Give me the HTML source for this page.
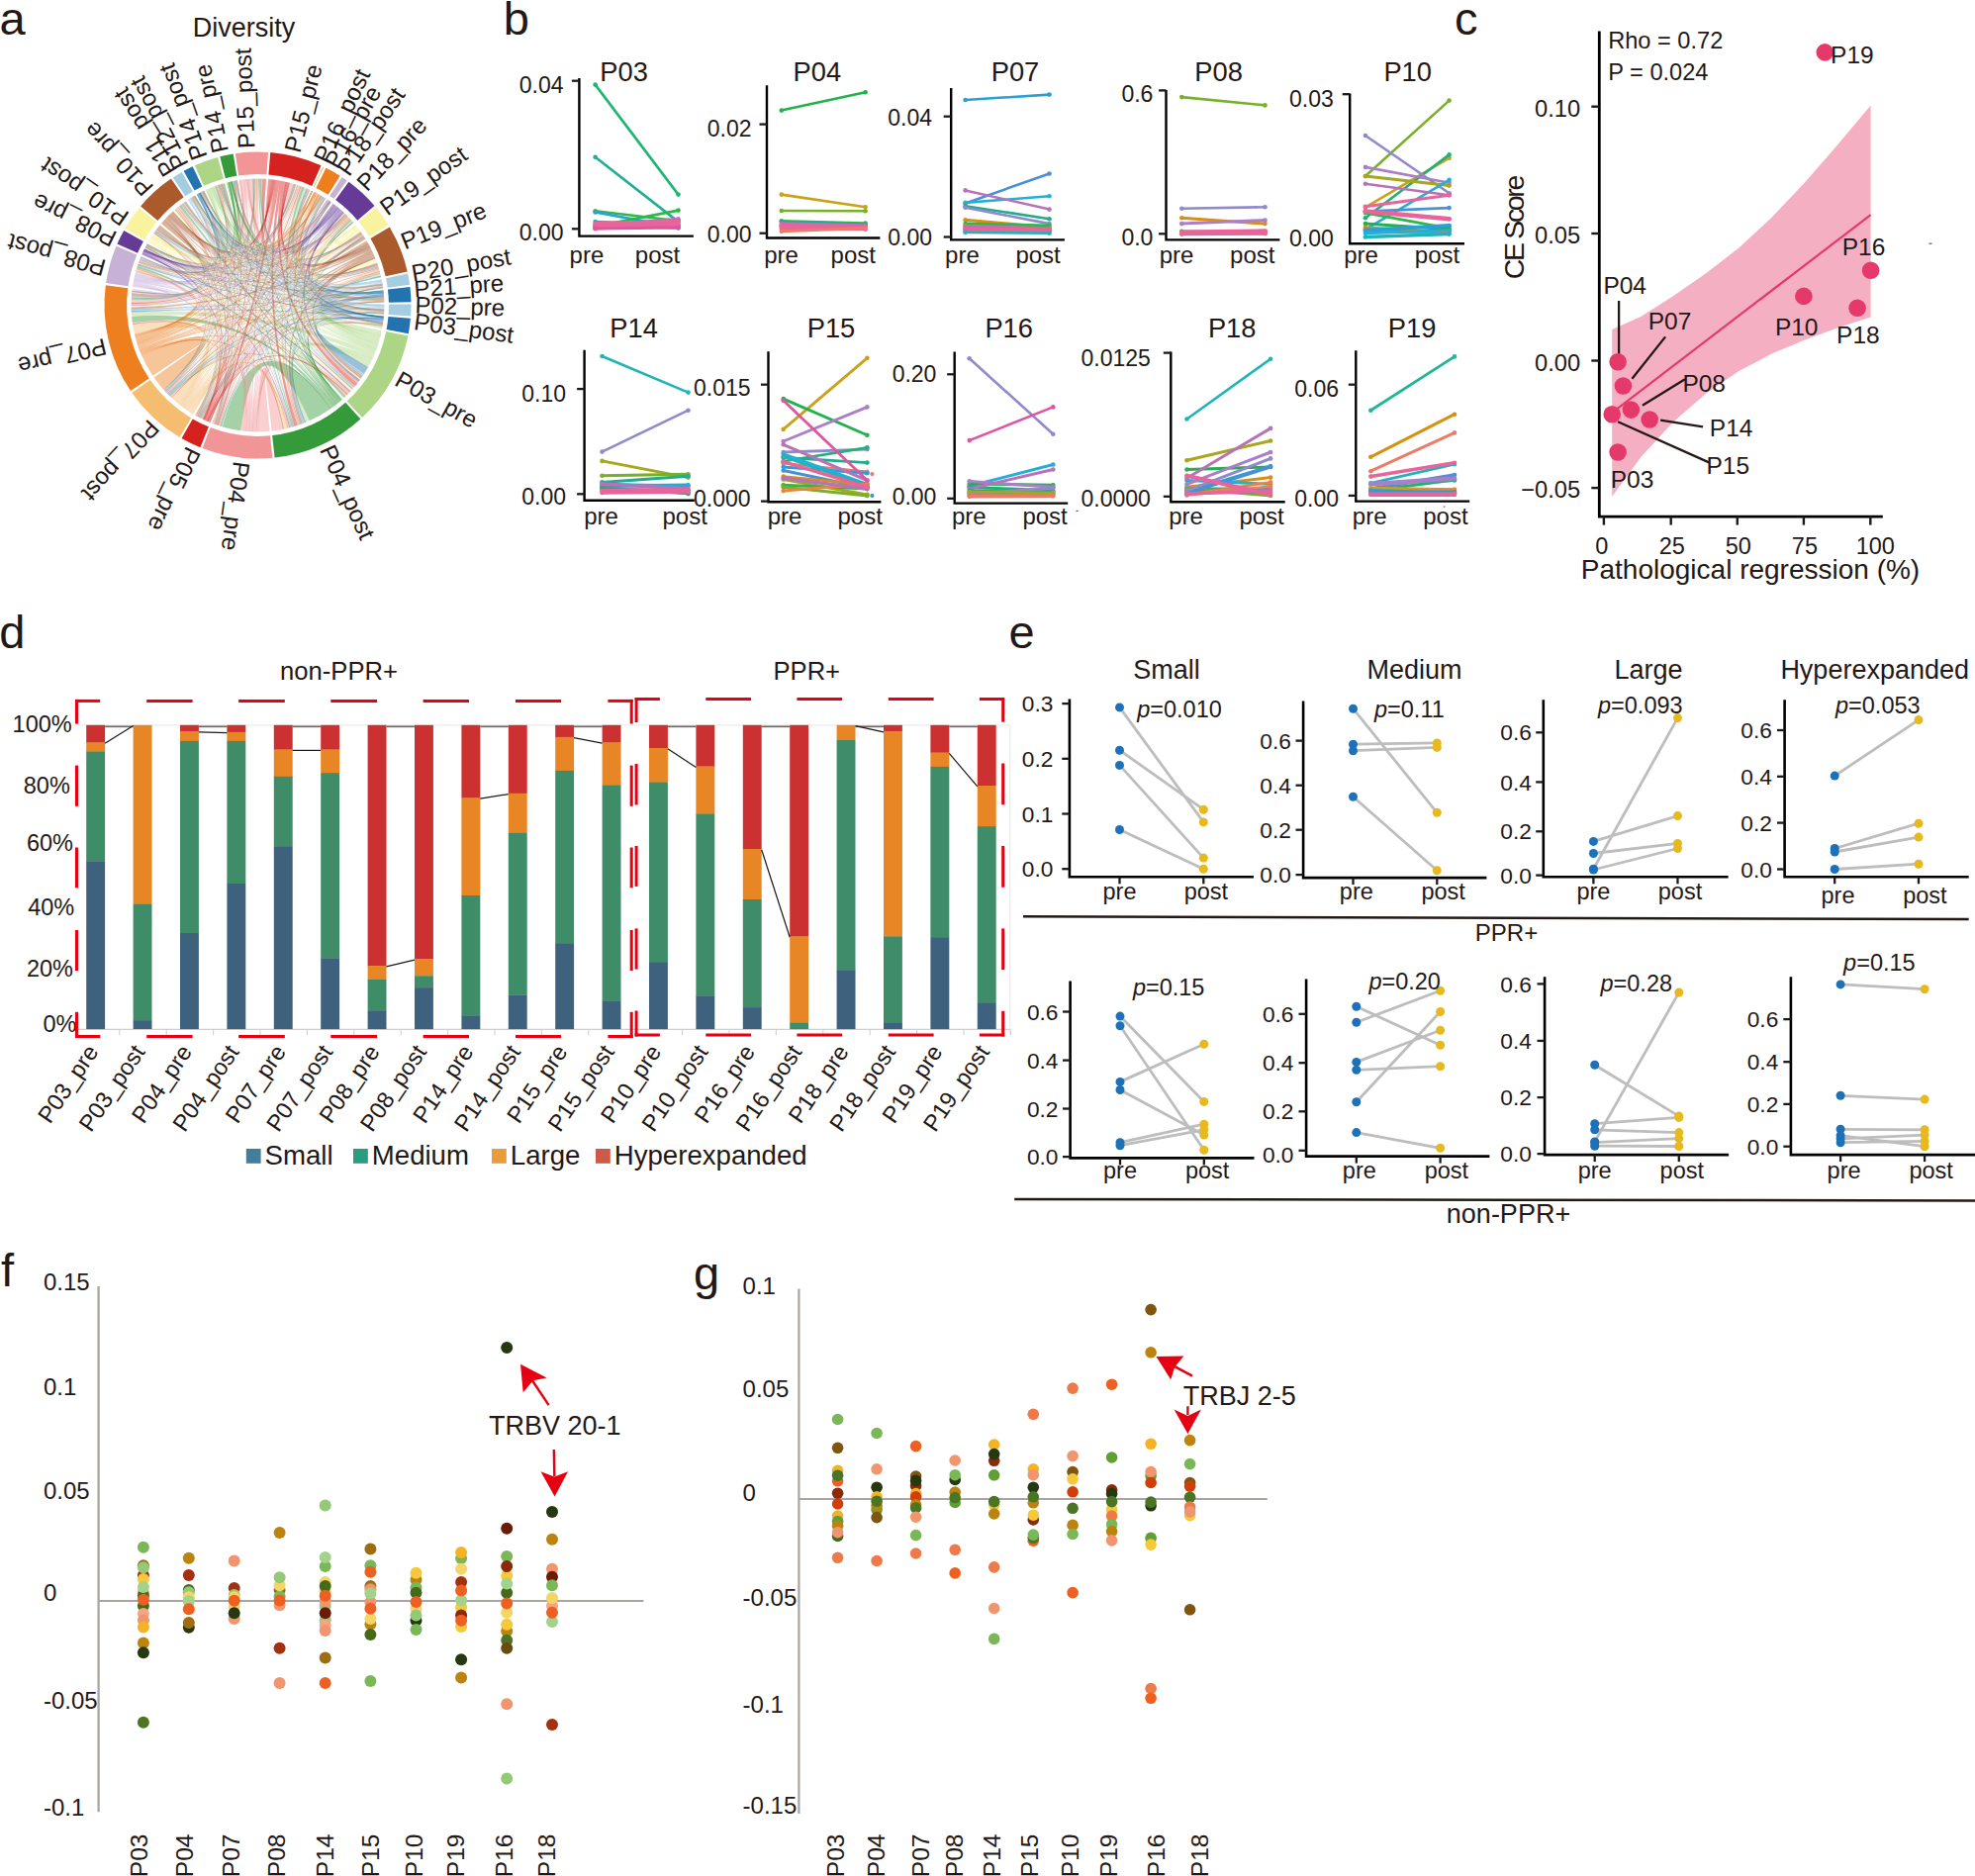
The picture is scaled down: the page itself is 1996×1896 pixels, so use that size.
<!DOCTYPE html>
<html><head><meta charset="utf-8"><title>Figure</title>
<style>
html,body{margin:0;padding:0;background:#fff;}
body{width:1996px;height:1896px;overflow:hidden;}
svg{display:block;font-family:"Liberation Sans",Arial,Helvetica,sans-serif;}
</style></head><body>
<svg width="1996" height="1896" viewBox="0 0 1996 1896">
<rect width="1996" height="1896" fill="#fff"/>
<g id="panel-a">
<text x="-0.4" y="34.5" font-size="47" text-anchor="start" fill="#231815" >a</text>
<text x="246.5" y="37.2" font-size="27" text-anchor="middle" fill="#231815" >Diversity</text>
<g fill-opacity="0.45" stroke-opacity="0.2" stroke-width="0.3">
<path d="M333.8 413.2A127.8 127.8 0 0 1 312.9 425.1Q260.5 308.5 243.0 435.1A127.8 127.8 0 0 1 224.7 431.2Q260.5 308.5 333.8 413.2Z" fill="#359a3a" stroke="#359a3a"/>
<path d="M154.4 379.8A127.8 127.8 0 0 1 143.2 359.1Q260.5 308.5 165.2 393.7A127.8 127.8 0 0 1 155.7 381.6Q260.5 308.5 154.4 379.8Z" fill="#ee7f1e" stroke="#ee7f1e"/>
<path d="M272.5 435.7A127.8 127.8 0 0 1 261.3 436.3Q260.5 308.5 286.3 433.7A127.8 127.8 0 0 1 274.7 435.5Q260.5 308.5 272.5 435.7Z" fill="#f19596" stroke="#f19596"/>
<path d="M179.7 407.5A127.8 127.8 0 0 1 173.5 402.1Q260.5 308.5 136.1 337.8A127.8 127.8 0 0 1 134.2 327.9Q260.5 308.5 179.7 407.5Z" fill="#f5bd6f" stroke="#f5bd6f"/>
<path d="M374.5 366.3A127.8 127.8 0 0 1 372.0 371.0Q260.5 308.5 312.9 425.1A127.8 127.8 0 0 1 308.9 426.8Q260.5 308.5 374.5 366.3Z" fill="#acd686" stroke="#acd686"/>
<path d="M378.7 357.1A127.8 127.8 0 0 1 376.7 361.8Q260.5 308.5 133.2 320.3A127.8 127.8 0 0 1 132.9 315.5Q260.5 308.5 378.7 357.1Z" fill="#acd686" stroke="#acd686"/>
<path d="M385.7 334.2A127.8 127.8 0 0 1 384.6 338.9Q260.5 308.5 386.5 329.6A127.8 127.8 0 0 1 386.1 332.0Q260.5 308.5 385.7 334.2Z" fill="#acd686" stroke="#acd686"/>
<path d="M251.5 181.0A127.8 127.8 0 0 1 255.5 180.8Q260.5 308.5 292.6 184.8A127.8 127.8 0 0 1 296.8 186.0Q260.5 308.5 251.5 181.0Z" fill="#f19596" stroke="#f19596"/>
<path d="M163.0 225.8A127.8 127.8 0 0 1 165.6 222.9Q260.5 308.5 159.2 230.6A127.8 127.8 0 0 1 161.6 227.6Q260.5 308.5 163.0 225.8Z" fill="#ab5b2b" stroke="#ab5b2b"/>
<path d="M193.0 417.0A127.8 127.8 0 0 1 189.8 415.0Q260.5 308.5 290.6 432.7A127.8 127.8 0 0 1 286.7 433.6Q260.5 308.5 193.0 417.0Z" fill="#f5bd6f" stroke="#f5bd6f"/>
<path d="M279.4 182.1A127.8 127.8 0 0 1 283.0 182.7Q260.5 308.5 220.6 429.9A127.8 127.8 0 0 1 218.8 429.3Q260.5 308.5 279.4 182.1Z" fill="#d6221f" stroke="#d6221f"/>
<path d="M381.9 348.5A127.8 127.8 0 0 1 380.8 351.8Q260.5 308.5 307.4 189.6A127.8 127.8 0 0 1 309.7 190.6Q260.5 308.5 381.9 348.5Z" fill="#acd686" stroke="#acd686"/>
<path d="M376.0 363.2A127.8 127.8 0 0 1 374.5 366.3Q260.5 308.5 224.7 431.2A127.8 127.8 0 0 1 223.6 430.9Q260.5 308.5 376.0 363.2Z" fill="#acd686" stroke="#acd686"/>
<path d="M384.2 340.6A127.8 127.8 0 0 1 383.3 343.7Q260.5 308.5 384.2 276.5A127.8 127.8 0 0 1 384.8 278.7Q260.5 308.5 384.2 340.6Z" fill="#acd686" stroke="#acd686"/>
<path d="M283.0 182.7A127.8 127.8 0 0 1 285.9 183.3Q260.5 308.5 300.7 429.8A127.8 127.8 0 0 1 297.5 430.8Q260.5 308.5 283.0 182.7Z" fill="#d6221f" stroke="#d6221f"/>
<path d="M285.9 183.3A127.8 127.8 0 0 1 288.9 183.9Q260.5 308.5 361.2 387.2A127.8 127.8 0 0 1 358.8 390.2Q260.5 308.5 285.9 183.3Z" fill="#d6221f" stroke="#d6221f"/>
<path d="M362.7 231.8A127.8 127.8 0 0 1 364.5 234.2Q260.5 308.5 379.2 261.2A127.8 127.8 0 0 1 381.1 266.1Q260.5 308.5 362.7 231.8Z" fill="#f8f39c" stroke="#f8f39c"/>
<path d="M377.7 257.5A127.8 127.8 0 0 1 378.8 260.2Q260.5 308.5 366.6 379.7A127.8 127.8 0 0 1 364.6 382.7Q260.5 308.5 377.7 257.5Z" fill="#ab5b2b" stroke="#ab5b2b"/>
<path d="M336.9 410.9A127.8 127.8 0 0 1 334.6 412.6Q260.5 308.5 133.9 326.1A127.8 127.8 0 0 1 133.2 320.3Q260.5 308.5 336.9 410.9Z" fill="#359a3a" stroke="#359a3a"/>
<path d="M140.1 351.4A127.8 127.8 0 0 1 139.2 348.7Q260.5 308.5 351.7 219.0A127.8 127.8 0 0 1 353.2 220.6Q260.5 308.5 140.1 351.4Z" fill="#ee7f1e" stroke="#ee7f1e"/>
<path d="M166.1 222.4A127.8 127.8 0 0 1 167.9 220.4Q260.5 308.5 133.0 299.6A127.8 127.8 0 0 1 133.3 296.1Q260.5 308.5 166.1 222.4Z" fill="#ab5b2b" stroke="#ab5b2b"/>
<path d="M387.5 323.2A127.8 127.8 0 0 1 387.1 325.8Q260.5 308.5 372.0 371.0A127.8 127.8 0 0 1 367.9 377.7Q260.5 308.5 387.5 323.2Z" fill="#2273af" stroke="#2273af"/>
<path d="M246.8 435.6A127.8 127.8 0 0 1 244.2 435.3Q260.5 308.5 173.3 402.0A127.8 127.8 0 0 1 171.9 400.6Q260.5 308.5 246.8 435.6Z" fill="#f19596" stroke="#f19596"/>
<path d="M271.2 181.1A127.8 127.8 0 0 1 273.8 181.4Q260.5 308.5 266.3 180.8A127.8 127.8 0 0 1 269.0 181.0Q260.5 308.5 271.2 181.1Z" fill="#d6221f" stroke="#d6221f"/>
<path d="M344.4 212.1A127.8 127.8 0 0 1 346.3 213.8Q260.5 308.5 363.8 383.8A127.8 127.8 0 0 1 362.2 385.8Q260.5 308.5 344.4 212.1Z" fill="#653b97" stroke="#653b97"/>
<path d="M370.5 243.4A127.8 127.8 0 0 1 371.7 245.6Q260.5 308.5 367.9 239.3A127.8 127.8 0 0 1 369.4 241.5Q260.5 308.5 370.5 243.4Z" fill="#ab5b2b" stroke="#ab5b2b"/>
<path d="M195.1 418.3A127.8 127.8 0 0 1 193.0 417.0Q260.5 308.5 215.8 428.2A127.8 127.8 0 0 1 214.7 427.8Q260.5 308.5 195.1 418.3Z" fill="#f5bd6f" stroke="#f5bd6f"/>
<path d="M376.7 255.3A127.8 127.8 0 0 1 377.7 257.5Q260.5 308.5 305.9 428.0A127.8 127.8 0 0 1 303.4 428.9Q260.5 308.5 376.7 255.3Z" fill="#ab5b2b" stroke="#ab5b2b"/>
<path d="M136.7 276.7A127.8 127.8 0 0 1 137.3 274.3Q260.5 308.5 146.0 251.8A127.8 127.8 0 0 1 146.8 250.2Q260.5 308.5 136.7 276.7Z" fill="#c7b1d6" stroke="#c7b1d6"/>
<path d="M244.3 181.7A127.8 127.8 0 0 1 246.5 181.5Q260.5 308.5 132.7 305.9A127.8 127.8 0 0 1 132.8 302.7Q260.5 308.5 244.3 181.7Z" fill="#f19596" stroke="#f19596"/>
<path d="M336.5 205.8A127.8 127.8 0 0 1 338.3 207.1Q260.5 308.5 334.1 204.0A127.8 127.8 0 0 1 334.7 204.5Q260.5 308.5 336.5 205.8Z" fill="#653b97" stroke="#653b97"/>
<path d="M154.2 237.6A127.8 127.8 0 0 1 155.4 235.7Q260.5 308.5 174.8 213.7A127.8 127.8 0 0 1 176.9 211.8Q260.5 308.5 154.2 237.6Z" fill="#f8f39c" stroke="#f8f39c"/>
<path d="M383.2 344.2A127.8 127.8 0 0 1 382.6 346.2Q260.5 308.5 355.3 222.8A127.8 127.8 0 0 1 356.3 223.9Q260.5 308.5 383.2 344.2Z" fill="#acd686" stroke="#acd686"/>
<path d="M137.9 344.6A127.8 127.8 0 0 1 137.3 342.6Q260.5 308.5 219.2 187.6A127.8 127.8 0 0 1 220.4 187.1Q260.5 308.5 137.9 344.6Z" fill="#ee7f1e" stroke="#ee7f1e"/>
<path d="M229.1 184.6A127.8 127.8 0 0 1 231.0 184.2Q260.5 308.5 224.5 185.9A127.8 127.8 0 0 1 227.0 185.2Q260.5 308.5 229.1 184.6Z" fill="#359a3a" stroke="#359a3a"/>
<path d="M134.1 289.8A127.8 127.8 0 0 1 134.3 288.1Q260.5 308.5 133.5 294.1A127.8 127.8 0 0 1 133.8 292.0Q260.5 308.5 134.1 289.8Z" fill="#c7b1d6" stroke="#c7b1d6"/>
<path d="M258.2 436.3A127.8 127.8 0 0 1 256.6 436.2Q260.5 308.5 383.7 274.5A127.8 127.8 0 0 1 384.1 276.0Q260.5 308.5 258.2 436.3Z" fill="#f19596" stroke="#f19596"/>
<path d="M261.3 436.3A127.8 127.8 0 0 1 259.6 436.3Q260.5 308.5 350.7 399.0A127.8 127.8 0 0 1 349.3 400.4Q260.5 308.5 261.3 436.3Z" fill="#f19596" stroke="#f19596"/>
<path d="M382.5 346.6A127.8 127.8 0 0 1 382.0 348.1Q260.5 308.5 327.4 199.6A127.8 127.8 0 0 1 328.1 200.0Q260.5 308.5 382.5 346.6Z" fill="#acd686" stroke="#acd686"/>
<path d="M151.1 242.4A127.8 127.8 0 0 1 152.0 241.0Q260.5 308.5 356.0 393.5A127.8 127.8 0 0 1 354.4 395.2Q260.5 308.5 151.1 242.4Z" fill="#f8f39c" stroke="#f8f39c"/>
<path d="M135.6 281.5A127.8 127.8 0 0 1 135.9 279.9Q260.5 308.5 300.9 187.2A127.8 127.8 0 0 1 302.3 187.7Q260.5 308.5 135.6 281.5Z" fill="#c7b1d6" stroke="#c7b1d6"/>
<path d="M138.4 346.3A127.8 127.8 0 0 1 138.0 344.8Q260.5 308.5 257.4 180.7A127.8 127.8 0 0 1 258.6 180.7Q260.5 308.5 138.4 346.3Z" fill="#ee7f1e" stroke="#ee7f1e"/>
<path d="M187.5 413.4A127.8 127.8 0 0 1 186.3 412.5Q260.5 308.5 383.1 272.5A127.8 127.8 0 0 1 383.5 273.9Q260.5 308.5 187.5 413.4Z" fill="#f5bd6f" stroke="#f5bd6f"/>
<path d="M172.6 215.7A127.8 127.8 0 0 1 173.8 214.7Q260.5 308.5 297.9 186.3A127.8 127.8 0 0 1 299.4 186.8Q260.5 308.5 172.6 215.7Z" fill="#ab5b2b" stroke="#ab5b2b"/>
<path d="M250.7 435.9A127.8 127.8 0 0 1 249.2 435.8Q260.5 308.5 179.9 209.3A127.8 127.8 0 0 1 181.2 208.3Q260.5 308.5 250.7 435.9Z" fill="#f19596" stroke="#f19596"/>
<path d="M374.7 251.2A127.8 127.8 0 0 1 375.4 252.5Q260.5 308.5 132.8 312.5A127.8 127.8 0 0 1 132.7 310.6Q260.5 308.5 374.7 251.2Z" fill="#ab5b2b" stroke="#ab5b2b"/>
<path d="M182.1 409.4A127.8 127.8 0 0 1 180.9 408.5Q260.5 308.5 178.5 210.5A127.8 127.8 0 0 1 179.7 209.5Q260.5 308.5 182.1 409.4Z" fill="#f5bd6f" stroke="#f5bd6f"/>
<path d="M253.7 436.1A127.8 127.8 0 0 1 252.2 436.0Q260.5 308.5 259.8 180.7A127.8 127.8 0 0 1 261.2 180.7Q260.5 308.5 253.7 436.1Z" fill="#f19596" stroke="#f19596"/>
<path d="M140.7 353.1A127.8 127.8 0 0 1 140.2 351.7Q260.5 308.5 382.8 271.4A127.8 127.8 0 0 1 383.1 272.5Q260.5 308.5 140.7 353.1Z" fill="#ee7f1e" stroke="#ee7f1e"/>
<path d="M376.1 254.0A127.8 127.8 0 0 1 376.7 255.3Q260.5 308.5 222.5 430.5A127.8 127.8 0 0 1 221.9 430.3Q260.5 308.5 376.1 254.0Z" fill="#ab5b2b" stroke="#ab5b2b"/>
<path d="M342.2 406.8A127.8 127.8 0 0 1 341.1 407.7Q260.5 308.5 305.4 188.8A127.8 127.8 0 0 1 307.4 189.6Q260.5 308.5 342.2 406.8Z" fill="#359a3a" stroke="#359a3a"/>
<path d="M136.4 339.1A127.8 127.8 0 0 1 136.1 337.8Q260.5 308.5 137.3 274.3A127.8 127.8 0 0 1 137.7 273.1Q260.5 308.5 136.4 339.1Z" fill="#ee7f1e" stroke="#ee7f1e"/>
<path d="M216.1 188.7A127.8 127.8 0 0 1 217.4 188.2Q260.5 308.5 234.5 183.4A127.8 127.8 0 0 1 235.4 183.2Q260.5 308.5 216.1 188.7Z" fill="#acd686" stroke="#acd686"/>
<path d="M134.5 287.4A127.8 127.8 0 0 1 134.7 286.1Q260.5 308.5 216.7 428.6A127.8 127.8 0 0 1 216.1 428.4Q260.5 308.5 134.5 287.4Z" fill="#c7b1d6" stroke="#c7b1d6"/>
<path d="M375.4 252.5A127.8 127.8 0 0 1 376.0 253.8Q260.5 308.5 169.6 398.3A127.8 127.8 0 0 1 168.8 397.5Q260.5 308.5 375.4 252.5Z" fill="#ab5b2b" stroke="#ab5b2b"/>
<path d="M211.5 426.5A127.8 127.8 0 0 1 210.3 426.0Q260.5 308.5 351.6 398.1A127.8 127.8 0 0 1 350.7 399.0Q260.5 308.5 211.5 426.5Z" fill="#d6221f" stroke="#d6221f"/>
<path d="M343.9 405.4A127.8 127.8 0 0 1 342.9 406.2Q260.5 308.5 354.0 221.4A127.8 127.8 0 0 1 355.3 222.8Q260.5 308.5 343.9 405.4Z" fill="#359a3a" stroke="#359a3a"/>
<path d="M137.3 342.6A127.8 127.8 0 0 1 137.0 341.5Q260.5 308.5 203.0 194.4A127.8 127.8 0 0 1 203.7 194.0Q260.5 308.5 137.3 342.6Z" fill="#ee7f1e" stroke="#ee7f1e"/>
<path d="M136.4 278.0A127.8 127.8 0 0 1 136.7 276.8Q260.5 308.5 177.1 211.6A127.8 127.8 0 0 1 178.1 210.9Q260.5 308.5 136.4 278.0Z" fill="#c7b1d6" stroke="#c7b1d6"/>
<path d="M339.4 409.0A127.8 127.8 0 0 1 338.5 409.8Q260.5 308.5 181.2 208.3A127.8 127.8 0 0 1 182.8 207.0Q260.5 308.5 339.4 409.0Z" fill="#359a3a" stroke="#359a3a"/>
<path d="M244.2 435.3A127.8 127.8 0 0 1 243.0 435.1Q260.5 308.5 204.7 423.5A127.8 127.8 0 0 1 203.6 423.0Q260.5 308.5 244.2 435.3Z" fill="#f19596" stroke="#f19596"/>
<path d="M247.1 181.4A127.8 127.8 0 0 1 248.3 181.3Q260.5 308.5 218.8 429.3A127.8 127.8 0 0 1 218.2 429.1Q260.5 308.5 247.1 181.4Z" fill="#f19596" stroke="#f19596"/>
<path d="M346.0 403.5A127.8 127.8 0 0 1 345.1 404.2Q260.5 308.5 349.3 400.4A127.8 127.8 0 0 1 347.7 402.0Q260.5 308.5 346.0 403.5Z" fill="#359a3a" stroke="#359a3a"/>
<path d="M208.5 425.2A127.8 127.8 0 0 1 207.4 424.7Q260.5 308.5 303.6 188.2A127.8 127.8 0 0 1 304.5 188.5Q260.5 308.5 208.5 425.2Z" fill="#d6221f" stroke="#d6221f"/>
<path d="M142.5 357.5A127.8 127.8 0 0 1 142.1 356.5Q260.5 308.5 291.5 432.5A127.8 127.8 0 0 1 290.6 432.7Q260.5 308.5 142.5 357.5Z" fill="#ee7f1e" stroke="#ee7f1e"/>
<path d="M379.3 355.5A127.8 127.8 0 0 1 378.9 356.6Q260.5 308.5 147.4 249.0A127.8 127.8 0 0 1 147.7 248.4Q260.5 308.5 379.3 355.5Z" fill="#acd686" stroke="#acd686"/>
<path d="M180.6 408.2A127.8 127.8 0 0 1 179.7 407.5Q260.5 308.5 137.7 273.1A127.8 127.8 0 0 1 138.1 271.8Q260.5 308.5 180.6 408.2Z" fill="#f5bd6f" stroke="#f5bd6f"/>
<path d="M337.8 410.3A127.8 127.8 0 0 1 336.9 410.9Q260.5 308.5 138.4 270.7A127.8 127.8 0 0 1 139.1 268.7Q260.5 308.5 337.8 410.3Z" fill="#359a3a" stroke="#359a3a"/>
<path d="M142.1 356.5A127.8 127.8 0 0 1 141.6 355.5Q260.5 308.5 353.0 396.6A127.8 127.8 0 0 1 352.3 397.4Q260.5 308.5 142.1 356.5Z" fill="#ee7f1e" stroke="#ee7f1e"/>
<path d="M320.9 195.9A127.8 127.8 0 0 1 321.8 196.4Q260.5 308.5 362.1 386.0A127.8 127.8 0 0 1 361.3 387.1Q260.5 308.5 320.9 195.9Z" fill="#ee7f1e" stroke="#ee7f1e"/>
<path d="M291.1 184.4A127.8 127.8 0 0 1 292.2 184.7Q260.5 308.5 349.0 216.3A127.8 127.8 0 0 1 349.7 217.0Q260.5 308.5 291.1 184.4Z" fill="#d6221f" stroke="#d6221f"/>
<path d="M372.8 247.5A127.8 127.8 0 0 1 373.3 248.4Q260.5 308.5 263.7 180.7A127.8 127.8 0 0 1 264.7 180.8Q260.5 308.5 372.8 247.5Z" fill="#ab5b2b" stroke="#ab5b2b"/>
<path d="M247.9 435.7A127.8 127.8 0 0 1 246.8 435.6Q260.5 308.5 134.1 327.4A127.8 127.8 0 0 1 133.9 326.1Q260.5 308.5 247.9 435.7Z" fill="#f19596" stroke="#f19596"/>
<path d="M340.2 208.6A127.8 127.8 0 0 1 341.0 209.2Q260.5 308.5 222.7 186.4A127.8 127.8 0 0 1 223.3 186.2Q260.5 308.5 340.2 208.6Z" fill="#653b97" stroke="#653b97"/>
<path d="M384.5 339.6A127.8 127.8 0 0 1 384.2 340.6Q260.5 308.5 387.0 290.4A127.8 127.8 0 0 1 387.1 290.9Q260.5 308.5 384.5 339.6Z" fill="#acd686" stroke="#acd686"/>
<path d="M274.3 181.4A127.8 127.8 0 0 1 275.3 181.6Q260.5 308.5 223.6 186.1A127.8 127.8 0 0 1 224.4 185.9Q260.5 308.5 274.3 181.4Z" fill="#d6221f" stroke="#d6221f"/>
<path d="M373.7 249.2A127.8 127.8 0 0 1 374.2 250.1Q260.5 308.5 184.3 205.9A127.8 127.8 0 0 1 185.2 205.2Q260.5 308.5 373.7 249.2Z" fill="#ab5b2b" stroke="#ab5b2b"/>
<path d="M243.3 181.9A127.8 127.8 0 0 1 244.3 181.7Q260.5 308.5 140.6 264.2A127.8 127.8 0 0 1 141.1 263.1Q260.5 308.5 243.3 181.9Z" fill="#f19596" stroke="#f19596"/>
<path d="M339.1 207.8A127.8 127.8 0 0 1 339.9 208.4Q260.5 308.5 265.1 180.8A127.8 127.8 0 0 1 265.9 180.8Q260.5 308.5 339.1 207.8Z" fill="#653b97" stroke="#653b97"/>
<path d="M254.6 436.2A127.8 127.8 0 0 1 253.7 436.1Q260.5 308.5 304.5 188.5A127.8 127.8 0 0 1 305.4 188.8Q260.5 308.5 254.6 436.2Z" fill="#f19596" stroke="#f19596"/>
<path d="M153.1 239.2A127.8 127.8 0 0 1 153.6 238.4Q260.5 308.5 299.4 186.8A127.8 127.8 0 0 1 300.5 187.1Q260.5 308.5 153.1 239.2Z" fill="#f8f39c" stroke="#f8f39c"/>
<path d="M184.5 411.2A127.8 127.8 0 0 1 183.7 410.7Q260.5 308.5 302.8 187.9A127.8 127.8 0 0 1 303.6 188.2Q260.5 308.5 184.5 411.2Z" fill="#f5bd6f" stroke="#f5bd6f"/>
<path d="M137.0 341.5A127.8 127.8 0 0 1 136.8 340.5Q260.5 308.5 193.8 199.5A127.8 127.8 0 0 1 194.2 199.2Q260.5 308.5 137.0 341.5Z" fill="#ee7f1e" stroke="#ee7f1e"/>
<path d="M138.9 348.0A127.8 127.8 0 0 1 138.7 347.1Q260.5 308.5 325.7 198.6A127.8 127.8 0 0 1 326.2 198.9Q260.5 308.5 138.9 348.0Z" fill="#ee7f1e" stroke="#ee7f1e"/>
<path d="M134.7 286.1A127.8 127.8 0 0 1 134.9 285.2Q260.5 308.5 292.4 432.2A127.8 127.8 0 0 1 291.5 432.5Q260.5 308.5 134.7 286.1Z" fill="#c7b1d6" stroke="#c7b1d6"/>
<path d="M169.3 219.0A127.8 127.8 0 0 1 169.9 218.3Q260.5 308.5 356.7 392.6A127.8 127.8 0 0 1 356.0 393.5Q260.5 308.5 169.3 219.0Z" fill="#ab5b2b" stroke="#ab5b2b"/>
<path d="M387.8 296.8A127.8 127.8 0 0 1 387.8 297.7Q260.5 308.5 170.4 399.1A127.8 127.8 0 0 1 169.8 398.6Q260.5 308.5 387.8 296.8Z" fill="#2273af" stroke="#2273af"/>
<path d="M289.9 184.1A127.8 127.8 0 0 1 290.8 184.3Q260.5 308.5 381.4 267.1A127.8 127.8 0 0 1 381.7 267.9Q260.5 308.5 289.9 184.1Z" fill="#d6221f" stroke="#d6221f"/>
<path d="M379.8 354.3A127.8 127.8 0 0 1 379.5 355.1Q260.5 308.5 182.8 207.0A127.8 127.8 0 0 1 183.3 206.6Q260.5 308.5 379.8 354.3Z" fill="#acd686" stroke="#acd686"/>
<path d="M338.5 207.2A127.8 127.8 0 0 1 339.1 207.8Q260.5 308.5 312.1 191.6A127.8 127.8 0 0 1 312.7 191.9Q260.5 308.5 338.5 207.2Z" fill="#653b97" stroke="#653b97"/>
<path d="M171.3 217.0A127.8 127.8 0 0 1 171.9 216.4Q260.5 308.5 350.5 217.8A127.8 127.8 0 0 1 351.1 218.3Q260.5 308.5 171.3 217.0Z" fill="#ab5b2b" stroke="#ab5b2b"/>
<path d="M210.2 191.0A127.8 127.8 0 0 1 211.0 190.7Q260.5 308.5 166.7 395.3A127.8 127.8 0 0 1 166.3 394.8Q260.5 308.5 210.2 191.0Z" fill="#acd686" stroke="#acd686"/>
<path d="M142.8 358.3A127.8 127.8 0 0 1 142.5 357.5Q260.5 308.5 216.1 428.4A127.8 127.8 0 0 1 215.8 428.2Q260.5 308.5 142.8 358.3Z" fill="#ee7f1e" stroke="#ee7f1e"/>
<path d="M380.1 353.5A127.8 127.8 0 0 1 379.8 354.3Q260.5 308.5 195.3 198.6A127.8 127.8 0 0 1 195.7 198.3Q260.5 308.5 380.1 353.5Z" fill="#acd686" stroke="#acd686"/>
<path d="M143.2 359.1A127.8 127.8 0 0 1 142.8 358.3Q260.5 308.5 198.0 420.0A127.8 127.8 0 0 1 197.4 419.6Q260.5 308.5 143.2 359.1Z" fill="#ee7f1e" stroke="#ee7f1e"/>
<path d="M141.0 353.9A127.8 127.8 0 0 1 140.7 353.1Q260.5 308.5 386.8 288.8A127.8 127.8 0 0 1 386.9 289.3Q260.5 308.5 141.0 353.9Z" fill="#ee7f1e" stroke="#ee7f1e"/>
<path d="M183.7 410.7A127.8 127.8 0 0 1 183.0 410.1Q260.5 308.5 258.6 180.7A127.8 127.8 0 0 1 259.4 180.7Q260.5 308.5 183.7 410.7Z" fill="#f5bd6f" stroke="#f5bd6f"/>
<path d="M189.1 414.5A127.8 127.8 0 0 1 188.4 414.0Q260.5 308.5 386.7 328.5A127.8 127.8 0 0 1 386.6 329.0Q260.5 308.5 189.1 414.5Z" fill="#f5bd6f" stroke="#f5bd6f"/>
<path d="M199.6 196.2A127.8 127.8 0 0 1 200.3 195.8Q260.5 308.5 132.9 301.8A127.8 127.8 0 0 1 133.0 300.2Q260.5 308.5 199.6 196.2Z" fill="#2273af" stroke="#2273af"/>
<path d="M376.7 361.8A127.8 127.8 0 0 1 376.3 362.5Q260.5 308.5 171.3 400.1A127.8 127.8 0 0 1 171.0 399.7Q260.5 308.5 376.7 361.8Z" fill="#acd686" stroke="#acd686"/>
<path d="M388.3 310.4A127.8 127.8 0 0 1 388.3 311.2Q260.5 308.5 223.4 430.8A127.8 127.8 0 0 1 223.0 430.7Q260.5 308.5 388.3 310.4Z" fill="#a4cde2" stroke="#a4cde2"/>
<path d="M341.1 407.7A127.8 127.8 0 0 1 340.5 408.2Q260.5 308.5 261.2 180.7A127.8 127.8 0 0 1 262.4 180.7Q260.5 308.5 341.1 407.7Z" fill="#359a3a" stroke="#359a3a"/>
<path d="M361.5 230.1A127.8 127.8 0 0 1 361.9 230.8Q260.5 308.5 221.9 430.3A127.8 127.8 0 0 1 221.2 430.1Q260.5 308.5 361.5 230.1Z" fill="#f8f39c" stroke="#f8f39c"/>
<path d="M189.8 415.0A127.8 127.8 0 0 1 189.1 414.5Q260.5 308.5 352.3 397.4A127.8 127.8 0 0 1 351.6 398.1Q260.5 308.5 189.8 415.0Z" fill="#f5bd6f" stroke="#f5bd6f"/>
<path d="M168.4 219.9A127.8 127.8 0 0 1 168.9 219.3Q260.5 308.5 217.8 428.9A127.8 127.8 0 0 1 217.4 428.8Q260.5 308.5 168.4 219.9Z" fill="#ab5b2b" stroke="#ab5b2b"/>
<path d="M139.2 348.7A127.8 127.8 0 0 1 138.9 348.0Q260.5 308.5 333.2 203.4A127.8 127.8 0 0 1 333.4 203.5Q260.5 308.5 139.2 348.7Z" fill="#ee7f1e" stroke="#ee7f1e"/>
<path d="M141.5 355.2A127.8 127.8 0 0 1 141.2 354.4Q260.5 308.5 388.1 315.4A127.8 127.8 0 0 1 388.1 315.9Q260.5 308.5 141.5 355.2Z" fill="#ee7f1e" stroke="#ee7f1e"/>
<path d="M136.1 279.4A127.8 127.8 0 0 1 136.2 278.7Q260.5 308.5 218.7 187.7A127.8 127.8 0 0 1 219.2 187.6Q260.5 308.5 136.1 279.4Z" fill="#c7b1d6" stroke="#c7b1d6"/>
<path d="M186.3 412.5A127.8 127.8 0 0 1 185.6 412.1Q260.5 308.5 366.7 237.3A127.8 127.8 0 0 1 367.1 238.0Q260.5 308.5 186.3 412.5Z" fill="#f5bd6f" stroke="#f5bd6f"/>
<path d="M388.3 311.2A127.8 127.8 0 0 1 388.3 311.9Q260.5 308.5 307.7 427.3A127.8 127.8 0 0 1 306.8 427.6Q260.5 308.5 388.3 311.2Z" fill="#a4cde2" stroke="#a4cde2"/>
<path d="M144.5 254.8A127.8 127.8 0 0 1 144.8 254.1Q260.5 308.5 354.4 395.2A127.8 127.8 0 0 1 353.5 396.2Q260.5 308.5 144.5 254.8Z" fill="#653b97" stroke="#653b97"/>
<path d="M342.9 210.8A127.8 127.8 0 0 1 343.4 211.3Q260.5 308.5 168.5 397.2A127.8 127.8 0 0 1 168.2 396.8Q260.5 308.5 342.9 210.8Z" fill="#653b97" stroke="#653b97"/>
<path d="M376.3 362.5A127.8 127.8 0 0 1 376.0 363.2Q260.5 308.5 203.1 422.7A127.8 127.8 0 0 1 202.6 422.4Q260.5 308.5 376.3 362.5Z" fill="#acd686" stroke="#acd686"/>
<path d="M256.2 436.2A127.8 127.8 0 0 1 255.5 436.2Q260.5 308.5 353.6 220.9A127.8 127.8 0 0 1 354.0 221.4Q260.5 308.5 256.2 436.2Z" fill="#f19596" stroke="#f19596"/>
<path d="M277.6 181.8A127.8 127.8 0 0 1 278.3 181.9Q260.5 308.5 132.7 306.9A127.8 127.8 0 0 1 132.7 305.9Q260.5 308.5 277.6 181.8Z" fill="#d6221f" stroke="#d6221f"/>
<path d="M276.4 181.7A127.8 127.8 0 0 1 277.1 181.8Q260.5 308.5 158.0 232.1A127.8 127.8 0 0 1 158.5 231.6Q260.5 308.5 276.4 181.7Z" fill="#d6221f" stroke="#d6221f"/>
<path d="M170.7 217.6A127.8 127.8 0 0 1 171.2 217.1Q260.5 308.5 382.2 269.5A127.8 127.8 0 0 1 382.4 270.2Q260.5 308.5 170.7 217.6Z" fill="#ab5b2b" stroke="#ab5b2b"/>
<path d="M143.4 257.3A127.8 127.8 0 0 1 143.7 256.7Q260.5 308.5 142.0 260.6A127.8 127.8 0 0 1 142.5 259.4Q260.5 308.5 143.4 257.3Z" fill="#653b97" stroke="#653b97"/>
<path d="M342.8 406.3A127.8 127.8 0 0 1 342.2 406.7Q260.5 308.5 326.7 199.2A127.8 127.8 0 0 1 327.4 199.6Q260.5 308.5 342.8 406.3Z" fill="#359a3a" stroke="#359a3a"/>
<path d="M248.6 435.7A127.8 127.8 0 0 1 247.9 435.7Q260.5 308.5 138.2 271.4A127.8 127.8 0 0 1 138.4 270.7Q260.5 308.5 248.6 435.7Z" fill="#f19596" stroke="#f19596"/>
<path d="M320.3 195.5A127.8 127.8 0 0 1 320.9 195.9Q260.5 308.5 301.9 429.4A127.8 127.8 0 0 1 301.2 429.7Q260.5 308.5 320.3 195.5Z" fill="#ee7f1e" stroke="#ee7f1e"/>
<path d="M209.8 425.8A127.8 127.8 0 0 1 209.2 425.5Q260.5 308.5 383.5 273.9A127.8 127.8 0 0 1 383.7 274.5Q260.5 308.5 209.8 425.8Z" fill="#d6221f" stroke="#d6221f"/>
<path d="M360.8 229.3A127.8 127.8 0 0 1 361.2 229.9Q260.5 308.5 132.7 310.6A127.8 127.8 0 0 1 132.7 309.0Q260.5 308.5 360.8 229.3Z" fill="#f8f39c" stroke="#f8f39c"/>
<path d="M172.1 216.2A127.8 127.8 0 0 1 172.6 215.8Q260.5 308.5 324.7 198.0A127.8 127.8 0 0 1 325.1 198.3Q260.5 308.5 172.1 216.2Z" fill="#ab5b2b" stroke="#ab5b2b"/>
<path d="M138.6 347.0A127.8 127.8 0 0 1 138.4 346.3Q260.5 308.5 302.3 187.7A127.8 127.8 0 0 1 302.8 187.9Q260.5 308.5 138.6 347.0Z" fill="#ee7f1e" stroke="#ee7f1e"/>
<path d="M136.8 340.5A127.8 127.8 0 0 1 136.6 339.9Q260.5 308.5 178.1 210.9A127.8 127.8 0 0 1 178.5 210.5Q260.5 308.5 136.8 340.5Z" fill="#ee7f1e" stroke="#ee7f1e"/>
<path d="M371.7 245.6A127.8 127.8 0 0 1 372.1 246.2Q260.5 308.5 356.8 224.5A127.8 127.8 0 0 1 357.2 225.0Q260.5 308.5 371.7 245.6Z" fill="#ab5b2b" stroke="#ab5b2b"/>
<path d="M208.5 191.8A127.8 127.8 0 0 1 209.1 191.5Q260.5 308.5 187.1 203.9A127.8 127.8 0 0 1 187.6 203.6Q260.5 308.5 208.5 191.8Z" fill="#acd686" stroke="#acd686"/>
<path d="M191.7 200.8A127.8 127.8 0 0 1 192.3 200.4Q260.5 308.5 357.6 391.6A127.8 127.8 0 0 1 356.7 392.6Q260.5 308.5 191.7 200.8Z" fill="#a4cde2" stroke="#a4cde2"/>
<path d="M251.4 436.0A127.8 127.8 0 0 1 250.7 435.9Q260.5 308.5 194.5 199.1A127.8 127.8 0 0 1 194.8 198.9Q260.5 308.5 251.4 436.0Z" fill="#f19596" stroke="#f19596"/>
<path d="M188.1 413.8A127.8 127.8 0 0 1 187.5 413.4Q260.5 308.5 386.9 289.3A127.8 127.8 0 0 1 386.9 289.8Q260.5 308.5 188.1 413.8Z" fill="#f5bd6f" stroke="#f5bd6f"/>
<path d="M150.6 243.2A127.8 127.8 0 0 1 151.0 242.7Q260.5 308.5 217.4 428.8A127.8 127.8 0 0 1 217.1 428.7Q260.5 308.5 150.6 243.2Z" fill="#f8f39c" stroke="#f8f39c"/>
<path d="M212.4 426.9A127.8 127.8 0 0 1 211.8 426.7Q260.5 308.5 214.7 427.8A127.8 127.8 0 0 1 214.5 427.7Q260.5 308.5 212.4 426.9Z" fill="#d6221f" stroke="#d6221f"/>
<path d="M143.7 256.7A127.8 127.8 0 0 1 143.9 256.1Q260.5 308.5 133.4 295.3A127.8 127.8 0 0 1 133.5 294.1Q260.5 308.5 143.7 256.7Z" fill="#653b97" stroke="#653b97"/>
<path d="M338.3 409.9A127.8 127.8 0 0 1 337.8 410.3Q260.5 308.5 147.0 249.7A127.8 127.8 0 0 1 147.4 249.0Q260.5 308.5 338.3 409.9Z" fill="#359a3a" stroke="#359a3a"/>
<path d="M387.9 298.7A127.8 127.8 0 0 1 388.0 299.3Q260.5 308.5 367.5 378.4A127.8 127.8 0 0 1 367.0 379.1Q260.5 308.5 387.9 298.7Z" fill="#2273af" stroke="#2273af"/>
<path d="M191.2 201.1A127.8 127.8 0 0 1 191.7 200.8Q260.5 308.5 295.2 431.5A127.8 127.8 0 0 1 294.2 431.8Q260.5 308.5 191.2 201.1Z" fill="#a4cde2" stroke="#a4cde2"/>
<path d="M372.2 246.3A127.8 127.8 0 0 1 372.5 246.9Q260.5 308.5 328.5 200.3A127.8 127.8 0 0 1 328.8 200.5Q260.5 308.5 372.2 246.3Z" fill="#ab5b2b" stroke="#ab5b2b"/>
<path d="M141.2 354.4A127.8 127.8 0 0 1 141.0 353.9Q260.5 308.5 388.2 303.6A127.8 127.8 0 0 1 388.2 304.1Q260.5 308.5 141.2 354.4Z" fill="#ee7f1e" stroke="#ee7f1e"/>
<path d="M343.9 211.7A127.8 127.8 0 0 1 344.4 212.1Q260.5 308.5 303.0 429.0A127.8 127.8 0 0 1 302.5 429.2Q260.5 308.5 343.9 211.7Z" fill="#653b97" stroke="#653b97"/>
<path d="M362.1 231.0A127.8 127.8 0 0 1 362.5 231.4Q260.5 308.5 364.6 382.7A127.8 127.8 0 0 1 363.8 383.8Q260.5 308.5 362.1 231.0Z" fill="#f8f39c" stroke="#f8f39c"/>
<path d="M387.5 294.3A127.8 127.8 0 0 1 387.6 294.9Q260.5 308.5 310.3 190.8A127.8 127.8 0 0 1 310.9 191.0Q260.5 308.5 387.5 294.3Z" fill="#2273af" stroke="#2273af"/>
<path d="M332.3 202.8A127.8 127.8 0 0 1 332.8 203.1Q260.5 308.5 347.7 215.0A127.8 127.8 0 0 1 348.7 216.0Q260.5 308.5 332.3 202.8Z" fill="#c7b1d6" stroke="#c7b1d6"/>
<path d="M380.6 352.3A127.8 127.8 0 0 1 380.4 352.9Q260.5 308.5 237.5 182.8A127.8 127.8 0 0 1 237.8 182.7Q260.5 308.5 380.6 352.3Z" fill="#acd686" stroke="#acd686"/>
<path d="M372.5 247.0A127.8 127.8 0 0 1 372.8 247.5Q260.5 308.5 311.1 191.1A127.8 127.8 0 0 1 311.6 191.4Q260.5 308.5 372.5 247.0Z" fill="#ab5b2b" stroke="#ab5b2b"/>
<path d="M380.8 351.8A127.8 127.8 0 0 1 380.6 352.3Q260.5 308.5 262.4 180.7A127.8 127.8 0 0 1 262.8 180.7Q260.5 308.5 380.8 351.8Z" fill="#acd686" stroke="#acd686"/>
<path d="M346.7 214.1A127.8 127.8 0 0 1 347.1 214.5Q260.5 308.5 388.0 300.0A127.8 127.8 0 0 1 388.0 300.5Q260.5 308.5 346.7 214.1Z" fill="#653b97" stroke="#653b97"/>
<path d="M386.2 285.2A127.8 127.8 0 0 1 386.3 285.8Q260.5 308.5 222.9 430.6A127.8 127.8 0 0 1 222.5 430.5Q260.5 308.5 386.2 285.2Z" fill="#a4cde2" stroke="#a4cde2"/>
<path d="M213.2 189.8A127.8 127.8 0 0 1 213.7 189.6Q260.5 308.5 388.1 302.0A127.8 127.8 0 0 1 388.2 302.5Q260.5 308.5 213.2 189.8Z" fill="#acd686" stroke="#acd686"/>
<path d="M322.3 196.6A127.8 127.8 0 0 1 322.8 196.9Q260.5 308.5 381.2 266.5A127.8 127.8 0 0 1 381.4 267.0Q260.5 308.5 322.3 196.6Z" fill="#ee7f1e" stroke="#ee7f1e"/>
<path d="M342.4 210.4A127.8 127.8 0 0 1 342.9 210.8Q260.5 308.5 132.7 309.0A127.8 127.8 0 0 1 132.7 308.4Q260.5 308.5 342.4 210.4Z" fill="#653b97" stroke="#653b97"/>
<path d="M150.0 244.2A127.8 127.8 0 0 1 150.3 243.7Q260.5 308.5 133.3 296.1A127.8 127.8 0 0 1 133.4 295.3Q260.5 308.5 150.0 244.2Z" fill="#f8f39c" stroke="#f8f39c"/>
<path d="M278.3 181.9A127.8 127.8 0 0 1 278.8 182.0Q260.5 308.5 167.7 396.3A127.8 127.8 0 0 1 167.3 396.0Q260.5 308.5 278.3 181.9Z" fill="#d6221f" stroke="#d6221f"/>
<path d="M374.3 250.3A127.8 127.8 0 0 1 374.5 250.8Q260.5 308.5 147.9 248.1A127.8 127.8 0 0 1 148.1 247.7Q260.5 308.5 374.3 250.3Z" fill="#ab5b2b" stroke="#ab5b2b"/>
<path d="M388.3 311.9A127.8 127.8 0 0 1 388.2 312.5Q260.5 308.5 367.9 377.7A127.8 127.8 0 0 1 367.5 378.4Q260.5 308.5 388.3 311.9Z" fill="#a4cde2" stroke="#a4cde2"/>
<path d="M278.8 182.0A127.8 127.8 0 0 1 279.4 182.1Q260.5 308.5 200.9 421.5A127.8 127.8 0 0 1 200.3 421.3Q260.5 308.5 278.8 182.0Z" fill="#d6221f" stroke="#d6221f"/>
<path d="M214.5 189.3A127.8 127.8 0 0 1 215.1 189.1Q260.5 308.5 350.1 217.3A127.8 127.8 0 0 1 350.4 217.6Q260.5 308.5 214.5 189.3Z" fill="#acd686" stroke="#acd686"/>
<path d="M334.6 412.6A127.8 127.8 0 0 1 334.1 412.9Q260.5 308.5 171.9 400.6A127.8 127.8 0 0 1 171.3 400.1Q260.5 308.5 334.6 412.6Z" fill="#359a3a" stroke="#359a3a"/>
<path d="M378.9 356.6A127.8 127.8 0 0 1 378.7 357.1Q260.5 308.5 139.1 268.7A127.8 127.8 0 0 1 139.2 268.2Q260.5 308.5 378.9 356.6Z" fill="#acd686" stroke="#acd686"/>
<path d="M231.9 183.9A127.8 127.8 0 0 1 232.4 183.8Q260.5 308.5 167.2 395.8A127.8 127.8 0 0 1 166.7 395.3Q260.5 308.5 231.9 183.9Z" fill="#359a3a" stroke="#359a3a"/>
<path d="M339.8 408.7A127.8 127.8 0 0 1 339.4 409.0Q260.5 308.5 194.8 198.9A127.8 127.8 0 0 1 195.3 198.6Q260.5 308.5 339.8 408.7Z" fill="#359a3a" stroke="#359a3a"/>
<path d="M273.8 181.4A127.8 127.8 0 0 1 274.3 181.4Q260.5 308.5 239.3 182.5A127.8 127.8 0 0 1 239.8 182.4Q260.5 308.5 273.8 181.4Z" fill="#d6221f" stroke="#d6221f"/>
<path d="M134.9 284.6A127.8 127.8 0 0 1 135.1 284.1Q260.5 308.5 386.8 327.9A127.8 127.8 0 0 1 386.8 328.3Q260.5 308.5 134.9 284.6Z" fill="#c7b1d6" stroke="#c7b1d6"/>
<path d="M134.9 285.2A127.8 127.8 0 0 1 134.9 284.6Q260.5 308.5 353.5 396.2A127.8 127.8 0 0 1 353.0 396.6Q260.5 308.5 134.9 285.2Z" fill="#c7b1d6" stroke="#c7b1d6"/>
<path d="M255.5 436.2A127.8 127.8 0 0 1 254.9 436.2Q260.5 308.5 333.6 203.6A127.8 127.8 0 0 1 333.7 203.8Q260.5 308.5 255.5 436.2Z" fill="#f19596" stroke="#f19596"/>
<path d="M144.3 255.3A127.8 127.8 0 0 1 144.5 254.8Q260.5 308.5 293.3 432.0A127.8 127.8 0 0 1 292.4 432.2Q260.5 308.5 144.3 255.3Z" fill="#653b97" stroke="#653b97"/>
<path d="M232.7 183.8A127.8 127.8 0 0 1 233.2 183.6Q260.5 308.5 297.1 431.0A127.8 127.8 0 0 1 296.1 431.2Q260.5 308.5 232.7 183.8Z" fill="#359a3a" stroke="#359a3a"/>
<path d="M383.3 343.7A127.8 127.8 0 0 1 383.2 344.2Q260.5 308.5 367.5 238.7A127.8 127.8 0 0 1 367.8 239.0Q260.5 308.5 383.3 343.7Z" fill="#acd686" stroke="#acd686"/>
<path d="M135.2 283.4A127.8 127.8 0 0 1 135.3 282.9Q260.5 308.5 382.7 271.0A127.8 127.8 0 0 1 382.8 271.4Q260.5 308.5 135.2 283.4Z" fill="#c7b1d6" stroke="#c7b1d6"/>
<path d="M387.5 322.7A127.8 127.8 0 0 1 387.5 323.2Q260.5 308.5 308.9 426.8A127.8 127.8 0 0 1 307.7 427.3Q260.5 308.5 387.5 322.7Z" fill="#2273af" stroke="#2273af"/>
<path d="M153.8 238.1A127.8 127.8 0 0 1 154.1 237.7Q260.5 308.5 218.1 187.9A127.8 127.8 0 0 1 218.5 187.8Q260.5 308.5 153.8 238.1Z" fill="#f8f39c" stroke="#f8f39c"/>
<path d="M248.7 181.2A127.8 127.8 0 0 1 249.2 181.2Q260.5 308.5 358.8 390.2A127.8 127.8 0 0 1 358.3 390.8Q260.5 308.5 248.7 181.2Z" fill="#f19596" stroke="#f19596"/>
<path d="M168.9 219.3A127.8 127.8 0 0 1 169.3 219.0Q260.5 308.5 294.2 431.8A127.8 127.8 0 0 1 293.6 431.9Q260.5 308.5 168.9 219.3Z" fill="#ab5b2b" stroke="#ab5b2b"/>
<path d="M170.0 218.2A127.8 127.8 0 0 1 170.4 217.9Q260.5 308.5 388.2 314.4A127.8 127.8 0 0 1 388.1 314.9Q260.5 308.5 170.0 218.2Z" fill="#ab5b2b" stroke="#ab5b2b"/>
<path d="M182.6 409.8A127.8 127.8 0 0 1 182.2 409.5Q260.5 308.5 203.7 194.0A127.8 127.8 0 0 1 204.0 193.8Q260.5 308.5 182.6 409.8Z" fill="#f5bd6f" stroke="#f5bd6f"/>
<path d="M144.1 255.7A127.8 127.8 0 0 1 144.3 255.3Q260.5 308.5 217.1 428.7A127.8 127.8 0 0 1 216.7 428.6Q260.5 308.5 144.1 255.7Z" fill="#653b97" stroke="#653b97"/>
<path d="M214.1 189.4A127.8 127.8 0 0 1 214.5 189.3Q260.5 308.5 365.5 235.6A127.8 127.8 0 0 1 365.7 236.0Q260.5 308.5 214.1 189.4Z" fill="#acd686" stroke="#acd686"/>
<path d="M259.5 436.3A127.8 127.8 0 0 1 259.0 436.3Q260.5 308.5 388.1 316.3A127.8 127.8 0 0 1 388.0 316.7Q260.5 308.5 259.5 436.3Z" fill="#f19596" stroke="#f19596"/>
<path d="M174.3 214.2A127.8 127.8 0 0 1 174.6 213.8Q260.5 308.5 217.7 188.1A127.8 127.8 0 0 1 218.1 187.9Q260.5 308.5 174.3 214.2Z" fill="#ab5b2b" stroke="#ab5b2b"/>
<path d="M212.3 190.1A127.8 127.8 0 0 1 212.8 189.9Q260.5 308.5 386.9 327.1A127.8 127.8 0 0 1 386.9 327.3Q260.5 308.5 212.3 190.1Z" fill="#acd686" stroke="#acd686"/>
<path d="M374.5 250.8A127.8 127.8 0 0 1 374.7 251.2Q260.5 308.5 139.6 267.0A127.8 127.8 0 0 1 139.8 266.5Q260.5 308.5 374.5 250.8Z" fill="#ab5b2b" stroke="#ab5b2b"/>
<path d="M209.3 191.4A127.8 127.8 0 0 1 209.8 191.2Q260.5 308.5 141.2 262.8A127.8 127.8 0 0 1 141.3 262.3Q260.5 308.5 209.3 191.4Z" fill="#acd686" stroke="#acd686"/>
<path d="M251.0 181.1A127.8 127.8 0 0 1 251.5 181.0Q260.5 308.5 324.0 197.6A127.8 127.8 0 0 1 324.4 197.8Q260.5 308.5 251.0 181.1Z" fill="#f19596" stroke="#f19596"/>
<path d="M387.7 296.3A127.8 127.8 0 0 1 387.8 296.8Q260.5 308.5 132.8 313.5A127.8 127.8 0 0 1 132.8 312.8Q260.5 308.5 387.7 296.3Z" fill="#2273af" stroke="#2273af"/>
<path d="M135.5 282.0A127.8 127.8 0 0 1 135.6 281.5Q260.5 308.5 325.4 198.4A127.8 127.8 0 0 1 325.7 198.6Q260.5 308.5 135.5 282.0Z" fill="#c7b1d6" stroke="#c7b1d6"/>
<path d="M185.0 411.6A127.8 127.8 0 0 1 184.6 411.3Q260.5 308.5 326.2 198.9A127.8 127.8 0 0 1 326.4 199.0Q260.5 308.5 185.0 411.6Z" fill="#f5bd6f" stroke="#f5bd6f"/>
<path d="M275.9 181.6A127.8 127.8 0 0 1 276.4 181.7Q260.5 308.5 186.2 204.5A127.8 127.8 0 0 1 186.7 204.2Q260.5 308.5 275.9 181.6Z" fill="#d6221f" stroke="#d6221f"/>
<path d="M341.7 209.8A127.8 127.8 0 0 1 342.1 210.1Q260.5 308.5 157.7 232.6A127.8 127.8 0 0 1 157.9 232.3Q260.5 308.5 341.7 209.8Z" fill="#653b97" stroke="#653b97"/>
<path d="M387.6 321.6A127.8 127.8 0 0 1 387.6 322.1Q260.5 308.5 132.9 315.5A127.8 127.8 0 0 1 132.8 314.1Q260.5 308.5 387.6 321.6Z" fill="#2273af" stroke="#2273af"/>
<path d="M341.0 209.2A127.8 127.8 0 0 1 341.4 209.5Q260.5 308.5 205.3 193.3A127.8 127.8 0 0 1 205.5 193.1Q260.5 308.5 341.0 209.2Z" fill="#653b97" stroke="#653b97"/>
<path d="M249.2 435.8A127.8 127.8 0 0 1 248.8 435.8Q260.5 308.5 156.0 234.9A127.8 127.8 0 0 1 156.3 234.5Q260.5 308.5 249.2 435.8Z" fill="#f19596" stroke="#f19596"/>
<path d="M387.9 298.2A127.8 127.8 0 0 1 387.9 298.7Q260.5 308.5 306.8 427.6A127.8 127.8 0 0 1 306.3 427.8Q260.5 308.5 387.9 298.2Z" fill="#2273af" stroke="#2273af"/>
<path d="M205.4 423.8A127.8 127.8 0 0 1 205.0 423.6Q260.5 308.5 134.2 327.9A127.8 127.8 0 0 1 134.1 327.4Q260.5 308.5 205.4 423.8Z" fill="#d6221f" stroke="#d6221f"/>
<path d="M209.8 191.2A127.8 127.8 0 0 1 210.2 191.0Q260.5 308.5 132.9 302.2A127.8 127.8 0 0 1 132.9 301.8Q260.5 308.5 209.8 191.2Z" fill="#acd686" stroke="#acd686"/>
<path d="M340.4 408.3A127.8 127.8 0 0 1 340.0 408.6Q260.5 308.5 220.9 187.0A127.8 127.8 0 0 1 221.5 186.8Q260.5 308.5 340.4 408.3Z" fill="#359a3a" stroke="#359a3a"/>
<path d="M386.3 286.0A127.8 127.8 0 0 1 386.4 286.5Q260.5 308.5 367.0 379.1A127.8 127.8 0 0 1 366.6 379.7Q260.5 308.5 386.3 286.0Z" fill="#a4cde2" stroke="#a4cde2"/>
<path d="M318.8 194.8A127.8 127.8 0 0 1 319.2 195.0Q260.5 308.5 140.3 265.2A127.8 127.8 0 0 1 140.4 264.7Q260.5 308.5 318.8 194.8Z" fill="#ee7f1e" stroke="#ee7f1e"/>
<path d="M136.6 339.9A127.8 127.8 0 0 1 136.5 339.4Q260.5 308.5 155.6 235.5A127.8 127.8 0 0 1 155.8 235.2Q260.5 308.5 136.6 339.9Z" fill="#ee7f1e" stroke="#ee7f1e"/>
<path d="M275.5 181.6A127.8 127.8 0 0 1 275.9 181.6Q260.5 308.5 196.4 197.9A127.8 127.8 0 0 1 196.7 197.8Q260.5 308.5 275.5 181.6Z" fill="#d6221f" stroke="#d6221f"/>
<path d="M135.4 282.5A127.8 127.8 0 0 1 135.5 282.1Q260.5 308.5 351.4 218.7A127.8 127.8 0 0 1 351.7 219.0Q260.5 308.5 135.4 282.5Z" fill="#c7b1d6" stroke="#c7b1d6"/>
<path d="M379.5 355.1A127.8 127.8 0 0 1 379.3 355.5Q260.5 308.5 156.5 234.3A127.8 127.8 0 0 1 156.7 234.0Q260.5 308.5 379.5 355.1Z" fill="#acd686" stroke="#acd686"/>
<path d="M207.4 424.7A127.8 127.8 0 0 1 207.0 424.6Q260.5 308.5 259.4 180.7A127.8 127.8 0 0 1 259.8 180.7Q260.5 308.5 207.4 424.7Z" fill="#d6221f" stroke="#d6221f"/>
<path d="M173.8 214.7A127.8 127.8 0 0 1 174.1 214.4Q260.5 308.5 256.4 180.8A127.8 127.8 0 0 1 256.8 180.8Q260.5 308.5 173.8 214.7Z" fill="#ab5b2b" stroke="#ab5b2b"/>
<path d="M212.8 189.9A127.8 127.8 0 0 1 213.2 189.8Q260.5 308.5 388.2 313.9A127.8 127.8 0 0 1 388.2 314.2Q260.5 308.5 212.8 189.9Z" fill="#acd686" stroke="#acd686"/>
<path d="M384.6 339.2A127.8 127.8 0 0 1 384.5 339.6Q260.5 308.5 388.3 305.1A127.8 127.8 0 0 1 388.3 305.4Q260.5 308.5 384.6 339.2Z" fill="#acd686" stroke="#acd686"/>
<path d="M211.2 190.6A127.8 127.8 0 0 1 211.6 190.4Q260.5 308.5 218.1 429.1A127.8 127.8 0 0 1 217.9 429.0Q260.5 308.5 211.2 190.6Z" fill="#acd686" stroke="#acd686"/>
<path d="M319.7 195.3A127.8 127.8 0 0 1 320.1 195.5Q260.5 308.5 201.3 421.8A127.8 127.8 0 0 1 200.9 421.5Q260.5 308.5 319.7 195.3Z" fill="#ee7f1e" stroke="#ee7f1e"/>
<path d="M322.8 196.9A127.8 127.8 0 0 1 323.2 197.1Q260.5 308.5 364.7 234.5A127.8 127.8 0 0 1 365.0 234.9Q260.5 308.5 322.8 196.9Z" fill="#ee7f1e" stroke="#ee7f1e"/>
<path d="M380.4 352.9A127.8 127.8 0 0 1 380.2 353.2Q260.5 308.5 221.5 186.8A127.8 127.8 0 0 1 221.7 186.7Q260.5 308.5 380.4 352.9Z" fill="#acd686" stroke="#acd686"/>
<path d="M388.3 309.6A127.8 127.8 0 0 1 388.3 310.0Q260.5 308.5 132.8 314.1A127.8 127.8 0 0 1 132.8 313.5Q260.5 308.5 388.3 309.6Z" fill="#a4cde2" stroke="#a4cde2"/>
<path d="M205.8 424.0A127.8 127.8 0 0 1 205.4 423.8Q260.5 308.5 138.1 271.8A127.8 127.8 0 0 1 138.2 271.4Q260.5 308.5 205.8 424.0Z" fill="#d6221f" stroke="#d6221f"/>
<path d="M360.6 229.0A127.8 127.8 0 0 1 360.8 229.3Q260.5 308.5 139.8 266.5A127.8 127.8 0 0 1 140.1 265.7Q260.5 308.5 360.6 229.0Z" fill="#f8f39c" stroke="#f8f39c"/>
<path d="M134.3 288.1A127.8 127.8 0 0 1 134.4 287.7Q260.5 308.5 165.4 393.9A127.8 127.8 0 0 1 165.2 393.7Q260.5 308.5 134.3 288.1Z" fill="#c7b1d6" stroke="#c7b1d6"/>
<path d="M185.3 411.9A127.8 127.8 0 0 1 185.0 411.6Q260.5 308.5 333.4 203.5A127.8 127.8 0 0 1 333.5 203.6Q260.5 308.5 185.3 411.9Z" fill="#f5bd6f" stroke="#f5bd6f"/>
<path d="M165.8 222.7A127.8 127.8 0 0 1 166.1 222.4Q260.5 308.5 141.8 261.2A127.8 127.8 0 0 1 142.0 260.7Q260.5 308.5 165.8 222.7Z" fill="#ab5b2b" stroke="#ab5b2b"/>
<path d="M382.0 348.1A127.8 127.8 0 0 1 381.9 348.5Q260.5 308.5 315.4 193.1A127.8 127.8 0 0 1 315.4 193.1Q260.5 308.5 382.0 348.1Z" fill="#acd686" stroke="#acd686"/>
<path d="M289.3 184.0A127.8 127.8 0 0 1 289.7 184.1Q260.5 308.5 388.1 301.0A127.8 127.8 0 0 1 388.1 301.5Q260.5 308.5 289.3 184.0Z" fill="#d6221f" stroke="#d6221f"/>
<path d="M211.6 190.4A127.8 127.8 0 0 1 212.0 190.3Q260.5 308.5 296.1 431.2A127.8 127.8 0 0 1 295.8 431.3Q260.5 308.5 211.6 190.4Z" fill="#acd686" stroke="#acd686"/>
<path d="M334.1 412.9A127.8 127.8 0 0 1 333.8 413.2Q260.5 308.5 203.6 423.0A127.8 127.8 0 0 1 203.1 422.7Q260.5 308.5 334.1 412.9Z" fill="#359a3a" stroke="#359a3a"/>
<path d="M343.6 211.4A127.8 127.8 0 0 1 343.9 211.7Q260.5 308.5 221.2 430.1A127.8 127.8 0 0 1 221.1 430.1Q260.5 308.5 343.6 211.4Z" fill="#653b97" stroke="#653b97"/>
<path d="M212.0 190.3A127.8 127.8 0 0 1 212.3 190.1Q260.5 308.5 358.1 391.0A127.8 127.8 0 0 1 357.8 391.3Q260.5 308.5 212.0 190.3Z" fill="#acd686" stroke="#acd686"/>
<path d="M168.1 220.2A127.8 127.8 0 0 1 168.4 219.9Q260.5 308.5 199.1 420.6A127.8 127.8 0 0 1 198.8 420.4Q260.5 308.5 168.1 220.2Z" fill="#ab5b2b" stroke="#ab5b2b"/>
<path d="M256.6 436.2A127.8 127.8 0 0 1 256.2 436.2Q260.5 308.5 367.2 238.1A127.8 127.8 0 0 1 367.4 238.4Q260.5 308.5 256.6 436.2Z" fill="#f19596" stroke="#f19596"/>
<path d="M359.1 227.2A127.8 127.8 0 0 1 359.4 227.5Q260.5 308.5 357.2 225.0A127.8 127.8 0 0 1 357.7 225.5Q260.5 308.5 359.1 227.2Z" fill="#f8f39c" stroke="#f8f39c"/>
<path d="M344.9 404.5A127.8 127.8 0 0 1 344.6 404.8Q260.5 308.5 388.0 316.7A127.8 127.8 0 0 1 388.0 317.2Q260.5 308.5 344.9 404.5Z" fill="#359a3a" stroke="#359a3a"/>
<path d="M378.8 260.2A127.8 127.8 0 0 1 379.0 260.6Q260.5 308.5 387.1 326.2A127.8 127.8 0 0 1 387.0 326.5Q260.5 308.5 378.8 260.2Z" fill="#ab5b2b" stroke="#ab5b2b"/>
<path d="M290.8 184.3A127.8 127.8 0 0 1 291.1 184.4Q260.5 308.5 365.0 234.9A127.8 127.8 0 0 1 365.2 235.3Q260.5 308.5 290.8 184.3Z" fill="#d6221f" stroke="#d6221f"/>
<path d="M345.1 404.2A127.8 127.8 0 0 1 344.9 404.5Q260.5 308.5 386.6 329.2A127.8 127.8 0 0 1 386.5 329.6Q260.5 308.5 345.1 404.2Z" fill="#359a3a" stroke="#359a3a"/>
<path d="M373.4 248.6A127.8 127.8 0 0 1 373.6 248.9Q260.5 308.5 222.2 186.6A127.8 127.8 0 0 1 222.4 186.5Q260.5 308.5 373.4 248.6Z" fill="#ab5b2b" stroke="#ab5b2b"/>
<path d="M136.3 278.4A127.8 127.8 0 0 1 136.4 278.0Q260.5 308.5 193.6 199.6A127.8 127.8 0 0 1 193.8 199.5Q260.5 308.5 136.3 278.4Z" fill="#c7b1d6" stroke="#c7b1d6"/>
<path d="M211.8 426.7A127.8 127.8 0 0 1 211.5 426.5Q260.5 308.5 286.7 433.6A127.8 127.8 0 0 1 286.3 433.7Q260.5 308.5 211.8 426.7Z" fill="#d6221f" stroke="#d6221f"/>
<path d="M259.0 436.3A127.8 127.8 0 0 1 258.6 436.3Q260.5 308.5 388.2 304.4A127.8 127.8 0 0 1 388.2 304.8Q260.5 308.5 259.0 436.3Z" fill="#f19596" stroke="#f19596"/>
<path d="M185.6 412.1A127.8 127.8 0 0 1 185.3 411.9Q260.5 308.5 353.2 220.6A127.8 127.8 0 0 1 353.5 220.8Q260.5 308.5 185.6 412.1Z" fill="#f5bd6f" stroke="#f5bd6f"/>
<path d="M140.2 351.7A127.8 127.8 0 0 1 140.1 351.4Q260.5 308.5 366.5 237.1A127.8 127.8 0 0 1 366.7 237.3Q260.5 308.5 140.2 351.7Z" fill="#ee7f1e" stroke="#ee7f1e"/>
<path d="M208.8 425.4A127.8 127.8 0 0 1 208.5 425.2Q260.5 308.5 326.4 199.0A127.8 127.8 0 0 1 326.6 199.1Q260.5 308.5 208.8 425.4Z" fill="#d6221f" stroke="#d6221f"/>
<path d="M246.8 181.4A127.8 127.8 0 0 1 247.1 181.4Q260.5 308.5 200.3 421.3A127.8 127.8 0 0 1 200.0 421.1Q260.5 308.5 246.8 181.4Z" fill="#f19596" stroke="#f19596"/>
<path d="M347.3 214.7A127.8 127.8 0 0 1 347.5 214.9Q260.5 308.5 381.1 266.1A127.8 127.8 0 0 1 381.2 266.4Q260.5 308.5 347.3 214.7Z" fill="#653b97" stroke="#653b97"/>
<path d="M385.9 283.7A127.8 127.8 0 0 1 385.9 284.0Q260.5 308.5 183.9 206.2A127.8 127.8 0 0 1 184.3 205.9Q260.5 308.5 385.9 283.7Z" fill="#a4cde2" stroke="#a4cde2"/>
<path d="M250.5 181.1A127.8 127.8 0 0 1 250.9 181.1Q260.5 308.5 349.7 217.0A127.8 127.8 0 0 1 350.0 217.3Q260.5 308.5 250.5 181.1Z" fill="#f19596" stroke="#f19596"/>
<path d="M387.6 322.1A127.8 127.8 0 0 1 387.5 322.5Q260.5 308.5 171.0 399.7A127.8 127.8 0 0 1 170.5 399.2Q260.5 308.5 387.6 322.1Z" fill="#2273af" stroke="#2273af"/>
<path d="M382.6 346.2A127.8 127.8 0 0 1 382.5 346.6Q260.5 308.5 333.8 203.8A127.8 127.8 0 0 1 333.9 203.9Q260.5 308.5 382.6 346.2Z" fill="#acd686" stroke="#acd686"/>
<path d="M339.9 208.4A127.8 127.8 0 0 1 340.2 208.6Q260.5 308.5 238.8 182.6A127.8 127.8 0 0 1 239.1 182.5Q260.5 308.5 339.9 208.4Z" fill="#653b97" stroke="#653b97"/>
<path d="M387.7 295.8A127.8 127.8 0 0 1 387.7 296.1Q260.5 308.5 156.9 233.7A127.8 127.8 0 0 1 157.1 233.3Q260.5 308.5 387.7 295.8Z" fill="#2273af" stroke="#2273af"/>
<path d="M242.7 181.9A127.8 127.8 0 0 1 243.0 181.9Q260.5 308.5 158.5 231.6A127.8 127.8 0 0 1 158.7 231.3Q260.5 308.5 242.7 181.9Z" fill="#f19596" stroke="#f19596"/>
<path d="M344.3 405.0A127.8 127.8 0 0 1 344.0 405.3Q260.5 308.5 384.1 276.0A127.8 127.8 0 0 1 384.2 276.5Q260.5 308.5 344.3 405.0Z" fill="#359a3a" stroke="#359a3a"/>
<path d="M248.3 181.3A127.8 127.8 0 0 1 248.7 181.2Q260.5 308.5 297.5 430.8A127.8 127.8 0 0 1 297.1 431.0Q260.5 308.5 248.3 181.3Z" fill="#f19596" stroke="#f19596"/>
<path d="M252.0 436.0A127.8 127.8 0 0 1 251.7 436.0Q260.5 308.5 220.7 187.1A127.8 127.8 0 0 1 220.9 187.0Q260.5 308.5 252.0 436.0Z" fill="#f19596" stroke="#f19596"/>
<path d="M277.2 181.8A127.8 127.8 0 0 1 277.6 181.8Q260.5 308.5 140.5 264.6A127.8 127.8 0 0 1 140.6 264.2Q260.5 308.5 277.2 181.8Z" fill="#d6221f" stroke="#d6221f"/>
<path d="M379.0 260.7A127.8 127.8 0 0 1 379.1 261.0Q260.5 308.5 388.0 299.5A127.8 127.8 0 0 1 388.0 299.9Q260.5 308.5 379.0 260.7Z" fill="#ab5b2b" stroke="#ab5b2b"/>
<path d="M258.6 436.3A127.8 127.8 0 0 1 258.2 436.3Q260.5 308.5 386.9 289.8A127.8 127.8 0 0 1 387.0 290.1Q260.5 308.5 258.6 436.3Z" fill="#f19596" stroke="#f19596"/>
<path d="M360.1 228.4A127.8 127.8 0 0 1 360.3 228.7Q260.5 308.5 185.2 205.2A127.8 127.8 0 0 1 185.8 204.8Q260.5 308.5 360.1 228.4Z" fill="#f8f39c" stroke="#f8f39c"/>
<path d="M386.1 284.8A127.8 127.8 0 0 1 386.1 285.1Q260.5 308.5 169.8 398.6A127.8 127.8 0 0 1 169.6 398.3Q260.5 308.5 386.1 284.8Z" fill="#a4cde2" stroke="#a4cde2"/>
<path d="M135.3 282.9A127.8 127.8 0 0 1 135.4 282.5Q260.5 308.5 366.3 236.8A127.8 127.8 0 0 1 366.5 237.1Q260.5 308.5 135.3 282.9Z" fill="#c7b1d6" stroke="#c7b1d6"/>
<path d="M319.2 195.0A127.8 127.8 0 0 1 319.6 195.2Q260.5 308.5 132.7 307.5A127.8 127.8 0 0 1 132.7 307.0Q260.5 308.5 319.2 195.0Z" fill="#ee7f1e" stroke="#ee7f1e"/>
<path d="M170.5 217.8A127.8 127.8 0 0 1 170.7 217.6Q260.5 308.5 386.6 288.0A127.8 127.8 0 0 1 386.7 288.2Q260.5 308.5 170.5 217.8Z" fill="#ab5b2b" stroke="#ab5b2b"/>
<path d="M145.1 253.6A127.8 127.8 0 0 1 145.2 253.3Q260.5 308.5 382.5 270.5A127.8 127.8 0 0 1 382.7 271.0Q260.5 308.5 145.1 253.6Z" fill="#653b97" stroke="#653b97"/>
<path d="M199.3 196.3A127.8 127.8 0 0 1 199.6 196.2Q260.5 308.5 141.3 262.3A127.8 127.8 0 0 1 141.5 261.8Q260.5 308.5 199.3 196.3Z" fill="#2273af" stroke="#2273af"/>
<path d="M205.0 423.6A127.8 127.8 0 0 1 204.7 423.5Q260.5 308.5 173.5 402.1A127.8 127.8 0 0 1 173.3 402.0Q260.5 308.5 205.0 423.6Z" fill="#d6221f" stroke="#d6221f"/>
<path d="M152.3 240.4A127.8 127.8 0 0 1 152.5 240.2Q260.5 308.5 386.7 288.2A127.8 127.8 0 0 1 386.7 288.5Q260.5 308.5 152.3 240.4Z" fill="#f8f39c" stroke="#f8f39c"/>
<path d="M135.1 284.1A127.8 127.8 0 0 1 135.1 283.8Q260.5 308.5 388.1 315.1A127.8 127.8 0 0 1 388.1 315.4Q260.5 308.5 135.1 284.1Z" fill="#c7b1d6" stroke="#c7b1d6"/>
<path d="M152.8 239.7A127.8 127.8 0 0 1 153.0 239.4Q260.5 308.5 351.1 218.3A127.8 127.8 0 0 1 351.3 218.6Q260.5 308.5 152.8 239.7Z" fill="#f8f39c" stroke="#f8f39c"/>
<path d="M215.5 188.9A127.8 127.8 0 0 1 215.8 188.8Q260.5 308.5 297.0 186.0A127.8 127.8 0 0 1 297.2 186.1Q260.5 308.5 215.5 188.9Z" fill="#acd686" stroke="#acd686"/>
<path d="M200.8 195.5A127.8 127.8 0 0 1 201.1 195.3Q260.5 308.5 295.8 431.3A127.8 127.8 0 0 1 295.2 431.5Q260.5 308.5 200.8 195.5Z" fill="#2273af" stroke="#2273af"/>
<path d="M206.4 424.3A127.8 127.8 0 0 1 206.1 424.2Q260.5 308.5 179.7 209.5A127.8 127.8 0 0 1 179.9 209.3Q260.5 308.5 206.4 424.3Z" fill="#d6221f" stroke="#d6221f"/>
<path d="M167.9 220.4A127.8 127.8 0 0 1 168.1 220.2Q260.5 308.5 165.9 394.5A127.8 127.8 0 0 1 165.8 394.3Q260.5 308.5 167.9 220.4Z" fill="#ab5b2b" stroke="#ab5b2b"/>
<path d="M388.3 309.0A127.8 127.8 0 0 1 388.3 309.3Q260.5 308.5 183.5 206.5A127.8 127.8 0 0 1 183.8 206.3Q260.5 308.5 388.3 309.0Z" fill="#a4cde2" stroke="#a4cde2"/>
<path d="M150.5 243.5A127.8 127.8 0 0 1 150.6 243.2Q260.5 308.5 198.8 420.4A127.8 127.8 0 0 1 198.4 420.2Q260.5 308.5 150.5 243.5Z" fill="#f8f39c" stroke="#f8f39c"/>
<path d="M141.6 355.5A127.8 127.8 0 0 1 141.5 355.2Q260.5 308.5 386.8 328.3A127.8 127.8 0 0 1 386.7 328.5Q260.5 308.5 141.6 355.5Z" fill="#ee7f1e" stroke="#ee7f1e"/>
<path d="M190.3 201.7A127.8 127.8 0 0 1 190.6 201.5Q260.5 308.5 141.5 261.8A127.8 127.8 0 0 1 141.8 261.2Q260.5 308.5 190.3 201.7Z" fill="#a4cde2" stroke="#a4cde2"/>
<path d="M136.0 279.7A127.8 127.8 0 0 1 136.1 279.4Q260.5 308.5 236.3 183.0A127.8 127.8 0 0 1 236.6 183.0Q260.5 308.5 136.0 279.7Z" fill="#c7b1d6" stroke="#c7b1d6"/>
<path d="M190.0 201.9A127.8 127.8 0 0 1 190.2 201.8Q260.5 308.5 187.6 203.5A127.8 127.8 0 0 1 188.1 203.2Q260.5 308.5 190.0 201.9Z" fill="#a4cde2" stroke="#a4cde2"/>
<path d="M387.8 319.8A127.8 127.8 0 0 1 387.8 320.1Q260.5 308.5 384.8 278.7A127.8 127.8 0 0 1 385.0 279.4Q260.5 308.5 387.8 319.8Z" fill="#2273af" stroke="#2273af"/>
<path d="M317.9 194.3A127.8 127.8 0 0 1 318.2 194.5Q260.5 308.5 266.0 180.8A127.8 127.8 0 0 1 266.3 180.8Q260.5 308.5 317.9 194.3Z" fill="#ee7f1e" stroke="#ee7f1e"/>
<path d="M233.7 183.6A127.8 127.8 0 0 1 234.0 183.5Q260.5 308.5 381.8 268.2A127.8 127.8 0 0 1 381.9 268.7Q260.5 308.5 233.7 183.6Z" fill="#359a3a" stroke="#359a3a"/>
<path d="M346.4 213.9A127.8 127.8 0 0 1 346.7 214.1Q260.5 308.5 388.2 313.0A127.8 127.8 0 0 1 388.2 313.2Q260.5 308.5 346.4 213.9Z" fill="#653b97" stroke="#653b97"/>
<path d="M136.2 278.7A127.8 127.8 0 0 1 136.3 278.4Q260.5 308.5 202.8 194.5A127.8 127.8 0 0 1 203.0 194.4Q260.5 308.5 136.2 278.7Z" fill="#c7b1d6" stroke="#c7b1d6"/>
<path d="M249.3 181.2A127.8 127.8 0 0 1 249.6 181.2Q260.5 308.5 388.2 313.6A127.8 127.8 0 0 1 388.2 313.8Q260.5 308.5 249.3 181.2Z" fill="#f19596" stroke="#f19596"/>
<path d="M361.2 229.9A127.8 127.8 0 0 1 361.4 230.1Q260.5 308.5 168.8 397.5A127.8 127.8 0 0 1 168.5 397.2Q260.5 308.5 361.2 229.9Z" fill="#f8f39c" stroke="#f8f39c"/>
<path d="M250.2 181.1A127.8 127.8 0 0 1 250.5 181.1Q260.5 308.5 365.2 235.3A127.8 127.8 0 0 1 365.4 235.6Q260.5 308.5 250.2 181.1Z" fill="#f19596" stroke="#f19596"/>
<path d="M136.5 339.4A127.8 127.8 0 0 1 136.4 339.1Q260.5 308.5 146.8 250.2A127.8 127.8 0 0 1 146.9 250.0Q260.5 308.5 136.5 339.4Z" fill="#ee7f1e" stroke="#ee7f1e"/>
<path d="M387.8 297.7A127.8 127.8 0 0 1 387.9 298.0Q260.5 308.5 202.2 422.2A127.8 127.8 0 0 1 201.9 422.1Q260.5 308.5 387.8 297.7Z" fill="#2273af" stroke="#2273af"/>
<path d="M331.2 202.1A127.8 127.8 0 0 1 331.5 202.2Q260.5 308.5 132.7 308.4A127.8 127.8 0 0 1 132.7 307.5Q260.5 308.5 331.2 202.1Z" fill="#c7b1d6" stroke="#c7b1d6"/>
<path d="M152.5 240.2A127.8 127.8 0 0 1 152.7 239.9Q260.5 308.5 382.4 270.2A127.8 127.8 0 0 1 382.5 270.5Q260.5 308.5 152.5 240.2Z" fill="#f8f39c" stroke="#f8f39c"/>
<path d="M386.3 285.8A127.8 127.8 0 0 1 386.3 286.0Q260.5 308.5 306.3 427.8A127.8 127.8 0 0 1 305.9 428.0Q260.5 308.5 386.3 285.8Z" fill="#a4cde2" stroke="#a4cde2"/>
<path d="M342.2 210.2A127.8 127.8 0 0 1 342.4 210.4Q260.5 308.5 140.1 265.7A127.8 127.8 0 0 1 140.2 265.4Q260.5 308.5 342.2 210.2Z" fill="#653b97" stroke="#653b97"/>
<path d="M215.8 188.8A127.8 127.8 0 0 1 216.1 188.7Q260.5 308.5 255.7 180.8A127.8 127.8 0 0 1 255.9 180.8Q260.5 308.5 215.8 188.8Z" fill="#acd686" stroke="#acd686"/>
<path d="M322.0 196.5A127.8 127.8 0 0 1 322.2 196.6Q260.5 308.5 388.1 300.6A127.8 127.8 0 0 1 388.1 301.0Q260.5 308.5 322.0 196.5Z" fill="#ee7f1e" stroke="#ee7f1e"/>
<path d="M341.5 209.6A127.8 127.8 0 0 1 341.7 209.8Q260.5 308.5 185.8 204.8A127.8 127.8 0 0 1 186.0 204.7Q260.5 308.5 341.5 209.6Z" fill="#653b97" stroke="#653b97"/>
<path d="M385.6 282.4A127.8 127.8 0 0 1 385.7 282.6Q260.5 308.5 385.0 279.8A127.8 127.8 0 0 1 385.1 280.2Q260.5 308.5 385.6 282.4Z" fill="#a4cde2" stroke="#a4cde2"/>
<path d="M151.0 242.7A127.8 127.8 0 0 1 151.1 242.4Q260.5 308.5 293.6 431.9A127.8 127.8 0 0 1 293.3 432.0Q260.5 308.5 151.0 242.7Z" fill="#f8f39c" stroke="#f8f39c"/>
<path d="M359.4 227.6A127.8 127.8 0 0 1 359.6 227.8Q260.5 308.5 311.6 191.4A127.8 127.8 0 0 1 312.1 191.6Q260.5 308.5 359.4 227.6Z" fill="#f8f39c" stroke="#f8f39c"/>
<path d="M150.3 243.7A127.8 127.8 0 0 1 150.5 243.5Q260.5 308.5 165.8 394.3A127.8 127.8 0 0 1 165.6 394.1Q260.5 308.5 150.3 243.7Z" fill="#f8f39c" stroke="#f8f39c"/>
<path d="M152.0 241.0A127.8 127.8 0 0 1 152.1 240.8Q260.5 308.5 386.9 327.5A127.8 127.8 0 0 1 386.8 327.7Q260.5 308.5 152.0 241.0Z" fill="#f8f39c" stroke="#f8f39c"/>
<path d="M292.3 184.7A127.8 127.8 0 0 1 292.6 184.8Q260.5 308.5 323.9 197.5A127.8 127.8 0 0 1 324.0 197.6Q260.5 308.5 292.3 184.7Z" fill="#d6221f" stroke="#d6221f"/>
<path d="M251.7 436.0A127.8 127.8 0 0 1 251.4 436.0Q260.5 308.5 204.1 193.8A127.8 127.8 0 0 1 204.3 193.7Q260.5 308.5 251.7 436.0Z" fill="#f19596" stroke="#f19596"/>
<path d="M145.5 252.7A127.8 127.8 0 0 1 145.7 252.4Q260.5 308.5 300.5 187.1A127.8 127.8 0 0 1 300.9 187.2Q260.5 308.5 145.5 252.7Z" fill="#653b97" stroke="#653b97"/>
<path d="M190.6 201.5A127.8 127.8 0 0 1 190.8 201.4Q260.5 308.5 133.0 300.2A127.8 127.8 0 0 1 133.0 299.6Q260.5 308.5 190.6 201.5Z" fill="#a4cde2" stroke="#a4cde2"/>
<path d="M376.0 253.8A127.8 127.8 0 0 1 376.1 254.0Q260.5 308.5 201.8 422.0A127.8 127.8 0 0 1 201.6 421.9Q260.5 308.5 376.0 253.8Z" fill="#ab5b2b" stroke="#ab5b2b"/>
<path d="M213.8 189.5A127.8 127.8 0 0 1 214.1 189.4Q260.5 308.5 381.9 268.7A127.8 127.8 0 0 1 382.0 268.9Q260.5 308.5 213.8 189.5Z" fill="#acd686" stroke="#acd686"/>
<path d="M387.7 321.4A127.8 127.8 0 0 1 387.6 321.6Q260.5 308.5 139.2 268.2A127.8 127.8 0 0 1 139.5 267.5Q260.5 308.5 387.7 321.4Z" fill="#2273af" stroke="#2273af"/>
<path d="M243.0 181.9A127.8 127.8 0 0 1 243.3 181.9Q260.5 308.5 148.4 247.2A127.8 127.8 0 0 1 148.5 247.0Q260.5 308.5 243.0 181.9Z" fill="#f19596" stroke="#f19596"/>
<path d="M379.1 261.0A127.8 127.8 0 0 1 379.2 261.2Q260.5 308.5 386.4 286.7A127.8 127.8 0 0 1 386.5 286.9Q260.5 308.5 379.1 261.0Z" fill="#ab5b2b" stroke="#ab5b2b"/>
<path d="M385.9 284.0A127.8 127.8 0 0 1 386.0 284.3Q260.5 308.5 157.1 233.3A127.8 127.8 0 0 1 157.3 233.0Q260.5 308.5 385.9 284.0Z" fill="#a4cde2" stroke="#a4cde2"/>
<path d="M215.2 189.0A127.8 127.8 0 0 1 215.4 188.9Q260.5 308.5 324.5 197.9A127.8 127.8 0 0 1 324.6 197.9Q260.5 308.5 215.2 189.0Z" fill="#acd686" stroke="#acd686"/>
<path d="M183.0 410.1A127.8 127.8 0 0 1 182.8 410.0Q260.5 308.5 236.7 182.9A127.8 127.8 0 0 1 237.0 182.9Q260.5 308.5 183.0 410.1Z" fill="#f5bd6f" stroke="#f5bd6f"/>
<path d="M373.6 248.9A127.8 127.8 0 0 1 373.7 249.1Q260.5 308.5 205.0 193.4A127.8 127.8 0 0 1 205.2 193.3Q260.5 308.5 373.6 248.9Z" fill="#ab5b2b" stroke="#ab5b2b"/>
<path d="M134.4 287.7A127.8 127.8 0 0 1 134.5 287.4Q260.5 308.5 198.2 420.1A127.8 127.8 0 0 1 198.0 420.0Q260.5 308.5 134.4 287.7Z" fill="#c7b1d6" stroke="#c7b1d6"/>
<path d="M135.1 283.7A127.8 127.8 0 0 1 135.2 283.4Q260.5 308.5 386.7 288.6A127.8 127.8 0 0 1 386.8 288.8Q260.5 308.5 135.1 283.7Z" fill="#c7b1d6" stroke="#c7b1d6"/>
<path d="M138.0 344.8A127.8 127.8 0 0 1 137.9 344.6Q260.5 308.5 236.6 183.0A127.8 127.8 0 0 1 236.7 182.9Q260.5 308.5 138.0 344.8Z" fill="#ee7f1e" stroke="#ee7f1e"/>
<path d="M165.6 222.9A127.8 127.8 0 0 1 165.8 222.7Q260.5 308.5 148.7 246.6A127.8 127.8 0 0 1 148.8 246.4Q260.5 308.5 165.6 222.9Z" fill="#ab5b2b" stroke="#ab5b2b"/>
<path d="M174.1 214.4A127.8 127.8 0 0 1 174.3 214.2Q260.5 308.5 235.8 183.1A127.8 127.8 0 0 1 236.0 183.1Q260.5 308.5 174.1 214.4Z" fill="#ab5b2b" stroke="#ab5b2b"/>
<path d="M246.5 181.5A127.8 127.8 0 0 1 246.8 181.4Q260.5 308.5 167.3 396.0A127.8 127.8 0 0 1 167.2 395.8Q260.5 308.5 246.5 181.5Z" fill="#f19596" stroke="#f19596"/>
<path d="M347.1 214.5A127.8 127.8 0 0 1 347.3 214.7Q260.5 308.5 386.5 287.2A127.8 127.8 0 0 1 386.5 287.3Q260.5 308.5 347.1 214.5Z" fill="#653b97" stroke="#653b97"/>
<path d="M249.6 181.2A127.8 127.8 0 0 1 249.8 181.1Q260.5 308.5 388.1 301.5A127.8 127.8 0 0 1 388.1 301.8Q260.5 308.5 249.6 181.2Z" fill="#f19596" stroke="#f19596"/>
<path d="M145.2 253.3A127.8 127.8 0 0 1 145.3 253.1Q260.5 308.5 366.0 236.4A127.8 127.8 0 0 1 366.3 236.8Q260.5 308.5 145.2 253.3Z" fill="#653b97" stroke="#653b97"/>
<path d="M192.5 200.3A127.8 127.8 0 0 1 192.8 200.1Q260.5 308.5 382.1 269.1A127.8 127.8 0 0 1 382.2 269.5Q260.5 308.5 192.5 200.3Z" fill="#a4cde2" stroke="#a4cde2"/>
<path d="M192.9 200.0A127.8 127.8 0 0 1 193.1 199.9Q260.5 308.5 297.5 186.2A127.8 127.8 0 0 1 297.9 186.3Q260.5 308.5 192.9 200.0Z" fill="#a4cde2" stroke="#a4cde2"/>
<path d="M317.5 194.1A127.8 127.8 0 0 1 317.8 194.2Q260.5 308.5 315.5 193.1A127.8 127.8 0 0 1 315.5 193.1Q260.5 308.5 317.5 194.1Z" fill="#ee7f1e" stroke="#ee7f1e"/>
<path d="M387.9 298.0A127.8 127.8 0 0 1 387.9 298.2Q260.5 308.5 223.0 430.7A127.8 127.8 0 0 1 222.9 430.6Q260.5 308.5 387.9 298.0Z" fill="#2273af" stroke="#2273af"/>
<path d="M387.4 293.4A127.8 127.8 0 0 1 387.4 293.7Q260.5 308.5 385.0 279.6A127.8 127.8 0 0 1 385.0 279.8Q260.5 308.5 387.4 293.4Z" fill="#2273af" stroke="#2273af"/>
<path d="M361.9 230.8A127.8 127.8 0 0 1 362.1 231.0Q260.5 308.5 303.4 428.9A127.8 127.8 0 0 1 303.0 429.0Q260.5 308.5 361.9 230.8Z" fill="#f8f39c" stroke="#f8f39c"/>
<path d="M359.6 227.8A127.8 127.8 0 0 1 359.7 228.0Q260.5 308.5 264.7 180.8A127.8 127.8 0 0 1 265.1 180.8Q260.5 308.5 359.6 227.8Z" fill="#f8f39c" stroke="#f8f39c"/>
<path d="M207.0 424.6A127.8 127.8 0 0 1 206.8 424.5Q260.5 308.5 237.0 182.9A127.8 127.8 0 0 1 237.1 182.9Q260.5 308.5 207.0 424.6Z" fill="#d6221f" stroke="#d6221f"/>
<path d="M182.8 410.0A127.8 127.8 0 0 1 182.6 409.8Q260.5 308.5 220.4 187.1A127.8 127.8 0 0 1 220.6 187.1Q260.5 308.5 182.8 410.0Z" fill="#f5bd6f" stroke="#f5bd6f"/>
<path d="M344.4 404.9A127.8 127.8 0 0 1 344.3 405.0Q260.5 308.5 387.0 290.1A127.8 127.8 0 0 1 387.0 290.4Q260.5 308.5 344.4 404.9Z" fill="#359a3a" stroke="#359a3a"/>
<path d="M145.4 252.9A127.8 127.8 0 0 1 145.5 252.7Q260.5 308.5 325.2 198.3A127.8 127.8 0 0 1 325.4 198.4Q260.5 308.5 145.4 252.9Z" fill="#653b97" stroke="#653b97"/>
<path d="M387.8 320.1A127.8 127.8 0 0 1 387.7 320.4Q260.5 308.5 356.3 223.9A127.8 127.8 0 0 1 356.6 224.3Q260.5 308.5 387.8 320.1Z" fill="#2273af" stroke="#2273af"/>
<path d="M202.0 194.9A127.8 127.8 0 0 1 202.2 194.8Q260.5 308.5 255.9 180.8A127.8 127.8 0 0 1 256.3 180.8Q260.5 308.5 202.0 194.9Z" fill="#2273af" stroke="#2273af"/>
<path d="M384.6 338.9A127.8 127.8 0 0 1 384.6 339.2Q260.5 308.5 388.0 317.2A127.8 127.8 0 0 1 388.0 317.3Q260.5 308.5 384.6 338.9Z" fill="#acd686" stroke="#acd686"/>
<path d="M250.0 181.1A127.8 127.8 0 0 1 250.2 181.1Q260.5 308.5 381.7 267.9A127.8 127.8 0 0 1 381.8 268.2Q260.5 308.5 250.0 181.1Z" fill="#f19596" stroke="#f19596"/>
<path d="M180.9 408.5A127.8 127.8 0 0 1 180.7 408.3Q260.5 308.5 155.8 235.2A127.8 127.8 0 0 1 155.9 235.0Q260.5 308.5 180.9 408.5Z" fill="#f5bd6f" stroke="#f5bd6f"/>
<path d="M188.3 413.9A127.8 127.8 0 0 1 188.1 413.8Q260.5 308.5 388.2 304.1A127.8 127.8 0 0 1 388.2 304.3Q260.5 308.5 188.3 413.9Z" fill="#f5bd6f" stroke="#f5bd6f"/>
<path d="M211.0 190.7A127.8 127.8 0 0 1 211.2 190.6Q260.5 308.5 199.8 421.0A127.8 127.8 0 0 1 199.6 420.9Q260.5 308.5 211.0 190.7Z" fill="#acd686" stroke="#acd686"/>
<path d="M231.2 184.1A127.8 127.8 0 0 1 231.4 184.1Q260.5 308.5 158.7 231.3A127.8 127.8 0 0 1 158.9 230.9Q260.5 308.5 231.2 184.1Z" fill="#359a3a" stroke="#359a3a"/>
<path d="M289.7 184.1A127.8 127.8 0 0 1 289.9 184.1Q260.5 308.5 386.6 287.4A127.8 127.8 0 0 1 386.6 287.6Q260.5 308.5 289.7 184.1Z" fill="#d6221f" stroke="#d6221f"/>
<path d="M182.2 409.5A127.8 127.8 0 0 1 182.1 409.4Q260.5 308.5 194.2 199.2A127.8 127.8 0 0 1 194.4 199.1Q260.5 308.5 182.2 409.5Z" fill="#f5bd6f" stroke="#f5bd6f"/>
<path d="M331.7 202.4A127.8 127.8 0 0 1 331.9 202.5Q260.5 308.5 221.1 430.1A127.8 127.8 0 0 1 220.8 430.0Q260.5 308.5 331.7 202.4Z" fill="#c7b1d6" stroke="#c7b1d6"/>
<path d="M380.2 353.2A127.8 127.8 0 0 1 380.1 353.5Q260.5 308.5 204.5 193.6A127.8 127.8 0 0 1 204.7 193.5Q260.5 308.5 380.2 353.2Z" fill="#acd686" stroke="#acd686"/>
<path d="M200.3 195.8A127.8 127.8 0 0 1 200.5 195.7Q260.5 308.5 166.3 394.8A127.8 127.8 0 0 1 166.1 394.6Q260.5 308.5 200.3 195.8Z" fill="#2273af" stroke="#2273af"/>
<path d="M208.1 191.9A127.8 127.8 0 0 1 208.3 191.8Q260.5 308.5 206.0 192.9A127.8 127.8 0 0 1 206.1 192.9Q260.5 308.5 208.1 191.9Z" fill="#acd686" stroke="#acd686"/>
<path d="M340.0 408.6A127.8 127.8 0 0 1 339.8 408.7Q260.5 308.5 204.3 193.7A127.8 127.8 0 0 1 204.5 193.6Q260.5 308.5 340.0 408.6Z" fill="#359a3a" stroke="#359a3a"/>
<path d="M201.8 195.0A127.8 127.8 0 0 1 202.0 194.9Q260.5 308.5 297.2 186.1A127.8 127.8 0 0 1 297.5 186.2Q260.5 308.5 201.8 195.0Z" fill="#2273af" stroke="#2273af"/>
<path d="M289.1 183.9A127.8 127.8 0 0 1 289.3 184.0Q260.5 308.5 388.2 313.4A127.8 127.8 0 0 1 388.2 313.6Q260.5 308.5 289.1 183.9Z" fill="#d6221f" stroke="#d6221f"/>
<path d="M331.5 202.2A127.8 127.8 0 0 1 331.7 202.3Q260.5 308.5 168.2 396.8A127.8 127.8 0 0 1 167.8 396.5Q260.5 308.5 331.5 202.2Z" fill="#c7b1d6" stroke="#c7b1d6"/>
<path d="M385.8 283.2A127.8 127.8 0 0 1 385.8 283.4Q260.5 308.5 263.4 180.7A127.8 127.8 0 0 1 263.7 180.7Q260.5 308.5 385.8 283.2Z" fill="#a4cde2" stroke="#a4cde2"/>
<path d="M152.7 239.9A127.8 127.8 0 0 1 152.8 239.7Q260.5 308.5 365.9 236.2A127.8 127.8 0 0 1 366.0 236.4Q260.5 308.5 152.7 239.9Z" fill="#f8f39c" stroke="#f8f39c"/>
<path d="M210.2 426.0A127.8 127.8 0 0 1 210.0 425.9Q260.5 308.5 388.1 316.1A127.8 127.8 0 0 1 388.1 316.3Q260.5 308.5 210.2 426.0Z" fill="#d6221f" stroke="#d6221f"/>
<path d="M338.5 409.8A127.8 127.8 0 0 1 338.3 409.9Q260.5 308.5 156.3 234.5A127.8 127.8 0 0 1 156.5 234.3Q260.5 308.5 338.5 409.8Z" fill="#359a3a" stroke="#359a3a"/>
<path d="M195.3 418.4A127.8 127.8 0 0 1 195.1 418.3Q260.5 308.5 197.4 419.6A127.8 127.8 0 0 1 197.2 419.5Q260.5 308.5 195.3 418.4Z" fill="#f5bd6f" stroke="#f5bd6f"/>
<path d="M152.2 240.6A127.8 127.8 0 0 1 152.3 240.4Q260.5 308.5 388.2 302.9A127.8 127.8 0 0 1 388.2 303.2Q260.5 308.5 152.2 240.6Z" fill="#f8f39c" stroke="#f8f39c"/>
<path d="M206.1 424.2A127.8 127.8 0 0 1 205.9 424.1Q260.5 308.5 155.9 235.0A127.8 127.8 0 0 1 156.0 234.9Q260.5 308.5 206.1 424.2Z" fill="#d6221f" stroke="#d6221f"/>
<path d="M343.4 211.3A127.8 127.8 0 0 1 343.6 211.4Q260.5 308.5 201.5 421.9A127.8 127.8 0 0 1 201.3 421.8Q260.5 308.5 343.4 211.3Z" fill="#653b97" stroke="#653b97"/>
<path d="M231.7 184.0A127.8 127.8 0 0 1 231.9 183.9Q260.5 308.5 132.8 302.7A127.8 127.8 0 0 1 132.9 302.2Q260.5 308.5 231.7 184.0Z" fill="#359a3a" stroke="#359a3a"/>
<path d="M143.9 256.1A127.8 127.8 0 0 1 144.0 255.9Q260.5 308.5 165.6 394.1A127.8 127.8 0 0 1 165.4 393.9Q260.5 308.5 143.9 256.1Z" fill="#653b97" stroke="#653b97"/>
<path d="M319.6 195.2A127.8 127.8 0 0 1 319.7 195.3Q260.5 308.5 167.8 396.5A127.8 127.8 0 0 1 167.7 396.4Q260.5 308.5 319.6 195.2Z" fill="#ee7f1e" stroke="#ee7f1e"/>
<path d="M180.7 408.3A127.8 127.8 0 0 1 180.6 408.2Q260.5 308.5 146.9 250.0A127.8 127.8 0 0 1 146.9 249.9Q260.5 308.5 180.7 408.3Z" fill="#f5bd6f" stroke="#f5bd6f"/>
<path d="M342.1 210.1A127.8 127.8 0 0 1 342.2 210.2Q260.5 308.5 148.2 247.5A127.8 127.8 0 0 1 148.2 247.4Q260.5 308.5 342.1 210.1Z" fill="#653b97" stroke="#653b97"/>
<path d="M387.6 294.9A127.8 127.8 0 0 1 387.6 295.1Q260.5 308.5 263.1 180.7A127.8 127.8 0 0 1 263.4 180.7Q260.5 308.5 387.6 294.9Z" fill="#2273af" stroke="#2273af"/>
<path d="M135.9 279.9A127.8 127.8 0 0 1 136.0 279.7Q260.5 308.5 257.2 180.7A127.8 127.8 0 0 1 257.4 180.7Q260.5 308.5 135.9 279.9Z" fill="#c7b1d6" stroke="#c7b1d6"/>
<path d="M152.1 240.8A127.8 127.8 0 0 1 152.2 240.6Q260.5 308.5 388.1 314.9A127.8 127.8 0 0 1 388.1 315.1Q260.5 308.5 152.1 240.8Z" fill="#f8f39c" stroke="#f8f39c"/>
<path d="M360.3 228.7A127.8 127.8 0 0 1 360.5 228.9Q260.5 308.5 157.5 232.9A127.8 127.8 0 0 1 157.7 232.6Q260.5 308.5 360.3 228.7Z" fill="#f8f39c" stroke="#f8f39c"/>
<path d="M385.7 283.0A127.8 127.8 0 0 1 385.8 283.2Q260.5 308.5 310.9 191.0A127.8 127.8 0 0 1 311.1 191.1Q260.5 308.5 385.7 283.0Z" fill="#a4cde2" stroke="#a4cde2"/>
<path d="M242.5 182.0A127.8 127.8 0 0 1 242.7 181.9Q260.5 308.5 186.7 204.2A127.8 127.8 0 0 1 186.9 204.0Q260.5 308.5 242.5 182.0Z" fill="#f19596" stroke="#f19596"/>
<path d="M387.6 295.1A127.8 127.8 0 0 1 387.6 295.3Q260.5 308.5 238.2 182.7A127.8 127.8 0 0 1 238.4 182.6Q260.5 308.5 387.6 295.1Z" fill="#2273af" stroke="#2273af"/>
<path d="M188.4 414.0A127.8 127.8 0 0 1 188.3 413.9Q260.5 308.5 388.1 315.9A127.8 127.8 0 0 1 388.1 316.1Q260.5 308.5 188.4 414.0Z" fill="#f5bd6f" stroke="#f5bd6f"/>
<path d="M385.7 282.8A127.8 127.8 0 0 1 385.7 283.0Q260.5 308.5 328.3 200.2A127.8 127.8 0 0 1 328.5 200.3Q260.5 308.5 385.7 282.8Z" fill="#a4cde2" stroke="#a4cde2"/>
<path d="M331.9 202.5A127.8 127.8 0 0 1 332.0 202.6Q260.5 308.5 302.5 429.2A127.8 127.8 0 0 1 301.9 429.4Q260.5 308.5 331.9 202.5Z" fill="#c7b1d6" stroke="#c7b1d6"/>
<path d="M144.8 254.1A127.8 127.8 0 0 1 144.9 254.0Q260.5 308.5 386.8 327.7A127.8 127.8 0 0 1 386.8 327.9Q260.5 308.5 144.8 254.1Z" fill="#653b97" stroke="#653b97"/>
<path d="M387.5 294.0A127.8 127.8 0 0 1 387.5 294.2Q260.5 308.5 328.2 200.1A127.8 127.8 0 0 1 328.3 200.2Q260.5 308.5 387.5 294.0Z" fill="#2273af" stroke="#2273af"/>
<path d="M386.0 284.6A127.8 127.8 0 0 1 386.1 284.8Q260.5 308.5 132.8 312.8A127.8 127.8 0 0 1 132.8 312.5Q260.5 308.5 386.0 284.6Z" fill="#a4cde2" stroke="#a4cde2"/>
<path d="M359.9 228.1A127.8 127.8 0 0 1 360.0 228.3Q260.5 308.5 222.4 186.5A127.8 127.8 0 0 1 222.7 186.4Q260.5 308.5 359.9 228.1Z" fill="#f8f39c" stroke="#f8f39c"/>
<path d="M320.1 195.5A127.8 127.8 0 0 1 320.3 195.5Q260.5 308.5 220.8 430.0A127.8 127.8 0 0 1 220.7 429.9Q260.5 308.5 320.1 195.5Z" fill="#ee7f1e" stroke="#ee7f1e"/>
<path d="M359.7 228.0A127.8 127.8 0 0 1 359.9 228.1Q260.5 308.5 238.5 182.6A127.8 127.8 0 0 1 238.8 182.6Q260.5 308.5 359.7 228.0Z" fill="#f8f39c" stroke="#f8f39c"/>
<path d="M144.0 255.9A127.8 127.8 0 0 1 144.1 255.7Q260.5 308.5 198.4 420.2A127.8 127.8 0 0 1 198.2 420.1Q260.5 308.5 144.0 255.9Z" fill="#653b97" stroke="#653b97"/>
<path d="M209.0 425.5A127.8 127.8 0 0 1 208.9 425.4Q260.5 308.5 353.5 220.8A127.8 127.8 0 0 1 353.6 220.9Q260.5 308.5 209.0 425.5Z" fill="#d6221f" stroke="#d6221f"/>
<path d="M208.3 191.8A127.8 127.8 0 0 1 208.5 191.8Q260.5 308.5 196.8 197.7A127.8 127.8 0 0 1 196.9 197.7Q260.5 308.5 208.3 191.8Z" fill="#acd686" stroke="#acd686"/>
<path d="M184.6 411.3A127.8 127.8 0 0 1 184.5 411.2Q260.5 308.5 315.4 193.1A127.8 127.8 0 0 1 315.4 193.1Q260.5 308.5 184.6 411.3Z" fill="#f5bd6f" stroke="#f5bd6f"/>
<path d="M362.6 231.6A127.8 127.8 0 0 1 362.7 231.8Q260.5 308.5 386.5 286.9A127.8 127.8 0 0 1 386.5 287.2Q260.5 308.5 362.6 231.6Z" fill="#f8f39c" stroke="#f8f39c"/>
<path d="M386.4 286.5A127.8 127.8 0 0 1 386.4 286.7Q260.5 308.5 387.1 326.0A127.8 127.8 0 0 1 387.1 326.2Q260.5 308.5 386.4 286.5Z" fill="#a4cde2" stroke="#a4cde2"/>
<path d="M200.6 195.6A127.8 127.8 0 0 1 200.8 195.5Q260.5 308.5 217.9 429.0A127.8 127.8 0 0 1 217.8 429.0Q260.5 308.5 200.6 195.6Z" fill="#2273af" stroke="#2273af"/>
<path d="M388.3 310.2A127.8 127.8 0 0 1 388.3 310.4Q260.5 308.5 202.4 422.3A127.8 127.8 0 0 1 202.2 422.2Q260.5 308.5 388.3 310.2Z" fill="#a4cde2" stroke="#a4cde2"/>
<path d="M252.2 436.0A127.8 127.8 0 0 1 252.0 436.0Q260.5 308.5 237.1 182.9A127.8 127.8 0 0 1 237.3 182.8Q260.5 308.5 252.2 436.0Z" fill="#f19596" stroke="#f19596"/>
<path d="M374.2 250.1A127.8 127.8 0 0 1 374.3 250.3Q260.5 308.5 157.3 233.0A127.8 127.8 0 0 1 157.5 232.9Q260.5 308.5 374.2 250.1Z" fill="#ab5b2b" stroke="#ab5b2b"/>
<path d="M171.9 216.4A127.8 127.8 0 0 1 172.1 216.2Q260.5 308.5 333.0 203.3A127.8 127.8 0 0 1 333.1 203.3Q260.5 308.5 171.9 216.4Z" fill="#ab5b2b" stroke="#ab5b2b"/>
<path d="M387.7 320.5A127.8 127.8 0 0 1 387.7 320.7Q260.5 308.5 309.7 190.6A127.8 127.8 0 0 1 310.1 190.7Q260.5 308.5 387.7 320.5Z" fill="#2273af" stroke="#2273af"/>
<path d="M248.8 435.8A127.8 127.8 0 0 1 248.6 435.7Q260.5 308.5 147.0 249.8A127.8 127.8 0 0 1 147.0 249.7Q260.5 308.5 248.8 435.8Z" fill="#f19596" stroke="#f19596"/>
<path d="M191.0 201.3A127.8 127.8 0 0 1 191.1 201.2Q260.5 308.5 199.4 420.8A127.8 127.8 0 0 1 199.1 420.6Q260.5 308.5 191.0 201.3Z" fill="#a4cde2" stroke="#a4cde2"/>
<path d="M372.1 246.2A127.8 127.8 0 0 1 372.2 246.3Q260.5 308.5 334.0 204.0A127.8 127.8 0 0 1 334.1 204.0Q260.5 308.5 372.1 246.2Z" fill="#ab5b2b" stroke="#ab5b2b"/>
<path d="M202.3 194.7A127.8 127.8 0 0 1 202.5 194.6Q260.5 308.5 217.4 188.2A127.8 127.8 0 0 1 217.6 188.1Q260.5 308.5 202.3 194.7Z" fill="#2273af" stroke="#2273af"/>
<path d="M254.9 436.2A127.8 127.8 0 0 1 254.7 436.2Q260.5 308.5 326.6 199.1A127.8 127.8 0 0 1 326.7 199.2Q260.5 308.5 254.9 436.2Z" fill="#f19596" stroke="#f19596"/>
<path d="M288.9 183.9A127.8 127.8 0 0 1 289.1 183.9Q260.5 308.5 387.0 326.8A127.8 127.8 0 0 1 387.0 326.9Q260.5 308.5 288.9 183.9Z" fill="#d6221f" stroke="#d6221f"/>
<path d="M346.3 213.8A127.8 127.8 0 0 1 346.4 213.9Q260.5 308.5 387.0 326.6A127.8 127.8 0 0 1 387.0 326.7Q260.5 308.5 346.3 213.8Z" fill="#653b97" stroke="#653b97"/>
<path d="M201.5 195.2A127.8 127.8 0 0 1 201.6 195.1Q260.5 308.5 382.0 268.9A127.8 127.8 0 0 1 382.1 269.1Q260.5 308.5 201.5 195.2Z" fill="#2273af" stroke="#2273af"/>
<path d="M344.6 404.8A127.8 127.8 0 0 1 344.4 404.9Q260.5 308.5 388.2 304.8A127.8 127.8 0 0 1 388.3 305.1Q260.5 308.5 344.6 404.8Z" fill="#359a3a" stroke="#359a3a"/>
<path d="M259.6 436.3A127.8 127.8 0 0 1 259.5 436.3Q260.5 308.5 386.6 329.1A127.8 127.8 0 0 1 386.6 329.2Q260.5 308.5 259.6 436.3Z" fill="#f19596" stroke="#f19596"/>
<path d="M205.9 424.1A127.8 127.8 0 0 1 205.8 424.0Q260.5 308.5 146.9 249.9A127.8 127.8 0 0 1 147.0 249.8Q260.5 308.5 205.9 424.1Z" fill="#d6221f" stroke="#d6221f"/>
<path d="M145.9 252.0A127.8 127.8 0 0 1 145.9 251.9Q260.5 308.5 176.9 211.8A127.8 127.8 0 0 1 177.1 211.6Q260.5 308.5 145.9 252.0Z" fill="#653b97" stroke="#653b97"/>
<path d="M145.0 253.9A127.8 127.8 0 0 1 145.0 253.7Q260.5 308.5 388.2 303.2A127.8 127.8 0 0 1 388.2 303.5Q260.5 308.5 145.0 253.9Z" fill="#653b97" stroke="#653b97"/>
<path d="M275.3 181.6A127.8 127.8 0 0 1 275.5 181.6Q260.5 308.5 205.7 193.1A127.8 127.8 0 0 1 205.8 193.0Q260.5 308.5 275.3 181.6Z" fill="#d6221f" stroke="#d6221f"/>
<path d="M145.8 252.2A127.8 127.8 0 0 1 145.8 252.1Q260.5 308.5 218.5 187.8A127.8 127.8 0 0 1 218.7 187.7Q260.5 308.5 145.8 252.2Z" fill="#653b97" stroke="#653b97"/>
<path d="M201.1 195.3A127.8 127.8 0 0 1 201.2 195.3Q260.5 308.5 357.8 391.3A127.8 127.8 0 0 1 357.6 391.6Q260.5 308.5 201.1 195.3Z" fill="#2273af" stroke="#2273af"/>
<path d="M136.7 276.8A127.8 127.8 0 0 1 136.7 276.7Q260.5 308.5 155.5 235.6A127.8 127.8 0 0 1 155.6 235.5Q260.5 308.5 136.7 276.8Z" fill="#c7b1d6" stroke="#c7b1d6"/>
<path d="M232.5 183.8A127.8 127.8 0 0 1 232.7 183.8Q260.5 308.5 218.2 429.1A127.8 127.8 0 0 1 218.1 429.1Q260.5 308.5 232.5 183.8Z" fill="#359a3a" stroke="#359a3a"/>
<path d="M344.0 405.3A127.8 127.8 0 0 1 343.9 405.4Q260.5 308.5 367.4 238.4A127.8 127.8 0 0 1 367.5 238.7Q260.5 308.5 344.0 405.3Z" fill="#359a3a" stroke="#359a3a"/>
<path d="M360.0 228.3A127.8 127.8 0 0 1 360.1 228.4Q260.5 308.5 196.0 198.2A127.8 127.8 0 0 1 196.2 198.0Q260.5 308.5 360.0 228.3Z" fill="#f8f39c" stroke="#f8f39c"/>
<path d="M347.5 214.9A127.8 127.8 0 0 1 347.7 215.0Q260.5 308.5 364.5 234.2A127.8 127.8 0 0 1 364.6 234.3Q260.5 308.5 347.5 214.9Z" fill="#653b97" stroke="#653b97"/>
<path d="M233.2 183.6A127.8 127.8 0 0 1 233.4 183.6Q260.5 308.5 358.3 390.8A127.8 127.8 0 0 1 358.1 391.0Q260.5 308.5 233.2 183.6Z" fill="#359a3a" stroke="#359a3a"/>
<path d="M153.7 238.3A127.8 127.8 0 0 1 153.8 238.1Q260.5 308.5 236.0 183.1A127.8 127.8 0 0 1 236.2 183.0Q260.5 308.5 153.7 238.3Z" fill="#f8f39c" stroke="#f8f39c"/>
<path d="M190.8 201.4A127.8 127.8 0 0 1 191.0 201.3Q260.5 308.5 166.1 394.6A127.8 127.8 0 0 1 165.9 394.5Q260.5 308.5 190.8 201.4Z" fill="#a4cde2" stroke="#a4cde2"/>
<path d="M249.8 181.1A127.8 127.8 0 0 1 250.0 181.1Q260.5 308.5 386.6 287.6A127.8 127.8 0 0 1 386.6 287.7Q260.5 308.5 249.8 181.1Z" fill="#f19596" stroke="#f19596"/>
<path d="M206.6 424.4A127.8 127.8 0 0 1 206.4 424.3Q260.5 308.5 194.4 199.1A127.8 127.8 0 0 1 194.5 199.1Q260.5 308.5 206.6 424.4Z" fill="#d6221f" stroke="#d6221f"/>
<path d="M387.5 293.9A127.8 127.8 0 0 1 387.5 294.0Q260.5 308.5 334.0 203.9A127.8 127.8 0 0 1 334.0 204.0Q260.5 308.5 387.5 293.9Z" fill="#2273af" stroke="#2273af"/>
<path d="M341.4 209.5A127.8 127.8 0 0 1 341.5 209.6Q260.5 308.5 196.2 198.0A127.8 127.8 0 0 1 196.3 198.0Q260.5 308.5 341.4 209.5Z" fill="#653b97" stroke="#653b97"/>
<path d="M388.3 310.0A127.8 127.8 0 0 1 388.3 310.2Q260.5 308.5 170.5 399.2A127.8 127.8 0 0 1 170.4 399.1Q260.5 308.5 388.3 310.0Z" fill="#a4cde2" stroke="#a4cde2"/>
<path d="M200.5 195.7A127.8 127.8 0 0 1 200.6 195.6Q260.5 308.5 199.6 420.9A127.8 127.8 0 0 1 199.4 420.8Q260.5 308.5 200.5 195.7Z" fill="#2273af" stroke="#2273af"/>
<path d="M242.3 182.0A127.8 127.8 0 0 1 242.4 182.0Q260.5 308.5 205.8 193.0A127.8 127.8 0 0 1 205.9 192.9Q260.5 308.5 242.3 182.0Z" fill="#f19596" stroke="#f19596"/>
<path d="M153.6 238.4A127.8 127.8 0 0 1 153.7 238.3Q260.5 308.5 256.8 180.8A127.8 127.8 0 0 1 257.0 180.7Q260.5 308.5 153.6 238.4Z" fill="#f8f39c" stroke="#f8f39c"/>
<path d="M317.8 194.2A127.8 127.8 0 0 1 317.9 194.3Q260.5 308.5 312.9 191.9A127.8 127.8 0 0 1 313.0 192.0Q260.5 308.5 317.8 194.2Z" fill="#ee7f1e" stroke="#ee7f1e"/>
<path d="M386.0 284.3A127.8 127.8 0 0 1 386.0 284.4Q260.5 308.5 147.8 248.3A127.8 127.8 0 0 1 147.9 248.1Q260.5 308.5 386.0 284.3Z" fill="#a4cde2" stroke="#a4cde2"/>
<path d="M231.5 184.0A127.8 127.8 0 0 1 231.7 184.0Q260.5 308.5 141.1 263.1A127.8 127.8 0 0 1 141.2 262.8Q260.5 308.5 231.5 184.0Z" fill="#359a3a" stroke="#359a3a"/>
<path d="M360.5 228.9A127.8 127.8 0 0 1 360.6 229.0Q260.5 308.5 148.1 247.7A127.8 127.8 0 0 1 148.2 247.5Q260.5 308.5 360.5 228.9Z" fill="#f8f39c" stroke="#f8f39c"/>
<path d="M193.2 199.9A127.8 127.8 0 0 1 193.3 199.8Q260.5 308.5 235.6 183.2A127.8 127.8 0 0 1 235.8 183.1Q260.5 308.5 193.2 199.9Z" fill="#a4cde2" stroke="#a4cde2"/>
<path d="M338.3 207.1A127.8 127.8 0 0 1 338.4 207.2Q260.5 308.5 328.9 200.5A127.8 127.8 0 0 1 328.9 200.6Q260.5 308.5 338.3 207.1Z" fill="#653b97" stroke="#653b97"/>
<path d="M342.9 406.2A127.8 127.8 0 0 1 342.8 406.3Q260.5 308.5 333.7 203.8A127.8 127.8 0 0 1 333.8 203.8Q260.5 308.5 342.9 406.2Z" fill="#359a3a" stroke="#359a3a"/>
<path d="M318.2 194.5A127.8 127.8 0 0 1 318.3 194.5Q260.5 308.5 239.1 182.5A127.8 127.8 0 0 1 239.3 182.5Q260.5 308.5 318.2 194.5Z" fill="#ee7f1e" stroke="#ee7f1e"/>
<path d="M215.1 189.1A127.8 127.8 0 0 1 215.2 189.0Q260.5 308.5 332.9 203.2A127.8 127.8 0 0 1 333.0 203.2Q260.5 308.5 215.1 189.1Z" fill="#acd686" stroke="#acd686"/>
<path d="M206.8 424.5A127.8 127.8 0 0 1 206.6 424.4Q260.5 308.5 220.6 187.1A127.8 127.8 0 0 1 220.7 187.1Q260.5 308.5 206.8 424.5Z" fill="#d6221f" stroke="#d6221f"/>
<path d="M209.1 191.5A127.8 127.8 0 0 1 209.2 191.4Q260.5 308.5 158.9 230.9A127.8 127.8 0 0 1 159.0 230.8Q260.5 308.5 209.1 191.5Z" fill="#acd686" stroke="#acd686"/>
<path d="M323.2 197.1A127.8 127.8 0 0 1 323.3 197.2Q260.5 308.5 348.7 216.0A127.8 127.8 0 0 1 348.8 216.1Q260.5 308.5 323.2 197.1Z" fill="#ee7f1e" stroke="#ee7f1e"/>
<path d="M373.3 248.4A127.8 127.8 0 0 1 373.4 248.6Q260.5 308.5 238.4 182.6A127.8 127.8 0 0 1 238.5 182.6Q260.5 308.5 373.3 248.4Z" fill="#ab5b2b" stroke="#ab5b2b"/>
<path d="M171.2 217.1A127.8 127.8 0 0 1 171.3 217.0Q260.5 308.5 365.8 236.1A127.8 127.8 0 0 1 365.9 236.2Q260.5 308.5 171.2 217.1Z" fill="#ab5b2b" stroke="#ab5b2b"/>
<path d="M387.6 295.5A127.8 127.8 0 0 1 387.7 295.7Q260.5 308.5 195.8 198.3A127.8 127.8 0 0 1 195.9 198.2Q260.5 308.5 387.6 295.5Z" fill="#2273af" stroke="#2273af"/>
<path d="M192.4 200.4A127.8 127.8 0 0 1 192.5 200.3Q260.5 308.5 388.2 302.6A127.8 127.8 0 0 1 388.2 302.8Q260.5 308.5 192.4 200.4Z" fill="#a4cde2" stroke="#a4cde2"/>
<path d="M210.0 425.9A127.8 127.8 0 0 1 209.9 425.9Q260.5 308.5 388.2 304.3A127.8 127.8 0 0 1 388.2 304.4Q260.5 308.5 210.0 425.9Z" fill="#d6221f" stroke="#d6221f"/>
<path d="M388.3 308.7A127.8 127.8 0 0 1 388.3 308.8Q260.5 308.5 238.0 182.7A127.8 127.8 0 0 1 238.2 182.7Q260.5 308.5 388.3 308.7Z" fill="#a4cde2" stroke="#a4cde2"/>
<path d="M209.2 425.5A127.8 127.8 0 0 1 209.0 425.5Q260.5 308.5 367.1 238.0A127.8 127.8 0 0 1 367.2 238.1Q260.5 308.5 209.2 425.5Z" fill="#d6221f" stroke="#d6221f"/>
<path d="M174.7 213.8A127.8 127.8 0 0 1 174.8 213.7Q260.5 308.5 193.4 199.7A127.8 127.8 0 0 1 193.5 199.7Q260.5 308.5 174.7 213.8Z" fill="#ab5b2b" stroke="#ab5b2b"/>
<path d="M150.0 244.3A127.8 127.8 0 0 1 150.0 244.2Q260.5 308.5 142.0 260.7A127.8 127.8 0 0 1 142.0 260.6Q260.5 308.5 150.0 244.3Z" fill="#f8f39c" stroke="#f8f39c"/>
<path d="M386.0 284.4A127.8 127.8 0 0 1 386.0 284.6Q260.5 308.5 139.5 267.3A127.8 127.8 0 0 1 139.6 267.0Q260.5 308.5 386.0 284.4Z" fill="#a4cde2" stroke="#a4cde2"/>
<path d="M292.2 184.7A127.8 127.8 0 0 1 292.3 184.7Q260.5 308.5 332.8 203.1A127.8 127.8 0 0 1 332.9 203.2Q260.5 308.5 292.2 184.7Z" fill="#d6221f" stroke="#d6221f"/>
<path d="M340.5 408.2A127.8 127.8 0 0 1 340.4 408.3Q260.5 308.5 237.3 182.8A127.8 127.8 0 0 1 237.5 182.8Q260.5 308.5 340.5 408.2Z" fill="#359a3a" stroke="#359a3a"/>
<path d="M387.5 322.5A127.8 127.8 0 0 1 387.5 322.7Q260.5 308.5 223.6 430.9A127.8 127.8 0 0 1 223.4 430.8Q260.5 308.5 387.5 322.5Z" fill="#2273af" stroke="#2273af"/>
<path d="M387.4 293.8A127.8 127.8 0 0 1 387.5 293.9Q260.5 308.5 356.7 224.3A127.8 127.8 0 0 1 356.8 224.5Q260.5 308.5 387.4 293.8Z" fill="#2273af" stroke="#2273af"/>
<path d="M388.3 309.3A127.8 127.8 0 0 1 388.3 309.5Q260.5 308.5 156.8 233.8A127.8 127.8 0 0 1 156.9 233.7Q260.5 308.5 388.3 309.3Z" fill="#a4cde2" stroke="#a4cde2"/>
<path d="M388.2 312.5A127.8 127.8 0 0 1 388.2 312.6Q260.5 308.5 387.1 325.8A127.8 127.8 0 0 1 387.1 326.0Q260.5 308.5 388.2 312.5Z" fill="#a4cde2" stroke="#a4cde2"/>
<path d="M372.5 246.9A127.8 127.8 0 0 1 372.5 247.0Q260.5 308.5 315.5 193.1A127.8 127.8 0 0 1 315.5 193.1Q260.5 308.5 372.5 246.9Z" fill="#ab5b2b" stroke="#ab5b2b"/>
<path d="M277.1 181.8A127.8 127.8 0 0 1 277.2 181.8Q260.5 308.5 148.3 247.3A127.8 127.8 0 0 1 148.4 247.2Q260.5 308.5 277.1 181.8Z" fill="#d6221f" stroke="#d6221f"/>
<path d="M145.0 253.7A127.8 127.8 0 0 1 145.1 253.6Q260.5 308.5 386.7 288.5A127.8 127.8 0 0 1 386.7 288.6Q260.5 308.5 145.0 253.7Z" fill="#653b97" stroke="#653b97"/>
<path d="M169.9 218.3A127.8 127.8 0 0 1 170.0 218.2Q260.5 308.5 386.9 327.4A127.8 127.8 0 0 1 386.9 327.5Q260.5 308.5 169.9 218.3Z" fill="#ab5b2b" stroke="#ab5b2b"/>
<path d="M242.1 182.0A127.8 127.8 0 0 1 242.3 182.0Q260.5 308.5 224.4 185.9A127.8 127.8 0 0 1 224.5 185.9Q260.5 308.5 242.1 182.0Z" fill="#f19596" stroke="#f19596"/>
<path d="M145.7 252.4A127.8 127.8 0 0 1 145.7 252.3Q260.5 308.5 257.0 180.7A127.8 127.8 0 0 1 257.2 180.7Q260.5 308.5 145.7 252.4Z" fill="#653b97" stroke="#653b97"/>
<path d="M254.7 436.2A127.8 127.8 0 0 1 254.6 436.2Q260.5 308.5 315.4 193.1A127.8 127.8 0 0 1 315.4 193.1Q260.5 308.5 254.7 436.2Z" fill="#f19596" stroke="#f19596"/>
<path d="M231.1 184.1A127.8 127.8 0 0 1 231.2 184.1Q260.5 308.5 186.9 204.0A127.8 127.8 0 0 1 187.1 203.9Q260.5 308.5 231.1 184.1Z" fill="#359a3a" stroke="#359a3a"/>
<path d="M318.5 194.6A127.8 127.8 0 0 1 318.7 194.7Q260.5 308.5 186.0 204.6A127.8 127.8 0 0 1 186.1 204.6Q260.5 308.5 318.5 194.6Z" fill="#ee7f1e" stroke="#ee7f1e"/>
<path d="M153.0 239.4A127.8 127.8 0 0 1 153.0 239.3Q260.5 308.5 333.1 203.3A127.8 127.8 0 0 1 333.1 203.3Q260.5 308.5 153.0 239.4Z" fill="#f8f39c" stroke="#f8f39c"/>
<path d="M234.1 183.4A127.8 127.8 0 0 1 234.3 183.4Q260.5 308.5 324.4 197.8A127.8 127.8 0 0 1 324.5 197.9Q260.5 308.5 234.1 183.4Z" fill="#359a3a" stroke="#359a3a"/>
<path d="M233.5 183.6A127.8 127.8 0 0 1 233.6 183.6Q260.5 308.5 388.1 301.8A127.8 127.8 0 0 1 388.1 302.0Q260.5 308.5 233.5 183.6Z" fill="#359a3a" stroke="#359a3a"/>
<path d="M388.3 308.5A127.8 127.8 0 0 1 388.3 308.6Q260.5 308.5 310.1 190.7A127.8 127.8 0 0 1 310.3 190.8Q260.5 308.5 388.3 308.5Z" fill="#a4cde2" stroke="#a4cde2"/>
<path d="M232.4 183.8A127.8 127.8 0 0 1 232.5 183.8Q260.5 308.5 200.0 421.1A127.8 127.8 0 0 1 199.8 421.0Q260.5 308.5 232.4 183.8Z" fill="#359a3a" stroke="#359a3a"/>
<path d="M198.9 196.5A127.8 127.8 0 0 1 199.0 196.4Q260.5 308.5 196.9 197.7A127.8 127.8 0 0 1 197.0 197.6Q260.5 308.5 198.9 196.5Z" fill="#2273af" stroke="#2273af"/>
<path d="M318.7 194.7A127.8 127.8 0 0 1 318.8 194.8Q260.5 308.5 157.9 232.3A127.8 127.8 0 0 1 158.0 232.2Q260.5 308.5 318.7 194.7Z" fill="#ee7f1e" stroke="#ee7f1e"/>
<path d="M318.4 194.6A127.8 127.8 0 0 1 318.5 194.6Q260.5 308.5 205.6 193.1A127.8 127.8 0 0 1 205.7 193.1Q260.5 308.5 318.4 194.6Z" fill="#ee7f1e" stroke="#ee7f1e"/>
<path d="M231.4 184.1A127.8 127.8 0 0 1 231.5 184.0Q260.5 308.5 148.5 247.0A127.8 127.8 0 0 1 148.6 246.8Q260.5 308.5 231.4 184.1Z" fill="#359a3a" stroke="#359a3a"/>
<path d="M174.6 213.8A127.8 127.8 0 0 1 174.7 213.8Q260.5 308.5 202.6 194.6A127.8 127.8 0 0 1 202.7 194.5Q260.5 308.5 174.6 213.8Z" fill="#ab5b2b" stroke="#ab5b2b"/>
<path d="M234.4 183.4A127.8 127.8 0 0 1 234.5 183.4Q260.5 308.5 255.5 180.8A127.8 127.8 0 0 1 255.7 180.8Q260.5 308.5 234.4 183.4Z" fill="#359a3a" stroke="#359a3a"/>
<path d="M199.1 196.4A127.8 127.8 0 0 1 199.3 196.3Q260.5 308.5 148.6 246.8A127.8 127.8 0 0 1 148.7 246.6Q260.5 308.5 199.1 196.4Z" fill="#2273af" stroke="#2273af"/>
<path d="M135.1 283.8A127.8 127.8 0 0 1 135.1 283.7Q260.5 308.5 388.2 303.5A127.8 127.8 0 0 1 388.2 303.6Q260.5 308.5 135.1 283.8Z" fill="#c7b1d6" stroke="#c7b1d6"/>
<path d="M153.0 239.3A127.8 127.8 0 0 1 153.1 239.2Q260.5 308.5 325.1 198.3A127.8 127.8 0 0 1 325.2 198.3Q260.5 308.5 153.0 239.3Z" fill="#f8f39c" stroke="#f8f39c"/>
<path d="M387.7 321.2A127.8 127.8 0 0 1 387.7 321.3Q260.5 308.5 156.7 234.0A127.8 127.8 0 0 1 156.8 233.8Q260.5 308.5 387.7 321.2Z" fill="#2273af" stroke="#2273af"/>
<path d="M387.7 295.7A127.8 127.8 0 0 1 387.7 295.8Q260.5 308.5 183.8 206.3A127.8 127.8 0 0 1 183.9 206.2Q260.5 308.5 387.7 295.7Z" fill="#2273af" stroke="#2273af"/>
<path d="M170.4 217.9A127.8 127.8 0 0 1 170.5 217.8Q260.5 308.5 388.2 302.8A127.8 127.8 0 0 1 388.2 302.9Q260.5 308.5 170.4 217.9Z" fill="#ab5b2b" stroke="#ab5b2b"/>
<path d="M387.6 295.3A127.8 127.8 0 0 1 387.6 295.4Q260.5 308.5 222.0 186.6A127.8 127.8 0 0 1 222.1 186.6Q260.5 308.5 387.6 295.3Z" fill="#2273af" stroke="#2273af"/>
<path d="M388.3 308.3A127.8 127.8 0 0 1 388.3 308.4Q260.5 308.5 333.9 203.9A127.8 127.8 0 0 1 334.0 203.9Q260.5 308.5 388.3 308.3Z" fill="#a4cde2" stroke="#a4cde2"/>
<path d="M387.7 320.9A127.8 127.8 0 0 1 387.7 321.0Q260.5 308.5 221.7 186.7A127.8 127.8 0 0 1 221.9 186.7Q260.5 308.5 387.7 320.9Z" fill="#2273af" stroke="#2273af"/>
<path d="M379.0 260.6A127.8 127.8 0 0 1 379.0 260.7Q260.5 308.5 388.2 312.7A127.8 127.8 0 0 1 388.2 312.8Q260.5 308.5 379.0 260.6Z" fill="#ab5b2b" stroke="#ab5b2b"/>
<path d="M342.2 406.7A127.8 127.8 0 0 1 342.2 406.8Q260.5 308.5 315.4 193.1A127.8 127.8 0 0 1 315.4 193.1Q260.5 308.5 342.2 406.7Z" fill="#359a3a" stroke="#359a3a"/>
<path d="M388.3 307.9A127.8 127.8 0 0 1 388.3 308.0Q260.5 308.5 387.1 291.0A127.8 127.8 0 0 1 387.1 291.1Q260.5 308.5 388.3 307.9Z" fill="#a4cde2" stroke="#a4cde2"/>
<path d="M209.9 425.9A127.8 127.8 0 0 1 209.8 425.8Q260.5 308.5 386.9 289.8A127.8 127.8 0 0 1 386.9 289.8Q260.5 308.5 209.9 425.9Z" fill="#d6221f" stroke="#d6221f"/>
<path d="M387.7 296.2A127.8 127.8 0 0 1 387.7 296.3Q260.5 308.5 139.5 267.4A127.8 127.8 0 0 1 139.5 267.3Q260.5 308.5 387.7 296.2Z" fill="#2273af" stroke="#2273af"/>
<path d="M145.7 252.3A127.8 127.8 0 0 1 145.8 252.2Q260.5 308.5 236.2 183.0A127.8 127.8 0 0 1 236.3 183.0Q260.5 308.5 145.7 252.3Z" fill="#653b97" stroke="#653b97"/>
<path d="M318.3 194.5A127.8 127.8 0 0 1 318.4 194.6Q260.5 308.5 223.4 186.2A127.8 127.8 0 0 1 223.5 186.2Q260.5 308.5 318.3 194.5Z" fill="#ee7f1e" stroke="#ee7f1e"/>
<path d="M362.5 231.5A127.8 127.8 0 0 1 362.6 231.6Q260.5 308.5 388.2 312.8A127.8 127.8 0 0 1 388.2 313.0Q260.5 308.5 362.5 231.5Z" fill="#f8f39c" stroke="#f8f39c"/>
<path d="M388.3 308.2A127.8 127.8 0 0 1 388.3 308.3Q260.5 308.5 356.6 224.3A127.8 127.8 0 0 1 356.7 224.3Q260.5 308.5 388.3 308.2Z" fill="#a4cde2" stroke="#a4cde2"/>
<path d="M387.6 295.4A127.8 127.8 0 0 1 387.6 295.5Q260.5 308.5 204.8 193.5A127.8 127.8 0 0 1 204.9 193.4Q260.5 308.5 387.6 295.4Z" fill="#2273af" stroke="#2273af"/>
<path d="M388.3 308.0A127.8 127.8 0 0 1 388.3 308.1Q260.5 308.5 385.0 279.4A127.8 127.8 0 0 1 385.0 279.6Q260.5 308.5 388.3 308.0Z" fill="#a4cde2" stroke="#a4cde2"/>
<path d="M213.7 189.6A127.8 127.8 0 0 1 213.8 189.5Q260.5 308.5 386.6 287.8A127.8 127.8 0 0 1 386.6 287.9Q260.5 308.5 213.7 189.6Z" fill="#acd686" stroke="#acd686"/>
<path d="M387.7 320.7A127.8 127.8 0 0 1 387.7 320.8Q260.5 308.5 262.8 180.7A127.8 127.8 0 0 1 263.0 180.7Q260.5 308.5 387.7 320.7Z" fill="#2273af" stroke="#2273af"/>
<path d="M321.8 196.4A127.8 127.8 0 0 1 321.9 196.4Q260.5 308.5 387.0 326.7A127.8 127.8 0 0 1 387.0 326.8Q260.5 308.5 321.8 196.4Z" fill="#ee7f1e" stroke="#ee7f1e"/>
<path d="M388.3 309.5A127.8 127.8 0 0 1 388.3 309.6Q260.5 308.5 139.5 267.5A127.8 127.8 0 0 1 139.5 267.4Q260.5 308.5 388.3 309.5Z" fill="#a4cde2" stroke="#a4cde2"/>
<path d="M209.2 191.4A127.8 127.8 0 0 1 209.3 191.4Q260.5 308.5 148.6 246.8A127.8 127.8 0 0 1 148.6 246.8Q260.5 308.5 209.2 191.4Z" fill="#acd686" stroke="#acd686"/>
<path d="M388.3 308.8A127.8 127.8 0 0 1 388.3 308.9Q260.5 308.5 221.9 186.7A127.8 127.8 0 0 1 222.0 186.6Q260.5 308.5 388.3 308.8Z" fill="#a4cde2" stroke="#a4cde2"/>
<path d="M250.9 181.1A127.8 127.8 0 0 1 251.0 181.1Q260.5 308.5 332.9 203.2A127.8 127.8 0 0 1 332.9 203.2Q260.5 308.5 250.9 181.1Z" fill="#f19596" stroke="#f19596"/>
<path d="M388.0 299.3A127.8 127.8 0 0 1 388.0 299.4Q260.5 308.5 387.1 326.0A127.8 127.8 0 0 1 387.1 326.0Q260.5 308.5 388.0 299.3Z" fill="#2273af" stroke="#2273af"/>
<path d="M135.5 282.1A127.8 127.8 0 0 1 135.5 282.0Q260.5 308.5 333.2 203.4A127.8 127.8 0 0 1 333.2 203.4Q260.5 308.5 135.5 282.1Z" fill="#c7b1d6" stroke="#c7b1d6"/>
<path d="M201.7 195.0A127.8 127.8 0 0 1 201.8 195.0Q260.5 308.5 324.6 197.9A127.8 127.8 0 0 1 324.7 198.0Q260.5 308.5 201.7 195.0Z" fill="#2273af" stroke="#2273af"/>
<path d="M190.2 201.8A127.8 127.8 0 0 1 190.3 201.7Q260.5 308.5 159.1 230.8A127.8 127.8 0 0 1 159.2 230.6Q260.5 308.5 190.2 201.8Z" fill="#a4cde2" stroke="#a4cde2"/>
<path d="M373.7 249.1A127.8 127.8 0 0 1 373.7 249.2Q260.5 308.5 196.0 198.2A127.8 127.8 0 0 1 196.0 198.2Q260.5 308.5 373.7 249.1Z" fill="#ab5b2b" stroke="#ab5b2b"/>
<path d="M145.3 253.1A127.8 127.8 0 0 1 145.4 253.0Q260.5 308.5 351.3 218.6A127.8 127.8 0 0 1 351.4 218.7Q260.5 308.5 145.3 253.1Z" fill="#653b97" stroke="#653b97"/>
<path d="M234.3 183.4A127.8 127.8 0 0 1 234.4 183.4Q260.5 308.5 296.8 186.0A127.8 127.8 0 0 1 297.0 186.0Q260.5 308.5 234.3 183.4Z" fill="#359a3a" stroke="#359a3a"/>
<path d="M242.1 182.0A127.8 127.8 0 0 1 242.1 182.0Q260.5 308.5 239.8 182.4A127.8 127.8 0 0 1 239.8 182.4Q260.5 308.5 242.1 182.0Z" fill="#f19596" stroke="#f19596"/>
<path d="M210.3 426.0A127.8 127.8 0 0 1 210.2 426.0Q260.5 308.5 386.6 329.0A127.8 127.8 0 0 1 386.6 329.1Q260.5 308.5 210.3 426.0Z" fill="#d6221f" stroke="#d6221f"/>
<path d="M191.1 201.2A127.8 127.8 0 0 1 191.2 201.1Q260.5 308.5 217.8 429.0A127.8 127.8 0 0 1 217.8 428.9Q260.5 308.5 191.1 201.2Z" fill="#a4cde2" stroke="#a4cde2"/>
<path d="M192.3 200.4A127.8 127.8 0 0 1 192.4 200.4Q260.5 308.5 388.2 314.3A127.8 127.8 0 0 1 388.2 314.4Q260.5 308.5 192.3 200.4Z" fill="#a4cde2" stroke="#a4cde2"/>
<path d="M249.2 181.2A127.8 127.8 0 0 1 249.3 181.2Q260.5 308.5 387.0 326.9A127.8 127.8 0 0 1 387.0 327.0Q260.5 308.5 249.2 181.2Z" fill="#f19596" stroke="#f19596"/>
<path d="M145.4 253.0A127.8 127.8 0 0 1 145.4 252.9Q260.5 308.5 333.1 203.3A127.8 127.8 0 0 1 333.2 203.4Q260.5 308.5 145.4 253.0Z" fill="#653b97" stroke="#653b97"/>
<path d="M362.5 231.4A127.8 127.8 0 0 1 362.5 231.5Q260.5 308.5 387.0 326.5A127.8 127.8 0 0 1 387.0 326.6Q260.5 308.5 362.5 231.4Z" fill="#f8f39c" stroke="#f8f39c"/>
<path d="M318.8 194.8A127.8 127.8 0 0 1 318.8 194.8Q260.5 308.5 148.3 247.4A127.8 127.8 0 0 1 148.3 247.3Q260.5 308.5 318.8 194.8Z" fill="#ee7f1e" stroke="#ee7f1e"/>
<path d="M388.3 307.8A127.8 127.8 0 0 1 388.3 307.9Q260.5 308.5 388.3 305.5A127.8 127.8 0 0 1 388.3 305.6Q260.5 308.5 388.3 307.8Z" fill="#a4cde2" stroke="#a4cde2"/>
<path d="M145.9 251.9A127.8 127.8 0 0 1 146.0 251.8Q260.5 308.5 155.4 235.7A127.8 127.8 0 0 1 155.5 235.6Q260.5 308.5 145.9 251.9Z" fill="#653b97" stroke="#653b97"/>
<path d="M201.3 195.2A127.8 127.8 0 0 1 201.4 195.2Q260.5 308.5 388.2 314.2A127.8 127.8 0 0 1 388.2 314.3Q260.5 308.5 201.3 195.2Z" fill="#2273af" stroke="#2273af"/>
<path d="M202.2 194.8A127.8 127.8 0 0 1 202.3 194.7Q260.5 308.5 235.4 183.2A127.8 127.8 0 0 1 235.6 183.2Q260.5 308.5 202.2 194.8Z" fill="#2273af" stroke="#2273af"/>
<path d="M215.4 188.9A127.8 127.8 0 0 1 215.5 188.9Q260.5 308.5 315.3 193.1A127.8 127.8 0 0 1 315.3 193.1Q260.5 308.5 215.4 188.9Z" fill="#acd686" stroke="#acd686"/>
<path d="M193.3 199.8A127.8 127.8 0 0 1 193.4 199.7Q260.5 308.5 217.6 188.1A127.8 127.8 0 0 1 217.7 188.1Q260.5 308.5 193.3 199.8Z" fill="#a4cde2" stroke="#a4cde2"/>
<path d="M138.7 347.1A127.8 127.8 0 0 1 138.6 347.0Q260.5 308.5 315.4 193.1A127.8 127.8 0 0 1 315.4 193.1Q260.5 308.5 138.7 347.1Z" fill="#ee7f1e" stroke="#ee7f1e"/>
<path d="M387.7 320.8A127.8 127.8 0 0 1 387.7 320.9Q260.5 308.5 237.8 182.7A127.8 127.8 0 0 1 238.0 182.7Q260.5 308.5 387.7 320.8Z" fill="#2273af" stroke="#2273af"/>
<path d="M149.9 244.4A127.8 127.8 0 0 1 150.0 244.3Q260.5 308.5 148.8 246.4A127.8 127.8 0 0 1 148.8 246.3Q260.5 308.5 149.9 244.4Z" fill="#f8f39c" stroke="#f8f39c"/>
<path d="M387.7 321.0A127.8 127.8 0 0 1 387.7 321.1Q260.5 308.5 204.7 193.5A127.8 127.8 0 0 1 204.8 193.5Q260.5 308.5 387.7 321.0Z" fill="#2273af" stroke="#2273af"/>
<path d="M387.5 322.5A127.8 127.8 0 0 1 387.5 322.5Q260.5 308.5 202.6 422.4A127.8 127.8 0 0 1 202.4 422.3Q260.5 308.5 387.5 322.5Z" fill="#2273af" stroke="#2273af"/>
<path d="M332.2 202.7A127.8 127.8 0 0 1 332.3 202.8Q260.5 308.5 364.6 234.3A127.8 127.8 0 0 1 364.7 234.5Q260.5 308.5 332.2 202.7Z" fill="#c7b1d6" stroke="#c7b1d6"/>
<path d="M388.3 308.6A127.8 127.8 0 0 1 388.3 308.7Q260.5 308.5 263.0 180.7A127.8 127.8 0 0 1 263.1 180.7Q260.5 308.5 388.3 308.6Z" fill="#a4cde2" stroke="#a4cde2"/>
<path d="M193.4 199.7A127.8 127.8 0 0 1 193.4 199.7Q260.5 308.5 202.5 194.6A127.8 127.8 0 0 1 202.6 194.6Q260.5 308.5 193.4 199.7Z" fill="#a4cde2" stroke="#a4cde2"/>
<path d="M387.4 293.7A127.8 127.8 0 0 1 387.4 293.8Q260.5 308.5 367.8 239.1A127.8 127.8 0 0 1 367.9 239.2Q260.5 308.5 387.4 293.7Z" fill="#2273af" stroke="#2273af"/>
<path d="M234.1 183.5A127.8 127.8 0 0 1 234.1 183.4Q260.5 308.5 332.9 203.2A127.8 127.8 0 0 1 332.9 203.2Q260.5 308.5 234.1 183.5Z" fill="#359a3a" stroke="#359a3a"/>
<path d="M385.8 283.5A127.8 127.8 0 0 1 385.8 283.5Q260.5 308.5 222.1 186.6A127.8 127.8 0 0 1 222.2 186.6Q260.5 308.5 385.8 283.5Z" fill="#a4cde2" stroke="#a4cde2"/>
<path d="M206.6 424.4A127.8 127.8 0 0 1 206.6 424.4Q260.5 308.5 204.0 193.8A127.8 127.8 0 0 1 204.1 193.8Q260.5 308.5 206.6 424.4Z" fill="#d6221f" stroke="#d6221f"/>
<path d="M331.2 202.0A127.8 127.8 0 0 1 331.2 202.1Q260.5 308.5 140.2 265.4A127.8 127.8 0 0 1 140.3 265.2Q260.5 308.5 331.2 202.0Z" fill="#c7b1d6" stroke="#c7b1d6"/>
<path d="M385.8 283.5A127.8 127.8 0 0 1 385.9 283.6Q260.5 308.5 204.9 193.4A127.8 127.8 0 0 1 205.0 193.4Q260.5 308.5 385.8 283.5Z" fill="#a4cde2" stroke="#a4cde2"/>
<path d="M233.6 183.6A127.8 127.8 0 0 1 233.7 183.6Q260.5 308.5 386.6 287.7A127.8 127.8 0 0 1 386.6 287.8Q260.5 308.5 233.6 183.6Z" fill="#359a3a" stroke="#359a3a"/>
<path d="M172.6 215.8A127.8 127.8 0 0 1 172.6 215.7Q260.5 308.5 315.3 193.1A127.8 127.8 0 0 1 315.3 193.1Q260.5 308.5 172.6 215.8Z" fill="#ab5b2b" stroke="#ab5b2b"/>
<path d="M387.8 319.7A127.8 127.8 0 0 1 387.8 319.8Q260.5 308.5 387.1 290.9A127.8 127.8 0 0 1 387.1 291.0Q260.5 308.5 387.8 319.7Z" fill="#2273af" stroke="#2273af"/>
<path d="M315.3 193.0A127.8 127.8 0 0 1 315.3 193.1Q260.5 308.5 323.3 197.2A127.8 127.8 0 0 1 323.9 197.5Q260.5 308.5 315.3 193.0Z" fill="#f5bd6f" stroke="#f5bd6f"/>
<path d="M387.7 321.1A127.8 127.8 0 0 1 387.7 321.1Q260.5 308.5 195.7 198.3A127.8 127.8 0 0 1 195.8 198.3Q260.5 308.5 387.7 321.1Z" fill="#2273af" stroke="#2273af"/>
<path d="M201.6 195.1A127.8 127.8 0 0 1 201.7 195.0Q260.5 308.5 350.4 217.6A127.8 127.8 0 0 1 350.4 217.7Q260.5 308.5 201.6 195.1Z" fill="#2273af" stroke="#2273af"/>
<path d="M193.1 199.9A127.8 127.8 0 0 1 193.2 199.9Q260.5 308.5 256.3 180.8A127.8 127.8 0 0 1 256.4 180.8Q260.5 308.5 193.1 199.9Z" fill="#a4cde2" stroke="#a4cde2"/>
<path d="M154.1 237.7A127.8 127.8 0 0 1 154.1 237.6Q260.5 308.5 202.7 194.5A127.8 127.8 0 0 1 202.7 194.5Q260.5 308.5 154.1 237.7Z" fill="#f8f39c" stroke="#f8f39c"/>
<path d="M386.1 285.1A127.8 127.8 0 0 1 386.2 285.2Q260.5 308.5 201.9 422.1A127.8 127.8 0 0 1 201.8 422.0Q260.5 308.5 386.1 285.1Z" fill="#a4cde2" stroke="#a4cde2"/>
<path d="M199.0 196.4A127.8 127.8 0 0 1 199.1 196.4Q260.5 308.5 187.6 203.6A127.8 127.8 0 0 1 187.6 203.5Q260.5 308.5 199.0 196.4Z" fill="#2273af" stroke="#2273af"/>
<path d="M332.1 202.7A127.8 127.8 0 0 1 332.2 202.7Q260.5 308.5 388.0 300.5A127.8 127.8 0 0 1 388.1 300.6Q260.5 308.5 332.1 202.7Z" fill="#c7b1d6" stroke="#c7b1d6"/>
<path d="M322.2 196.6A127.8 127.8 0 0 1 322.3 196.6Q260.5 308.5 386.5 287.4A127.8 127.8 0 0 1 386.5 287.4Q260.5 308.5 322.2 196.6Z" fill="#ee7f1e" stroke="#ee7f1e"/>
<path d="M330.9 201.8A127.8 127.8 0 0 1 330.9 201.9Q260.5 308.5 312.7 191.9A127.8 127.8 0 0 1 312.9 191.9Q260.5 308.5 330.9 201.8Z" fill="#c7b1d6" stroke="#c7b1d6"/>
<path d="M385.7 282.6A127.8 127.8 0 0 1 385.7 282.7Q260.5 308.5 367.9 239.2A127.8 127.8 0 0 1 367.9 239.3Q260.5 308.5 385.7 282.6Z" fill="#a4cde2" stroke="#a4cde2"/>
<path d="M385.7 282.7A127.8 127.8 0 0 1 385.7 282.8Q260.5 308.5 356.8 224.5A127.8 127.8 0 0 1 356.8 224.5Q260.5 308.5 385.7 282.7Z" fill="#a4cde2" stroke="#a4cde2"/>
<path d="M242.4 182.0A127.8 127.8 0 0 1 242.5 182.0Q260.5 308.5 196.7 197.8A127.8 127.8 0 0 1 196.7 197.7Q260.5 308.5 242.4 182.0Z" fill="#f19596" stroke="#f19596"/>
<path d="M331.0 201.9A127.8 127.8 0 0 1 331.1 201.9Q260.5 308.5 223.3 186.2A127.8 127.8 0 0 1 223.4 186.2Q260.5 308.5 331.0 201.9Z" fill="#c7b1d6" stroke="#c7b1d6"/>
<path d="M201.2 195.3A127.8 127.8 0 0 1 201.3 195.2Q260.5 308.5 386.9 327.3A127.8 127.8 0 0 1 386.9 327.4Q260.5 308.5 201.2 195.3Z" fill="#2273af" stroke="#2273af"/>
<path d="M387.7 321.1A127.8 127.8 0 0 1 387.7 321.2Q260.5 308.5 183.3 206.6A127.8 127.8 0 0 1 183.5 206.5Q260.5 308.5 387.7 321.1Z" fill="#2273af" stroke="#2273af"/>
<path d="M387.5 294.2A127.8 127.8 0 0 1 387.5 294.3Q260.5 308.5 315.5 193.1A127.8 127.8 0 0 1 315.5 193.1Q260.5 308.5 387.5 294.2Z" fill="#2273af" stroke="#2273af"/>
<path d="M388.3 308.1A127.8 127.8 0 0 1 388.3 308.2Q260.5 308.5 367.8 239.1A127.8 127.8 0 0 1 367.8 239.1Q260.5 308.5 388.3 308.1Z" fill="#a4cde2" stroke="#a4cde2"/>
<path d="M332.0 202.6A127.8 127.8 0 0 1 332.1 202.6Q260.5 308.5 362.2 385.8A127.8 127.8 0 0 1 362.1 386.0Q260.5 308.5 332.0 202.6Z" fill="#c7b1d6" stroke="#c7b1d6"/>
<path d="M201.4 195.2A127.8 127.8 0 0 1 201.4 195.2Q260.5 308.5 388.2 302.5A127.8 127.8 0 0 1 388.2 302.6Q260.5 308.5 201.4 195.2Z" fill="#2273af" stroke="#2273af"/>
<path d="M135.6 281.5A127.8 127.8 0 0 1 135.6 281.5Q260.5 308.5 315.4 193.1A127.8 127.8 0 0 1 315.4 193.1Q260.5 308.5 135.6 281.5Z" fill="#c7b1d6" stroke="#c7b1d6"/>
<path d="M144.9 254.0A127.8 127.8 0 0 1 145.0 253.9Q260.5 308.5 388.1 315.1A127.8 127.8 0 0 1 388.1 315.1Q260.5 308.5 144.9 254.0Z" fill="#653b97" stroke="#653b97"/>
<path d="M321.9 196.4A127.8 127.8 0 0 1 322.0 196.5Q260.5 308.5 388.2 313.3A127.8 127.8 0 0 1 388.2 313.3Q260.5 308.5 321.9 196.4Z" fill="#ee7f1e" stroke="#ee7f1e"/>
<path d="M233.4 183.6A127.8 127.8 0 0 1 233.4 183.6Q260.5 308.5 387.0 327.0A127.8 127.8 0 0 1 386.9 327.1Q260.5 308.5 233.4 183.6Z" fill="#359a3a" stroke="#359a3a"/>
<path d="M387.4 293.4A127.8 127.8 0 0 1 387.4 293.4Q260.5 308.5 387.1 291.1A127.8 127.8 0 0 1 387.1 291.2Q260.5 308.5 387.4 293.4Z" fill="#2273af" stroke="#2273af"/>
<path d="M234.0 183.5A127.8 127.8 0 0 1 234.1 183.5Q260.5 308.5 350.0 217.3A127.8 127.8 0 0 1 350.1 217.3Q260.5 308.5 234.0 183.5Z" fill="#359a3a" stroke="#359a3a"/>
<path d="M153.1 239.2A127.8 127.8 0 0 1 153.1 239.2Q260.5 308.5 315.3 193.1A127.8 127.8 0 0 1 315.4 193.1Q260.5 308.5 153.1 239.2Z" fill="#f8f39c" stroke="#f8f39c"/>
<path d="M331.1 201.9A127.8 127.8 0 0 1 331.1 202.0Q260.5 308.5 196.3 198.0A127.8 127.8 0 0 1 196.4 198.0Q260.5 308.5 331.1 201.9Z" fill="#c7b1d6" stroke="#c7b1d6"/>
<path d="M387.7 320.4A127.8 127.8 0 0 1 387.7 320.4Q260.5 308.5 333.9 203.9A127.8 127.8 0 0 1 333.9 203.9Q260.5 308.5 387.7 320.4Z" fill="#2273af" stroke="#2273af"/>
<path d="M199.1 196.4A127.8 127.8 0 0 1 199.1 196.4Q260.5 308.5 159.0 230.8A127.8 127.8 0 0 1 159.1 230.8Q260.5 308.5 199.1 196.4Z" fill="#2273af" stroke="#2273af"/>
<path d="M251.5 181.0A127.8 127.8 0 0 1 251.5 181.0Q260.5 308.5 315.3 193.1A127.8 127.8 0 0 1 315.3 193.1Q260.5 308.5 251.5 181.0Z" fill="#f19596" stroke="#f19596"/>
<path d="M154.1 237.6A127.8 127.8 0 0 1 154.2 237.6Q260.5 308.5 193.5 199.7A127.8 127.8 0 0 1 193.6 199.6Q260.5 308.5 154.1 237.6Z" fill="#f8f39c" stroke="#f8f39c"/>
<path d="M388.0 299.4A127.8 127.8 0 0 1 388.0 299.5Q260.5 308.5 388.2 312.6A127.8 127.8 0 0 1 388.2 312.7Q260.5 308.5 388.0 299.4Z" fill="#2273af" stroke="#2273af"/>
<path d="M387.7 296.1A127.8 127.8 0 0 1 387.7 296.2Q260.5 308.5 147.8 248.3A127.8 127.8 0 0 1 147.8 248.3Q260.5 308.5 387.7 296.1Z" fill="#2273af" stroke="#2273af"/>
<path d="M192.8 200.1A127.8 127.8 0 0 1 192.8 200.1Q260.5 308.5 350.4 217.7A127.8 127.8 0 0 1 350.5 217.8Q260.5 308.5 192.8 200.1Z" fill="#a4cde2" stroke="#a4cde2"/>
<path d="M361.4 230.1A127.8 127.8 0 0 1 361.5 230.1Q260.5 308.5 201.6 421.9A127.8 127.8 0 0 1 201.5 421.9Q260.5 308.5 361.4 230.1Z" fill="#f8f39c" stroke="#f8f39c"/>
<path d="M387.7 321.3A127.8 127.8 0 0 1 387.7 321.4Q260.5 308.5 147.7 248.4A127.8 127.8 0 0 1 147.8 248.3Q260.5 308.5 387.7 321.3Z" fill="#2273af" stroke="#2273af"/>
<path d="M360.0 228.3A127.8 127.8 0 0 1 360.0 228.3Q260.5 308.5 205.2 193.3A127.8 127.8 0 0 1 205.3 193.3Q260.5 308.5 360.0 228.3Z" fill="#f8f39c" stroke="#f8f39c"/>
<path d="M332.1 202.6A127.8 127.8 0 0 1 332.1 202.7Q260.5 308.5 388.2 313.2A127.8 127.8 0 0 1 388.2 313.3Q260.5 308.5 332.1 202.6Z" fill="#c7b1d6" stroke="#c7b1d6"/>
<path d="M385.9 283.6A127.8 127.8 0 0 1 385.9 283.7Q260.5 308.5 195.9 198.2A127.8 127.8 0 0 1 196.0 198.2Q260.5 308.5 385.9 283.6Z" fill="#a4cde2" stroke="#a4cde2"/>
<path d="M208.9 425.4A127.8 127.8 0 0 1 208.8 425.4Q260.5 308.5 333.5 203.6A127.8 127.8 0 0 1 333.6 203.6Q260.5 308.5 208.9 425.4Z" fill="#d6221f" stroke="#d6221f"/>
<path d="M145.8 252.1A127.8 127.8 0 0 1 145.9 252.0Q260.5 308.5 202.7 194.5A127.8 127.8 0 0 1 202.8 194.5Q260.5 308.5 145.8 252.1Z" fill="#653b97" stroke="#653b97"/>
<path d="M387.7 320.4A127.8 127.8 0 0 1 387.7 320.5Q260.5 308.5 328.1 200.0A127.8 127.8 0 0 1 328.1 200.1Q260.5 308.5 387.7 320.4Z" fill="#2273af" stroke="#2273af"/>
<path d="M388.3 308.4A127.8 127.8 0 0 1 388.3 308.5Q260.5 308.5 328.1 200.1A127.8 127.8 0 0 1 328.2 200.1Q260.5 308.5 388.3 308.4Z" fill="#a4cde2" stroke="#a4cde2"/>
<path d="M318.5 194.6A127.8 127.8 0 0 1 318.5 194.6Q260.5 308.5 196.4 198.0A127.8 127.8 0 0 1 196.4 197.9Q260.5 308.5 318.5 194.6Z" fill="#ee7f1e" stroke="#ee7f1e"/>
<path d="M388.3 308.9A127.8 127.8 0 0 1 388.3 309.0Q260.5 308.5 204.8 193.5A127.8 127.8 0 0 1 204.8 193.5Q260.5 308.5 388.3 308.9Z" fill="#a4cde2" stroke="#a4cde2"/>
<path d="M338.4 207.2A127.8 127.8 0 0 1 338.5 207.2Q260.5 308.5 315.5 193.1A127.8 127.8 0 0 1 315.5 193.1Q260.5 308.5 338.4 207.2Z" fill="#653b97" stroke="#653b97"/>
<path d="M388.3 309.5A127.8 127.8 0 0 1 388.3 309.5Q260.5 308.5 147.8 248.3A127.8 127.8 0 0 1 147.8 248.3Q260.5 308.5 388.3 309.5Z" fill="#a4cde2" stroke="#a4cde2"/>
<path d="M386.4 286.7A127.8 127.8 0 0 1 386.4 286.7Q260.5 308.5 388.0 299.5A127.8 127.8 0 0 1 388.0 299.5Q260.5 308.5 386.4 286.7Z" fill="#a4cde2" stroke="#a4cde2"/>
<path d="M387.8 319.6A127.8 127.8 0 0 1 387.8 319.7Q260.5 308.5 388.0 317.3A127.8 127.8 0 0 1 388.0 317.4Q260.5 308.5 387.8 319.6Z" fill="#2273af" stroke="#2273af"/>
<path d="M359.4 227.5A127.8 127.8 0 0 1 359.4 227.6Q260.5 308.5 328.8 200.5A127.8 127.8 0 0 1 328.9 200.5Q260.5 308.5 359.4 227.5Z" fill="#f8f39c" stroke="#f8f39c"/>
<path d="M234.0 183.5A127.8 127.8 0 0 1 234.0 183.5Q260.5 308.5 365.4 235.6A127.8 127.8 0 0 1 365.5 235.6Q260.5 308.5 234.0 183.5Z" fill="#359a3a" stroke="#359a3a"/>
<path d="M362.6 231.6A127.8 127.8 0 0 1 362.6 231.6Q260.5 308.5 388.0 299.9A127.8 127.8 0 0 1 388.0 300.0Q260.5 308.5 362.6 231.6Z" fill="#f8f39c" stroke="#f8f39c"/>
<path d="M192.8 200.1A127.8 127.8 0 0 1 192.8 200.1Q260.5 308.5 365.8 236.0A127.8 127.8 0 0 1 365.8 236.1Q260.5 308.5 192.8 200.1Z" fill="#a4cde2" stroke="#a4cde2"/>
<path d="M201.6 195.1A127.8 127.8 0 0 1 201.6 195.1Q260.5 308.5 365.7 236.0A127.8 127.8 0 0 1 365.8 236.0Q260.5 308.5 201.6 195.1Z" fill="#2273af" stroke="#2273af"/>
<path d="M192.5 200.3A127.8 127.8 0 0 1 192.5 200.3Q260.5 308.5 386.6 287.9A127.8 127.8 0 0 1 386.6 288.0Q260.5 308.5 192.5 200.3Z" fill="#a4cde2" stroke="#a4cde2"/>
<path d="M231.0 184.1A127.8 127.8 0 0 1 231.1 184.1Q260.5 308.5 196.7 197.7A127.8 127.8 0 0 1 196.8 197.7Q260.5 308.5 231.0 184.1Z" fill="#359a3a" stroke="#359a3a"/>
<path d="M388.3 309.0A127.8 127.8 0 0 1 388.3 309.0Q260.5 308.5 195.8 198.3A127.8 127.8 0 0 1 195.8 198.3Q260.5 308.5 388.3 309.0Z" fill="#a4cde2" stroke="#a4cde2"/>
<path d="M330.9 201.9A127.8 127.8 0 0 1 331.0 201.9Q260.5 308.5 265.9 180.8A127.8 127.8 0 0 1 266.0 180.8Q260.5 308.5 330.9 201.9Z" fill="#c7b1d6" stroke="#c7b1d6"/>
<path d="M323.3 197.2A127.8 127.8 0 0 1 323.3 197.2Q260.5 308.5 332.8 203.1A127.8 127.8 0 0 1 332.8 203.1Q260.5 308.5 323.3 197.2Z" fill="#ee7f1e" stroke="#ee7f1e"/>
<path d="M190.3 201.7A127.8 127.8 0 0 1 190.3 201.7Q260.5 308.5 148.7 246.6A127.8 127.8 0 0 1 148.7 246.6Q260.5 308.5 190.3 201.7Z" fill="#a4cde2" stroke="#a4cde2"/>
<path d="M385.8 283.4A127.8 127.8 0 0 1 385.8 283.5Q260.5 308.5 238.4 182.6A127.8 127.8 0 0 1 238.4 182.6Q260.5 308.5 385.8 283.4Z" fill="#a4cde2" stroke="#a4cde2"/>
<path d="M332.2 202.7A127.8 127.8 0 0 1 332.2 202.7Q260.5 308.5 381.2 266.4A127.8 127.8 0 0 1 381.2 266.5Q260.5 308.5 332.2 202.7Z" fill="#c7b1d6" stroke="#c7b1d6"/>
<path d="M201.7 195.0A127.8 127.8 0 0 1 201.7 195.0Q260.5 308.5 333.0 203.2A127.8 127.8 0 0 1 333.0 203.3Q260.5 308.5 201.7 195.0Z" fill="#2273af" stroke="#2273af"/>
<path d="M386.4 286.7A127.8 127.8 0 0 1 386.4 286.7Q260.5 308.5 388.2 312.7A127.8 127.8 0 0 1 388.2 312.7Q260.5 308.5 386.4 286.7Z" fill="#a4cde2" stroke="#a4cde2"/>
<path d="M387.8 320.1A127.8 127.8 0 0 1 387.8 320.1Q260.5 308.5 367.8 239.0A127.8 127.8 0 0 1 367.8 239.1Q260.5 308.5 387.8 320.1Z" fill="#2273af" stroke="#2273af"/>
<path d="M315.2 193.0A127.8 127.8 0 0 1 315.2 193.0Q260.5 308.5 301.2 429.7A127.8 127.8 0 0 1 300.7 429.8Q260.5 308.5 315.2 193.0Z" fill="#f5bd6f" stroke="#f5bd6f"/>
<path d="M292.6 184.8A127.8 127.8 0 0 1 292.6 184.8Q260.5 308.5 315.3 193.1A127.8 127.8 0 0 1 315.3 193.1Q260.5 308.5 292.6 184.8Z" fill="#d6221f" stroke="#d6221f"/>
<path d="M233.4 183.6A127.8 127.8 0 0 1 233.5 183.6Q260.5 308.5 388.2 313.8A127.8 127.8 0 0 1 388.2 313.9Q260.5 308.5 233.4 183.6Z" fill="#359a3a" stroke="#359a3a"/>
<path d="M330.9 201.8A127.8 127.8 0 0 1 330.9 201.8Q260.5 308.5 328.9 200.6A127.8 127.8 0 0 1 329.0 200.6Q260.5 308.5 330.9 201.8Z" fill="#c7b1d6" stroke="#c7b1d6"/>
<path d="M145.9 252.0A127.8 127.8 0 0 1 145.9 252.0Q260.5 308.5 193.6 199.6A127.8 127.8 0 0 1 193.6 199.6Q260.5 308.5 145.9 252.0Z" fill="#653b97" stroke="#653b97"/>
<path d="M192.9 200.1A127.8 127.8 0 0 1 192.9 200.1Q260.5 308.5 324.7 198.0A127.8 127.8 0 0 1 324.7 198.0Q260.5 308.5 192.9 200.1Z" fill="#a4cde2" stroke="#a4cde2"/>
<path d="M192.3 200.4A127.8 127.8 0 0 1 192.3 200.4Q260.5 308.5 386.9 327.4A127.8 127.8 0 0 1 386.9 327.4Q260.5 308.5 192.3 200.4Z" fill="#a4cde2" stroke="#a4cde2"/>
<path d="M331.1 202.0A127.8 127.8 0 0 1 331.1 202.0Q260.5 308.5 186.0 204.7A127.8 127.8 0 0 1 186.0 204.6Q260.5 308.5 331.1 202.0Z" fill="#c7b1d6" stroke="#c7b1d6"/>
<path d="M387.8 319.7A127.8 127.8 0 0 1 387.8 319.7Q260.5 308.5 388.3 305.4A127.8 127.8 0 0 1 388.3 305.5Q260.5 308.5 387.8 319.7Z" fill="#2273af" stroke="#2273af"/>
<path d="M201.4 195.2A127.8 127.8 0 0 1 201.5 195.2Q260.5 308.5 386.6 287.9A127.8 127.8 0 0 1 386.6 287.9Q260.5 308.5 201.4 195.2Z" fill="#2273af" stroke="#2273af"/>
<path d="M385.7 283.0A127.8 127.8 0 0 1 385.7 283.0Q260.5 308.5 315.5 193.1A127.8 127.8 0 0 1 315.5 193.1Q260.5 308.5 385.7 283.0Z" fill="#a4cde2" stroke="#a4cde2"/>
<path d="M385.7 282.8A127.8 127.8 0 0 1 385.7 282.8Q260.5 308.5 334.0 204.0A127.8 127.8 0 0 1 334.0 204.0Q260.5 308.5 385.7 282.8Z" fill="#a4cde2" stroke="#a4cde2"/>
<path d="M331.2 202.0A127.8 127.8 0 0 1 331.2 202.0Q260.5 308.5 148.2 247.4A127.8 127.8 0 0 1 148.3 247.4Q260.5 308.5 331.2 202.0Z" fill="#c7b1d6" stroke="#c7b1d6"/>
<path d="M387.7 320.5A127.8 127.8 0 0 1 387.7 320.5Q260.5 308.5 315.4 193.1A127.8 127.8 0 0 1 315.5 193.1Q260.5 308.5 387.7 320.5Z" fill="#2273af" stroke="#2273af"/>
<path d="M231.0 184.2A127.8 127.8 0 0 1 231.0 184.1Q260.5 308.5 205.9 192.9A127.8 127.8 0 0 1 206.0 192.9Q260.5 308.5 231.0 184.2Z" fill="#359a3a" stroke="#359a3a"/>
<path d="M208.5 425.2A127.8 127.8 0 0 1 208.5 425.2Q260.5 308.5 315.4 193.1A127.8 127.8 0 0 1 315.4 193.1Q260.5 308.5 208.5 425.2Z" fill="#d6221f" stroke="#d6221f"/>
<path d="M388.3 308.5A127.8 127.8 0 0 1 388.3 308.5Q260.5 308.5 315.5 193.1A127.8 127.8 0 0 1 315.5 193.1Q260.5 308.5 388.3 308.5Z" fill="#a4cde2" stroke="#a4cde2"/>
<path d="M145.5 252.7A127.8 127.8 0 0 1 145.5 252.7Q260.5 308.5 315.4 193.1A127.8 127.8 0 0 1 315.4 193.1Q260.5 308.5 145.5 252.7Z" fill="#653b97" stroke="#653b97"/>
<path d="M359.4 227.5A127.8 127.8 0 0 1 359.4 227.5Q260.5 308.5 334.1 204.0A127.8 127.8 0 0 1 334.1 204.0Q260.5 308.5 359.4 227.5Z" fill="#f8f39c" stroke="#f8f39c"/>
<path d="M192.8 200.1A127.8 127.8 0 0 1 192.9 200.1Q260.5 308.5 333.0 203.3A127.8 127.8 0 0 1 333.0 203.3Q260.5 308.5 192.8 200.1Z" fill="#a4cde2" stroke="#a4cde2"/>
<path d="M331.1 202.0A127.8 127.8 0 0 1 331.2 202.0Q260.5 308.5 157.9 232.3A127.8 127.8 0 0 1 157.9 232.3Q260.5 308.5 331.1 202.0Z" fill="#c7b1d6" stroke="#c7b1d6"/>
<path d="M331.7 202.3A127.8 127.8 0 0 1 331.7 202.4Q260.5 308.5 201.3 421.8A127.8 127.8 0 0 1 201.3 421.8Q260.5 308.5 331.7 202.3Z" fill="#c7b1d6" stroke="#c7b1d6"/>
<path d="M330.9 201.8A127.8 127.8 0 0 1 330.9 201.8Q260.5 308.5 315.5 193.1A127.8 127.8 0 0 1 315.5 193.1Q260.5 308.5 330.9 201.8Z" fill="#c7b1d6" stroke="#c7b1d6"/>
<path d="M315.2 193.0A127.8 127.8 0 0 1 315.2 193.0Q260.5 308.5 220.7 429.9A127.8 127.8 0 0 1 220.6 429.9Q260.5 308.5 315.2 193.0Z" fill="#f5bd6f" stroke="#f5bd6f"/>
<path d="M332.1 202.6A127.8 127.8 0 0 1 332.1 202.6Q260.5 308.5 387.0 326.7A127.8 127.8 0 0 1 387.0 326.7Q260.5 308.5 332.1 202.6Z" fill="#c7b1d6" stroke="#c7b1d6"/>
<path d="M331.0 201.9A127.8 127.8 0 0 1 331.0 201.9Q260.5 308.5 239.1 182.5A127.8 127.8 0 0 1 239.1 182.5Q260.5 308.5 331.0 201.9Z" fill="#c7b1d6" stroke="#c7b1d6"/>
<path d="M315.2 193.0A127.8 127.8 0 0 1 315.3 193.0Q260.5 308.5 348.8 216.1A127.8 127.8 0 0 1 349.0 216.3Q260.5 308.5 315.2 193.0Z" fill="#f5bd6f" stroke="#f5bd6f"/>
<path d="M331.1 201.9A127.8 127.8 0 0 1 331.1 201.9Q260.5 308.5 205.5 193.1A127.8 127.8 0 0 1 205.6 193.1Q260.5 308.5 331.1 201.9Z" fill="#c7b1d6" stroke="#c7b1d6"/>
<path d="M234.3 183.4A127.8 127.8 0 0 1 234.3 183.4Q260.5 308.5 315.3 193.1A127.8 127.8 0 0 1 315.3 193.1Q260.5 308.5 234.3 183.4Z" fill="#359a3a" stroke="#359a3a"/>
<path d="M332.2 202.7A127.8 127.8 0 0 1 332.2 202.7Q260.5 308.5 386.5 287.3A127.8 127.8 0 0 1 386.5 287.4Q260.5 308.5 332.2 202.7Z" fill="#c7b1d6" stroke="#c7b1d6"/>
<path d="M359.4 227.6A127.8 127.8 0 0 1 359.4 227.6Q260.5 308.5 315.5 193.1A127.8 127.8 0 0 1 315.5 193.1Q260.5 308.5 359.4 227.6Z" fill="#f8f39c" stroke="#f8f39c"/>
<path d="M192.9 200.1A127.8 127.8 0 0 1 192.9 200.0Q260.5 308.5 315.3 193.1A127.8 127.8 0 0 1 315.3 193.1Q260.5 308.5 192.9 200.1Z" fill="#a4cde2" stroke="#a4cde2"/>
<path d="M315.2 193.0A127.8 127.8 0 0 1 315.2 193.0Q260.5 308.5 361.3 387.1A127.8 127.8 0 0 1 361.2 387.2Q260.5 308.5 315.2 193.0Z" fill="#f5bd6f" stroke="#f5bd6f"/>
<path d="M201.8 195.0A127.8 127.8 0 0 1 201.8 195.0Q260.5 308.5 315.3 193.1A127.8 127.8 0 0 1 315.3 193.1Q260.5 308.5 201.8 195.0Z" fill="#2273af" stroke="#2273af"/>
<path d="M315.1 193.0A127.8 127.8 0 0 1 315.1 193.0Q260.5 308.5 186.1 204.6A127.8 127.8 0 0 1 186.2 204.5Q260.5 308.5 315.1 193.0Z" fill="#f5bd6f" stroke="#f5bd6f"/>
<path d="M315.1 193.0A127.8 127.8 0 0 1 315.1 193.0Q260.5 308.5 223.5 186.2A127.8 127.8 0 0 1 223.6 186.1Q260.5 308.5 315.1 193.0Z" fill="#f5bd6f" stroke="#f5bd6f"/>
<path d="M315.2 193.0A127.8 127.8 0 0 1 315.2 193.0Q260.5 308.5 132.7 307.0A127.8 127.8 0 0 1 132.7 306.9Q260.5 308.5 315.2 193.0Z" fill="#f5bd6f" stroke="#f5bd6f"/>
<path d="M315.1 193.0A127.8 127.8 0 0 1 315.1 193.0Q260.5 308.5 148.3 247.3A127.8 127.8 0 0 1 148.3 247.3Q260.5 308.5 315.1 193.0Z" fill="#f5bd6f" stroke="#f5bd6f"/>
<path d="M315.2 193.0A127.8 127.8 0 0 1 315.2 193.0Q260.5 308.5 388.1 301.0A127.8 127.8 0 0 1 388.1 301.0Q260.5 308.5 315.2 193.0Z" fill="#f5bd6f" stroke="#f5bd6f"/>
<path d="M315.2 193.0A127.8 127.8 0 0 1 315.2 193.0Q260.5 308.5 167.7 396.4A127.8 127.8 0 0 1 167.7 396.3Q260.5 308.5 315.2 193.0Z" fill="#f5bd6f" stroke="#f5bd6f"/>
<path d="M315.1 193.0A127.8 127.8 0 0 1 315.1 193.0Q260.5 308.5 313.0 192.0A127.8 127.8 0 0 1 313.1 192.0Q260.5 308.5 315.1 193.0Z" fill="#f5bd6f" stroke="#f5bd6f"/>
<path d="M315.2 193.0A127.8 127.8 0 0 1 315.2 193.0Q260.5 308.5 386.5 287.4A127.8 127.8 0 0 1 386.6 287.4Q260.5 308.5 315.2 193.0Z" fill="#f5bd6f" stroke="#f5bd6f"/>
<path d="M315.2 193.0A127.8 127.8 0 0 1 315.2 193.0Q260.5 308.5 381.4 267.0A127.8 127.8 0 0 1 381.4 267.1Q260.5 308.5 315.2 193.0Z" fill="#f5bd6f" stroke="#f5bd6f"/>
<path d="M315.2 193.0A127.8 127.8 0 0 1 315.2 193.0Q260.5 308.5 365.0 234.9A127.8 127.8 0 0 1 365.0 234.9Q260.5 308.5 315.2 193.0Z" fill="#f5bd6f" stroke="#f5bd6f"/>
<path d="M315.1 193.0A127.8 127.8 0 0 1 315.2 193.0Q260.5 308.5 140.4 264.7A127.8 127.8 0 0 1 140.5 264.6Q260.5 308.5 315.1 193.0Z" fill="#f5bd6f" stroke="#f5bd6f"/>
<path d="M315.1 193.0A127.8 127.8 0 0 1 315.1 193.0Q260.5 308.5 266.3 180.8A127.8 127.8 0 0 1 266.3 180.8Q260.5 308.5 315.1 193.0Z" fill="#f5bd6f" stroke="#f5bd6f"/>
<path d="M315.1 193.0A127.8 127.8 0 0 1 315.1 193.0Q260.5 308.5 158.0 232.2A127.8 127.8 0 0 1 158.0 232.1Q260.5 308.5 315.1 193.0Z" fill="#f5bd6f" stroke="#f5bd6f"/>
<path d="M315.1 193.0A127.8 127.8 0 0 1 315.1 193.0Q260.5 308.5 196.4 197.9A127.8 127.8 0 0 1 196.4 197.9Q260.5 308.5 315.1 193.0Z" fill="#f5bd6f" stroke="#f5bd6f"/>
<path d="M315.2 193.0A127.8 127.8 0 0 1 315.2 193.0Q260.5 308.5 200.9 421.5A127.8 127.8 0 0 1 200.9 421.5Q260.5 308.5 315.2 193.0Z" fill="#f5bd6f" stroke="#f5bd6f"/>
<path d="M315.3 193.0A127.8 127.8 0 0 1 315.3 193.0Q260.5 308.5 332.8 203.1A127.8 127.8 0 0 1 332.8 203.1Q260.5 308.5 315.3 193.0Z" fill="#f5bd6f" stroke="#f5bd6f"/>
<path d="M315.2 193.0A127.8 127.8 0 0 1 315.2 193.0Q260.5 308.5 388.2 313.3A127.8 127.8 0 0 1 388.2 313.4Q260.5 308.5 315.2 193.0Z" fill="#f5bd6f" stroke="#f5bd6f"/>
<path d="M315.2 193.0A127.8 127.8 0 0 1 315.2 193.0Q260.5 308.5 387.0 326.8A127.8 127.8 0 0 1 387.0 326.8Q260.5 308.5 315.2 193.0Z" fill="#f5bd6f" stroke="#f5bd6f"/>
<path d="M315.1 193.0A127.8 127.8 0 0 1 315.1 193.0Q260.5 308.5 239.3 182.5A127.8 127.8 0 0 1 239.3 182.5Q260.5 308.5 315.1 193.0Z" fill="#f5bd6f" stroke="#f5bd6f"/>
<path d="M315.1 193.0A127.8 127.8 0 0 1 315.1 193.0Q260.5 308.5 205.7 193.1A127.8 127.8 0 0 1 205.7 193.1Q260.5 308.5 315.1 193.0Z" fill="#f5bd6f" stroke="#f5bd6f"/>
</g>
<path d="M237.9 155.2A155.0 155.0 0 0 1 271.0 153.9L269.5 176.4A132.4 132.4 0 0 0 241.2 177.5Z" fill="#f19596"/>
<path d="M273.3 154.0A155.0 155.0 0 0 1 324.5 167.3L315.2 187.9A132.4 132.4 0 0 0 271.4 176.5Z" fill="#d6221f"/>
<path d="M326.5 168.3A155.0 155.0 0 0 1 327.4 168.7L317.7 189.1A132.4 132.4 0 0 0 316.9 188.7Z" fill="#f5bd6f"/>
<path d="M329.5 169.7A155.0 155.0 0 0 1 343.7 177.7L331.6 196.8A132.4 132.4 0 0 0 319.4 189.9Z" fill="#ee7f1e"/>
<path d="M345.6 179.0A155.0 155.0 0 0 1 350.7 182.4L337.5 200.8A132.4 132.4 0 0 0 333.2 197.9Z" fill="#c7b1d6"/>
<path d="M352.5 183.8A155.0 155.0 0 0 1 378.5 208.0L361.3 222.7A132.4 132.4 0 0 0 339.1 202.0Z" fill="#653b97"/>
<path d="M380.0 209.7A155.0 155.0 0 0 1 392.6 227.5L373.4 239.3A132.4 132.4 0 0 0 362.5 224.1Z" fill="#f8f39c"/>
<path d="M393.8 229.4A155.0 155.0 0 0 1 411.7 274.4L389.7 279.3A132.4 132.4 0 0 0 374.4 240.9Z" fill="#ab5b2b"/>
<path d="M412.2 276.6A155.0 155.0 0 0 1 414.1 287.7L391.7 290.7A132.4 132.4 0 0 0 390.1 281.2Z" fill="#a4cde2"/>
<path d="M414.4 289.9A155.0 155.0 0 0 1 415.5 305.2L392.9 305.7A132.4 132.4 0 0 0 391.9 292.6Z" fill="#2273af"/>
<path d="M415.5 307.5A155.0 155.0 0 0 1 415.1 319.5L392.6 317.9A132.4 132.4 0 0 0 392.9 307.6Z" fill="#a4cde2"/>
<path d="M414.9 321.8A155.0 155.0 0 0 1 412.8 337.2L390.6 333.0A132.4 132.4 0 0 0 392.4 319.9Z" fill="#2273af"/>
<path d="M412.4 339.5A155.0 155.0 0 0 1 366.1 422.0L350.7 405.5A132.4 132.4 0 0 0 390.2 334.9Z" fill="#acd686"/>
<path d="M364.4 423.5A155.0 155.0 0 0 1 277.6 462.6L275.1 440.1A132.4 132.4 0 0 0 349.2 406.8Z" fill="#359a3a"/>
<path d="M275.3 462.8A155.0 155.0 0 0 1 204.5 453.0L212.7 432.0A132.4 132.4 0 0 0 273.1 440.3Z" fill="#f19596"/>
<path d="M202.4 452.2A155.0 155.0 0 0 1 183.5 443.0L194.7 423.4A132.4 132.4 0 0 0 210.9 431.2Z" fill="#d6221f"/>
<path d="M181.6 441.9A155.0 155.0 0 0 1 133.3 397.0L151.8 384.1A132.4 132.4 0 0 0 193.1 422.4Z" fill="#f5bd6f"/>
<path d="M132.0 395.1A155.0 155.0 0 0 1 106.8 288.3L129.2 291.3A132.4 132.4 0 0 0 150.7 382.5Z" fill="#ee7f1e"/>
<path d="M107.1 286.1A155.0 155.0 0 0 1 117.5 248.7L138.3 257.4A132.4 132.4 0 0 0 129.5 289.3Z" fill="#c7b1d6"/>
<path d="M118.4 246.6A155.0 155.0 0 0 1 125.2 232.9L144.9 243.9A132.4 132.4 0 0 0 139.1 255.7Z" fill="#653b97"/>
<path d="M126.3 231.0A155.0 155.0 0 0 1 140.7 210.2L158.2 224.5A132.4 132.4 0 0 0 145.9 242.3Z" fill="#f8f39c"/>
<path d="M142.1 208.4A155.0 155.0 0 0 1 172.9 180.6L185.7 199.3A132.4 132.4 0 0 0 159.4 223.0Z" fill="#ab5b2b"/>
<path d="M174.8 179.4A155.0 155.0 0 0 1 183.7 173.9L194.9 193.5A132.4 132.4 0 0 0 187.3 198.2Z" fill="#a4cde2"/>
<path d="M185.6 172.8A155.0 155.0 0 0 1 194.7 168.2L204.3 188.6A132.4 132.4 0 0 0 196.6 192.6Z" fill="#2273af"/>
<path d="M196.8 167.2A155.0 155.0 0 0 1 220.1 158.9L226.0 180.7A132.4 132.4 0 0 0 206.1 187.8Z" fill="#acd686"/>
<path d="M222.3 158.3A155.0 155.0 0 0 1 235.7 155.5L239.3 177.8A132.4 132.4 0 0 0 227.8 180.2Z" fill="#359a3a"/>
<text transform="translate(260.5 308.5) rotate(-92.2) translate(158.8 3.0)" font-size="24" fill="#231815">P15_post</text>
<text transform="translate(260.5 308.5) rotate(-75.5) translate(158.8 3.0)" font-size="24" fill="#231815">P15_pre</text>
<text transform="translate(260.5 308.5) rotate(-64.6) translate(158.8 3.0)" font-size="24" fill="#231815">P16_post</text>
<text transform="translate(260.5 308.5) rotate(-60.5) translate(158.8 3.0)" font-size="24" fill="#231815">P16_pre</text>
<text transform="translate(260.5 308.5) rotate(-55.5) translate(158.8 3.0)" font-size="24" fill="#231815">P18_post</text>
<text transform="translate(260.5 308.5) rotate(-47.0) translate(158.8 3.0)" font-size="24" fill="#231815">P18_pre</text>
<text transform="translate(260.5 308.5) rotate(-35.5) translate(158.8 3.0)" font-size="24" fill="#231815">P19_post</text>
<text transform="translate(260.5 308.5) rotate(-21.7) translate(158.8 3.0)" font-size="24" fill="#231815">P19_pre</text>
<text transform="translate(260.5 308.5) rotate(-9.8) translate(158.8 3.0)" font-size="24" fill="#231815">P20_post</text>
<text transform="translate(260.5 308.5) rotate(-4.0) translate(158.8 3.0)" font-size="24" fill="#231815">P21_pre</text>
<text transform="translate(260.5 308.5) rotate(1.8) translate(158.8 3.0)" font-size="24" fill="#231815">P02_pre</text>
<text transform="translate(260.5 308.5) rotate(7.8) translate(158.8 3.0)" font-size="24" fill="#231815">P03_post</text>
<text transform="translate(260.5 308.5) rotate(29.3) translate(158.8 3.0)" font-size="24" fill="#231815">P03_pre</text>
<text transform="translate(260.5 308.5) rotate(65.8) translate(158.8 3.0)" font-size="24" fill="#231815">P04_post</text>
<text transform="translate(260.5 308.5) rotate(97.8) translate(158.8 3.0)" font-size="24" fill="#231815">P04_pre</text>
<text transform="translate(260.5 308.5) rotate(115.9) translate(158.8 3.0)" font-size="24" fill="#231815">P05_pre</text>
<text transform="translate(260.5 308.5) rotate(132.9) translate(158.8 3.0)" font-size="24" fill="#231815">P07_post</text>
<text transform="translate(260.5 308.5) rotate(166.8) translate(158.8 3.0)" font-size="24" fill="#231815">P07_pre</text>
<text transform="translate(260.5 308.5) rotate(195.5) translate(158.8 3.0)" font-size="24" fill="#231815">P08_post</text>
<text transform="translate(260.5 308.5) rotate(206.4) translate(158.8 3.0)" font-size="24" fill="#231815">P08_pre</text>
<text transform="translate(260.5 308.5) rotate(214.7) translate(158.8 3.0)" font-size="24" fill="#231815">P10_post</text>
<text transform="translate(260.5 308.5) rotate(227.9) translate(158.8 3.0)" font-size="24" fill="#231815">P10_pre</text>
<text transform="translate(260.5 308.5) rotate(238.4) translate(158.8 3.0)" font-size="24" fill="#231815">P11_post</text>
<text transform="translate(260.5 308.5) rotate(243.0) translate(158.8 3.0)" font-size="24" fill="#231815">P12_post</text>
<text transform="translate(260.5 308.5) rotate(250.3) translate(158.8 3.0)" font-size="24" fill="#231815">P14_post</text>
<text transform="translate(260.5 308.5) rotate(258.2) translate(158.8 3.0)" font-size="24" fill="#231815">P14_pre</text>
</g>
<g id="panel-b">
<text x="508.8" y="34.5" font-size="47" text-anchor="start" fill="#231815" >b</text>
<path d="M601.6 85.6L685.5 196.6" stroke="#1fb573" stroke-width="2.6" stroke-linecap="round" fill="none"/>
<circle cx="601.6" cy="85.6" r="2.3" fill="#1fb573"/><circle cx="685.5" cy="196.6" r="2.3" fill="#1fb573"/>
<path d="M601.6 158.7L685.5 224.1" stroke="#1fae96" stroke-width="2.6" stroke-linecap="round" fill="none"/>
<circle cx="601.6" cy="158.7" r="2.3" fill="#1fae96"/><circle cx="685.5" cy="224.1" r="2.3" fill="#1fae96"/>
<path d="M601.6 213.2L685.5 223.2" stroke="#2db84a" stroke-width="2.6" stroke-linecap="round" fill="none"/>
<circle cx="601.6" cy="213.2" r="2.3" fill="#2db84a"/><circle cx="685.5" cy="223.2" r="2.3" fill="#2db84a"/>
<path d="M601.6 214.5L685.5 229.9" stroke="#2a9fd8" stroke-width="2.6" stroke-linecap="round" fill="none"/>
<circle cx="601.6" cy="214.5" r="2.3" fill="#2a9fd8"/><circle cx="685.5" cy="229.9" r="2.3" fill="#2a9fd8"/>
<path d="M601.6 228.9L685.5 212.6" stroke="#2db84a" stroke-width="2.6" stroke-linecap="round" fill="none"/>
<circle cx="601.6" cy="228.9" r="2.3" fill="#2db84a"/><circle cx="685.5" cy="212.6" r="2.3" fill="#2db84a"/>
<path d="M601.6 224.1L685.5 227.0" stroke="#1fb5b8" stroke-width="2.6" stroke-linecap="round" fill="none"/>
<circle cx="601.6" cy="224.1" r="2.3" fill="#1fb5b8"/><circle cx="685.5" cy="227.0" r="2.3" fill="#1fb5b8"/>
<path d="M601.6 231.3L685.5 228.0" stroke="#d98e16" stroke-width="2.6" stroke-linecap="round" fill="none"/>
<circle cx="601.6" cy="231.3" r="2.3" fill="#d98e16"/><circle cx="685.5" cy="228.0" r="2.3" fill="#d98e16"/>
<path d="M601.6 230.5L685.5 223.2" stroke="#a8a61a" stroke-width="2.6" stroke-linecap="round" fill="none"/>
<circle cx="601.6" cy="230.5" r="2.3" fill="#a8a61a"/><circle cx="685.5" cy="223.2" r="2.3" fill="#a8a61a"/>
<path d="M601.6 229.9L685.5 228.0" stroke="#8e8acb" stroke-width="2.6" stroke-linecap="round" fill="none"/>
<circle cx="601.6" cy="229.9" r="2.3" fill="#8e8acb"/><circle cx="685.5" cy="228.0" r="2.3" fill="#8e8acb"/>
<path d="M601.6 228.0L685.5 230.5" stroke="#4a90d9" stroke-width="2.6" stroke-linecap="round" fill="none"/>
<circle cx="601.6" cy="228.0" r="2.3" fill="#4a90d9"/><circle cx="685.5" cy="230.5" r="2.3" fill="#4a90d9"/>
<path d="M601.6 228.0L685.5 221.3" stroke="#b872b8" stroke-width="3.2" stroke-linecap="round" fill="none"/>
<circle cx="601.6" cy="228.0" r="2.3" fill="#b872b8"/><circle cx="685.5" cy="221.3" r="2.3" fill="#b872b8"/>
<path d="M601.6 226.1L685.5 224.1" stroke="#e8649b" stroke-width="4" stroke-linecap="round" fill="none"/>
<circle cx="601.6" cy="226.1" r="2.3" fill="#e8649b"/><circle cx="685.5" cy="224.1" r="2.3" fill="#e8649b"/>
<path d="M601.6 229.3L685.5 227.4" stroke="#e8649b" stroke-width="4" stroke-linecap="round" fill="none"/>
<circle cx="601.6" cy="229.3" r="2.3" fill="#e8649b"/><circle cx="685.5" cy="227.4" r="2.3" fill="#e8649b"/>
<path d="M601.6 230.9L685.5 229.9" stroke="#e0559f" stroke-width="3" stroke-linecap="round" fill="none"/>
<circle cx="601.6" cy="230.9" r="2.3" fill="#e0559f"/><circle cx="685.5" cy="229.9" r="2.3" fill="#e0559f"/>
<path d="M585.4 78.9V238.6H700.9" stroke="#000" stroke-width="2.4" fill="none" stroke-linejoin="miter"/>
<line x1="577.9" y1="81.7" x2="585.4" y2="81.7" stroke="#1a1a1a" stroke-width="2.3" />
<text x="569.6" y="94.2" font-size="23" text-anchor="end" fill="#231815" >0.04</text>
<line x1="577.9" y1="231.3" x2="585.4" y2="231.3" stroke="#1a1a1a" stroke-width="2.3" />
<text x="569.6" y="243.3" font-size="23" text-anchor="end" fill="#231815" >0.00</text>
<text x="630.6" y="81.7" font-size="27.3" text-anchor="middle" fill="#231815" >P03</text>
<text x="592.9" y="265.5" font-size="24" text-anchor="middle" fill="#231815" >pre</text>
<text x="664.5" y="265.5" font-size="24" text-anchor="middle" fill="#231815" >post</text>
<path d="M789.8 111.6L874.6 93.3" stroke="#22b14c" stroke-width="2.6" stroke-linecap="round" fill="none"/>
<circle cx="789.8" cy="111.6" r="2.3" fill="#22b14c"/><circle cx="874.6" cy="93.3" r="2.3" fill="#22b14c"/>
<path d="M789.8 196.6L874.6 209.3" stroke="#c9a21a" stroke-width="2.6" stroke-linecap="round" fill="none"/>
<circle cx="789.8" cy="196.6" r="2.3" fill="#c9a21a"/><circle cx="874.6" cy="209.3" r="2.3" fill="#c9a21a"/>
<path d="M789.8 213.0L874.6 213.2" stroke="#78b02a" stroke-width="2.6" stroke-linecap="round" fill="none"/>
<circle cx="789.8" cy="213.0" r="2.3" fill="#78b02a"/><circle cx="874.6" cy="213.2" r="2.3" fill="#78b02a"/>
<path d="M789.8 223.2L874.6 225.5" stroke="#2db84a" stroke-width="2.6" stroke-linecap="round" fill="none"/>
<circle cx="789.8" cy="223.2" r="2.3" fill="#2db84a"/><circle cx="874.6" cy="225.5" r="2.3" fill="#2db84a"/>
<path d="M789.8 224.1L874.6 226.6" stroke="#22ab8c" stroke-width="2.6" stroke-linecap="round" fill="none"/>
<circle cx="789.8" cy="224.1" r="2.3" fill="#22ab8c"/><circle cx="874.6" cy="226.6" r="2.3" fill="#22ab8c"/>
<path d="M789.8 228.0L874.6 231.8" stroke="#8e8acb" stroke-width="2.6" stroke-linecap="round" fill="none"/>
<circle cx="789.8" cy="228.0" r="2.3" fill="#8e8acb"/><circle cx="874.6" cy="231.8" r="2.3" fill="#8e8acb"/>
<path d="M789.8 229.9L874.6 228.9" stroke="#2a9fd8" stroke-width="2.6" stroke-linecap="round" fill="none"/>
<circle cx="789.8" cy="229.9" r="2.3" fill="#2a9fd8"/><circle cx="874.6" cy="228.9" r="2.3" fill="#2a9fd8"/>
<path d="M789.8 226.1L874.6 228.0" stroke="#b872b8" stroke-width="3.5" stroke-linecap="round" fill="none"/>
<circle cx="789.8" cy="226.1" r="2.3" fill="#b872b8"/><circle cx="874.6" cy="228.0" r="2.3" fill="#b872b8"/>
<path d="M789.8 228.0L874.6 229.9" stroke="#e8649b" stroke-width="4.5" stroke-linecap="round" fill="none"/>
<circle cx="789.8" cy="228.0" r="2.3" fill="#e8649b"/><circle cx="874.6" cy="229.9" r="2.3" fill="#e8649b"/>
<path d="M789.8 230.9L874.6 230.9" stroke="#e8649b" stroke-width="4" stroke-linecap="round" fill="none"/>
<circle cx="789.8" cy="230.9" r="2.3" fill="#e8649b"/><circle cx="874.6" cy="230.9" r="2.3" fill="#e8649b"/>
<path d="M789.8 233.8L874.6 230.5" stroke="#ee7a68" stroke-width="3" stroke-linecap="round" fill="none"/>
<circle cx="789.8" cy="233.8" r="2.3" fill="#ee7a68"/><circle cx="874.6" cy="230.5" r="2.3" fill="#ee7a68"/>
<path d="M775.0 86.2V240.5H889.4" stroke="#000" stroke-width="2.4" fill="none" stroke-linejoin="miter"/>
<line x1="767.5" y1="125.6" x2="775.0" y2="125.6" stroke="#1a1a1a" stroke-width="2.3" />
<text x="759.6" y="137.5" font-size="23" text-anchor="end" fill="#231815" >0.02</text>
<line x1="767.5" y1="235.7" x2="775.0" y2="235.7" stroke="#1a1a1a" stroke-width="2.3" />
<text x="759.6" y="244.8" font-size="23" text-anchor="end" fill="#231815" >0.00</text>
<text x="825.8" y="81.7" font-size="27.3" text-anchor="middle" fill="#231815" >P04</text>
<text x="789.6" y="265.5" font-size="24" text-anchor="middle" fill="#231815" >pre</text>
<text x="862.3" y="265.5" font-size="24" text-anchor="middle" fill="#231815" >post</text>
<path d="M975.6 101.0L1060.5 95.6" stroke="#2a9fd8" stroke-width="2.6" stroke-linecap="round" fill="none"/>
<circle cx="975.6" cy="101.0" r="2.3" fill="#2a9fd8"/><circle cx="1060.5" cy="95.6" r="2.3" fill="#2a9fd8"/>
<path d="M975.6 205.5L1060.5 175.5" stroke="#4a90d9" stroke-width="2.6" stroke-linecap="round" fill="none"/>
<circle cx="975.6" cy="205.5" r="2.3" fill="#4a90d9"/><circle cx="1060.5" cy="175.5" r="2.3" fill="#4a90d9"/>
<path d="M975.6 204.9L1060.5 198.2" stroke="#22b0d8" stroke-width="2.6" stroke-linecap="round" fill="none"/>
<circle cx="975.6" cy="204.9" r="2.3" fill="#22b0d8"/><circle cx="1060.5" cy="198.2" r="2.3" fill="#22b0d8"/>
<path d="M975.6 192.4L1060.5 211.6" stroke="#b872b8" stroke-width="2.6" stroke-linecap="round" fill="none"/>
<circle cx="975.6" cy="192.4" r="2.3" fill="#b872b8"/><circle cx="1060.5" cy="211.6" r="2.3" fill="#b872b8"/>
<path d="M975.6 208.2L1060.5 221.3" stroke="#22ab8c" stroke-width="2.6" stroke-linecap="round" fill="none"/>
<circle cx="975.6" cy="208.2" r="2.3" fill="#22ab8c"/><circle cx="1060.5" cy="221.3" r="2.3" fill="#22ab8c"/>
<path d="M975.6 209.7L1060.5 226.1" stroke="#8e8acb" stroke-width="2.6" stroke-linecap="round" fill="none"/>
<circle cx="975.6" cy="209.7" r="2.3" fill="#8e8acb"/><circle cx="1060.5" cy="226.1" r="2.3" fill="#8e8acb"/>
<path d="M975.6 222.2L1060.5 229.9" stroke="#d98e16" stroke-width="3" stroke-linecap="round" fill="none"/>
<circle cx="975.6" cy="222.2" r="2.3" fill="#d98e16"/><circle cx="1060.5" cy="229.9" r="2.3" fill="#d98e16"/>
<path d="M975.6 226.1L1060.5 228.0" stroke="#2db84a" stroke-width="3" stroke-linecap="round" fill="none"/>
<circle cx="975.6" cy="226.1" r="2.3" fill="#2db84a"/><circle cx="1060.5" cy="228.0" r="2.3" fill="#2db84a"/>
<path d="M975.6 228.0L1060.5 230.9" stroke="#a8a61a" stroke-width="2.6" stroke-linecap="round" fill="none"/>
<circle cx="975.6" cy="228.0" r="2.3" fill="#a8a61a"/><circle cx="1060.5" cy="230.9" r="2.3" fill="#a8a61a"/>
<path d="M975.6 230.9L1060.5 231.8" stroke="#22b07a" stroke-width="2.6" stroke-linecap="round" fill="none"/>
<circle cx="975.6" cy="230.9" r="2.3" fill="#22b07a"/><circle cx="1060.5" cy="231.8" r="2.3" fill="#22b07a"/>
<path d="M975.6 228.9L1060.5 230.9" stroke="#b872b8" stroke-width="3.5" stroke-linecap="round" fill="none"/>
<circle cx="975.6" cy="228.9" r="2.3" fill="#b872b8"/><circle cx="1060.5" cy="230.9" r="2.3" fill="#b872b8"/>
<path d="M975.6 231.8L1060.5 232.8" stroke="#e8649b" stroke-width="5" stroke-linecap="round" fill="none"/>
<circle cx="975.6" cy="231.8" r="2.3" fill="#e8649b"/><circle cx="1060.5" cy="232.8" r="2.3" fill="#e8649b"/>
<path d="M975.6 234.3L1060.5 234.3" stroke="#e8649b" stroke-width="4" stroke-linecap="round" fill="none"/>
<circle cx="975.6" cy="234.3" r="2.3" fill="#e8649b"/><circle cx="1060.5" cy="234.3" r="2.3" fill="#e8649b"/>
<path d="M975.6 234.7L1060.5 235.7" stroke="#1fb5b8" stroke-width="2.5" stroke-linecap="round" fill="none"/>
<circle cx="975.6" cy="234.7" r="2.3" fill="#1fb5b8"/><circle cx="1060.5" cy="235.7" r="2.3" fill="#1fb5b8"/>
<path d="M961.2 89.1V242.4H1075.9" stroke="#000" stroke-width="2.4" fill="none" stroke-linejoin="miter"/>
<line x1="953.7" y1="117.7" x2="961.2" y2="117.7" stroke="#1a1a1a" stroke-width="2.3" />
<text x="942.0" y="126.9" font-size="23" text-anchor="end" fill="#231815" >0.04</text>
<line x1="953.7" y1="239.5" x2="961.2" y2="239.5" stroke="#1a1a1a" stroke-width="2.3" />
<text x="942.0" y="247.7" font-size="23" text-anchor="end" fill="#231815" >0.00</text>
<text x="1026.0" y="81.7" font-size="27.3" text-anchor="middle" fill="#231815" >P07</text>
<text x="972.4" y="265.5" font-size="24" text-anchor="middle" fill="#231815" >pre</text>
<text x="1049.1" y="265.5" font-size="24" text-anchor="middle" fill="#231815" >post</text>
<path d="M1194.3 98.1L1278.5 106.4" stroke="#78b02a" stroke-width="2.6" stroke-linecap="round" fill="none"/>
<circle cx="1194.3" cy="98.1" r="2.3" fill="#78b02a"/><circle cx="1278.5" cy="106.4" r="2.3" fill="#78b02a"/>
<path d="M1194.3 210.7L1278.5 209.3" stroke="#8e8acb" stroke-width="2.6" stroke-linecap="round" fill="none"/>
<circle cx="1194.3" cy="210.7" r="2.3" fill="#8e8acb"/><circle cx="1278.5" cy="209.3" r="2.3" fill="#8e8acb"/>
<path d="M1194.3 220.3L1278.5 226.1" stroke="#d98e16" stroke-width="3" stroke-linecap="round" fill="none"/>
<circle cx="1194.3" cy="220.3" r="2.3" fill="#d98e16"/><circle cx="1278.5" cy="226.1" r="2.3" fill="#d98e16"/>
<path d="M1194.3 226.1L1278.5 222.6" stroke="#a87fc8" stroke-width="3" stroke-linecap="round" fill="none"/>
<circle cx="1194.3" cy="226.1" r="2.3" fill="#a87fc8"/><circle cx="1278.5" cy="222.6" r="2.3" fill="#a87fc8"/>
<path d="M1194.3 233.8L1278.5 234.3" stroke="#2db84a" stroke-width="2.6" stroke-linecap="round" fill="none"/>
<circle cx="1194.3" cy="233.8" r="2.3" fill="#2db84a"/><circle cx="1278.5" cy="234.3" r="2.3" fill="#2db84a"/>
<path d="M1194.3 236.6L1278.5 236.3" stroke="#a8a61a" stroke-width="2.6" stroke-linecap="round" fill="none"/>
<circle cx="1194.3" cy="236.6" r="2.3" fill="#a8a61a"/><circle cx="1278.5" cy="236.3" r="2.3" fill="#a8a61a"/>
<path d="M1194.3 235.1L1278.5 233.8" stroke="#e8649b" stroke-width="5" stroke-linecap="round" fill="none"/>
<circle cx="1194.3" cy="235.1" r="2.3" fill="#e8649b"/><circle cx="1278.5" cy="233.8" r="2.3" fill="#e8649b"/>
<path d="M1194.3 236.3L1278.5 235.7" stroke="#e8649b" stroke-width="4" stroke-linecap="round" fill="none"/>
<circle cx="1194.3" cy="236.3" r="2.3" fill="#e8649b"/><circle cx="1278.5" cy="235.7" r="2.3" fill="#e8649b"/>
<path d="M1178.5 91.0V242.4H1293.4" stroke="#000" stroke-width="2.4" fill="none" stroke-linejoin="miter"/>
<line x1="1171.0" y1="91.4" x2="1178.5" y2="91.4" stroke="#1a1a1a" stroke-width="2.3" />
<text x="1165.4" y="103.4" font-size="23" text-anchor="end" fill="#231815" >0.6</text>
<line x1="1171.0" y1="236.3" x2="1178.5" y2="236.3" stroke="#1a1a1a" stroke-width="2.3" />
<text x="1165.4" y="247.7" font-size="23" text-anchor="end" fill="#231815" >0.0</text>
<text x="1231.6" y="81.7" font-size="27.3" text-anchor="middle" fill="#231815" >P08</text>
<text x="1189.1" y="265.5" font-size="24" text-anchor="middle" fill="#231815" >pre</text>
<text x="1265.8" y="265.5" font-size="24" text-anchor="middle" fill="#231815" >post</text>
<path d="M1379.9 178.0L1464.6 101.6" stroke="#78b02a" stroke-width="2.6" stroke-linecap="round" fill="none"/>
<circle cx="1379.9" cy="178.0" r="2.3" fill="#78b02a"/><circle cx="1464.6" cy="101.6" r="2.3" fill="#78b02a"/>
<path d="M1379.9 209.7L1464.6 159.7" stroke="#c9a21a" stroke-width="2.6" stroke-linecap="round" fill="none"/>
<circle cx="1379.9" cy="209.7" r="2.3" fill="#c9a21a"/><circle cx="1464.6" cy="159.7" r="2.3" fill="#c9a21a"/>
<path d="M1379.9 220.3L1464.6 156.4" stroke="#22b07a" stroke-width="2.6" stroke-linecap="round" fill="none"/>
<circle cx="1379.9" cy="220.3" r="2.3" fill="#22b07a"/><circle cx="1464.6" cy="156.4" r="2.3" fill="#22b07a"/>
<path d="M1379.9 137.0L1464.6 195.3" stroke="#8e8acb" stroke-width="2.6" stroke-linecap="round" fill="none"/>
<circle cx="1379.9" cy="137.0" r="2.3" fill="#8e8acb"/><circle cx="1464.6" cy="195.3" r="2.3" fill="#8e8acb"/>
<path d="M1379.9 168.9L1464.6 184.7" stroke="#a87fc8" stroke-width="2.6" stroke-linecap="round" fill="none"/>
<circle cx="1379.9" cy="168.9" r="2.3" fill="#a87fc8"/><circle cx="1464.6" cy="184.7" r="2.3" fill="#a87fc8"/>
<path d="M1379.9 178.0L1464.6 187.6" stroke="#a8a61a" stroke-width="3" stroke-linecap="round" fill="none"/>
<circle cx="1379.9" cy="178.0" r="2.3" fill="#a8a61a"/><circle cx="1464.6" cy="187.6" r="2.3" fill="#a8a61a"/>
<path d="M1379.9 231.8L1464.6 181.8" stroke="#22b0d8" stroke-width="2.6" stroke-linecap="round" fill="none"/>
<circle cx="1379.9" cy="231.8" r="2.3" fill="#22b0d8"/><circle cx="1464.6" cy="181.8" r="2.3" fill="#22b0d8"/>
<path d="M1379.9 185.7L1464.6 197.2" stroke="#b872b8" stroke-width="2.6" stroke-linecap="round" fill="none"/>
<circle cx="1379.9" cy="185.7" r="2.3" fill="#b872b8"/><circle cx="1464.6" cy="197.2" r="2.3" fill="#b872b8"/>
<path d="M1379.9 213.6L1464.6 210.1" stroke="#4a90d9" stroke-width="2.6" stroke-linecap="round" fill="none"/>
<circle cx="1379.9" cy="213.6" r="2.3" fill="#4a90d9"/><circle cx="1464.6" cy="210.1" r="2.3" fill="#4a90d9"/>
<path d="M1379.9 215.1L1464.6 230.9" stroke="#2db84a" stroke-width="3" stroke-linecap="round" fill="none"/>
<circle cx="1379.9" cy="215.1" r="2.3" fill="#2db84a"/><circle cx="1464.6" cy="230.9" r="2.3" fill="#2db84a"/>
<path d="M1379.9 226.1L1464.6 231.8" stroke="#22b14c" stroke-width="3" stroke-linecap="round" fill="none"/>
<circle cx="1379.9" cy="226.1" r="2.3" fill="#22b14c"/><circle cx="1464.6" cy="231.8" r="2.3" fill="#22b14c"/>
<path d="M1379.9 208.7L1464.6 197.2" stroke="#e8649b" stroke-width="3" stroke-linecap="round" fill="none"/>
<circle cx="1379.9" cy="208.7" r="2.3" fill="#e8649b"/><circle cx="1464.6" cy="197.2" r="2.3" fill="#e8649b"/>
<path d="M1379.9 213.6L1464.6 221.3" stroke="#e8649b" stroke-width="4.5" stroke-linecap="round" fill="none"/>
<circle cx="1379.9" cy="213.6" r="2.3" fill="#e8649b"/><circle cx="1464.6" cy="221.3" r="2.3" fill="#e8649b"/>
<path d="M1379.9 229.9L1464.6 234.7" stroke="#d98e16" stroke-width="2.6" stroke-linecap="round" fill="none"/>
<circle cx="1379.9" cy="229.9" r="2.3" fill="#d98e16"/><circle cx="1464.6" cy="234.7" r="2.3" fill="#d98e16"/>
<path d="M1379.9 233.8L1464.6 235.1" stroke="#ee7a68" stroke-width="2.6" stroke-linecap="round" fill="none"/>
<circle cx="1379.9" cy="233.8" r="2.3" fill="#ee7a68"/><circle cx="1464.6" cy="235.1" r="2.3" fill="#ee7a68"/>
<path d="M1379.9 232.8L1464.6 228.0" stroke="#2a9fd8" stroke-width="4" stroke-linecap="round" fill="none"/>
<circle cx="1379.9" cy="232.8" r="2.3" fill="#2a9fd8"/><circle cx="1464.6" cy="228.0" r="2.3" fill="#2a9fd8"/>
<path d="M1379.9 235.7L1464.6 232.8" stroke="#22b0d8" stroke-width="3" stroke-linecap="round" fill="none"/>
<circle cx="1379.9" cy="235.7" r="2.3" fill="#22b0d8"/><circle cx="1464.6" cy="232.8" r="2.3" fill="#22b0d8"/>
<path d="M1379.9 239.5L1464.6 236.6" stroke="#1fb5b8" stroke-width="3.5" stroke-linecap="round" fill="none"/>
<circle cx="1379.9" cy="239.5" r="2.3" fill="#1fb5b8"/><circle cx="1464.6" cy="236.6" r="2.3" fill="#1fb5b8"/>
<path d="M1364.2 94.6V246.3H1480.0" stroke="#000" stroke-width="2.4" fill="none" stroke-linejoin="miter"/>
<line x1="1356.7" y1="95.2" x2="1364.2" y2="95.2" stroke="#1a1a1a" stroke-width="2.3" />
<text x="1347.8" y="107.7" font-size="23" text-anchor="end" fill="#231815" >0.03</text>
<text x="1347.8" y="248.7" font-size="23" text-anchor="end" fill="#231815" >0.00</text>
<text x="1422.7" y="81.7" font-size="27.3" text-anchor="middle" fill="#231815" >P10</text>
<text x="1375.5" y="265.5" font-size="24" text-anchor="middle" fill="#231815" >pre</text>
<text x="1452.5" y="265.5" font-size="24" text-anchor="middle" fill="#231815" >post</text>
<path d="M608.5 360.0L695.5 396.6" stroke="#1fb5b8" stroke-width="2.6" stroke-linecap="round" fill="none"/>
<circle cx="608.5" cy="360.0" r="2.3" fill="#1fb5b8"/><circle cx="695.5" cy="396.6" r="2.3" fill="#1fb5b8"/>
<path d="M608.5 456.6L695.5 414.7" stroke="#8e8acb" stroke-width="2.6" stroke-linecap="round" fill="none"/>
<circle cx="608.5" cy="456.6" r="2.3" fill="#8e8acb"/><circle cx="695.5" cy="414.7" r="2.3" fill="#8e8acb"/>
<path d="M608.5 465.9L695.5 482.6" stroke="#a8a61a" stroke-width="3" stroke-linecap="round" fill="none"/>
<circle cx="608.5" cy="465.9" r="2.3" fill="#a8a61a"/><circle cx="695.5" cy="482.6" r="2.3" fill="#a8a61a"/>
<path d="M608.5 480.7L695.5 479.3" stroke="#78b02a" stroke-width="3" stroke-linecap="round" fill="none"/>
<circle cx="608.5" cy="480.7" r="2.3" fill="#78b02a"/><circle cx="695.5" cy="479.3" r="2.3" fill="#78b02a"/>
<path d="M608.5 487.4L695.5 481.2" stroke="#22ab8c" stroke-width="3" stroke-linecap="round" fill="none"/>
<circle cx="608.5" cy="487.4" r="2.3" fill="#22ab8c"/><circle cx="695.5" cy="481.2" r="2.3" fill="#22ab8c"/>
<path d="M608.5 492.2L695.5 498.6" stroke="#2db84a" stroke-width="2.6" stroke-linecap="round" fill="none"/>
<circle cx="608.5" cy="492.2" r="2.3" fill="#2db84a"/><circle cx="695.5" cy="498.6" r="2.3" fill="#2db84a"/>
<path d="M608.5 491.3L695.5 490.3" stroke="#2a9fd8" stroke-width="3.5" stroke-linecap="round" fill="none"/>
<circle cx="608.5" cy="491.3" r="2.3" fill="#2a9fd8"/><circle cx="695.5" cy="490.3" r="2.3" fill="#2a9fd8"/>
<path d="M608.5 489.3L695.5 491.3" stroke="#22b0d8" stroke-width="3" stroke-linecap="round" fill="none"/>
<circle cx="608.5" cy="489.3" r="2.3" fill="#22b0d8"/><circle cx="695.5" cy="491.3" r="2.3" fill="#22b0d8"/>
<path d="M608.5 494.1L695.5 495.1" stroke="#d98e16" stroke-width="2.6" stroke-linecap="round" fill="none"/>
<circle cx="608.5" cy="494.1" r="2.3" fill="#d98e16"/><circle cx="695.5" cy="495.1" r="2.3" fill="#d98e16"/>
<path d="M608.5 488.9L695.5 494.1" stroke="#b872b8" stroke-width="3.5" stroke-linecap="round" fill="none"/>
<circle cx="608.5" cy="488.9" r="2.3" fill="#b872b8"/><circle cx="695.5" cy="494.1" r="2.3" fill="#b872b8"/>
<path d="M608.5 493.2L695.5 498.9" stroke="#22b07a" stroke-width="2.6" stroke-linecap="round" fill="none"/>
<circle cx="608.5" cy="493.2" r="2.3" fill="#22b07a"/><circle cx="695.5" cy="498.9" r="2.3" fill="#22b07a"/>
<path d="M608.5 496.1L695.5 495.5" stroke="#e8649b" stroke-width="4" stroke-linecap="round" fill="none"/>
<circle cx="608.5" cy="496.1" r="2.3" fill="#e8649b"/><circle cx="695.5" cy="495.5" r="2.3" fill="#e8649b"/>
<path d="M608.5 498.0L695.5 497.0" stroke="#e8649b" stroke-width="3.5" stroke-linecap="round" fill="none"/>
<circle cx="608.5" cy="498.0" r="2.3" fill="#e8649b"/><circle cx="695.5" cy="497.0" r="2.3" fill="#e8649b"/>
<path d="M590.6 353.7V505.7H701.8" stroke="#000" stroke-width="2.4" fill="none" stroke-linejoin="miter"/>
<line x1="583.1" y1="393.1" x2="590.6" y2="393.1" stroke="#1a1a1a" stroke-width="2.3" />
<text x="572.0" y="406.1" font-size="23" text-anchor="end" fill="#231815" >0.10</text>
<line x1="583.1" y1="499.3" x2="590.6" y2="499.3" stroke="#1a1a1a" stroke-width="2.3" />
<text x="572.0" y="510.0" font-size="23" text-anchor="end" fill="#231815" >0.00</text>
<text x="640.6" y="341.2" font-size="27.3" text-anchor="middle" fill="#231815" >P14</text>
<text x="607.6" y="529.7" font-size="24" text-anchor="middle" fill="#231815" >pre</text>
<text x="692.2" y="529.7" font-size="24" text-anchor="middle" fill="#231815" >post</text>
<path d="M791.7 433.9L876.4 361.9" stroke="#c9a21a" stroke-width="2.8" stroke-linecap="round" fill="none"/>
<circle cx="791.7" cy="433.9" r="2.3" fill="#c9a21a"/><circle cx="876.4" cy="361.9" r="2.3" fill="#c9a21a"/>
<path d="M791.7 403.1L876.4 439.7" stroke="#22b14c" stroke-width="2.8" stroke-linecap="round" fill="none"/>
<circle cx="791.7" cy="403.1" r="2.3" fill="#22b14c"/><circle cx="876.4" cy="439.7" r="2.3" fill="#22b14c"/>
<path d="M791.7 446.0L876.4 411.4" stroke="#a87fc8" stroke-width="2.8" stroke-linecap="round" fill="none"/>
<circle cx="791.7" cy="446.0" r="2.3" fill="#a87fc8"/><circle cx="876.4" cy="411.4" r="2.3" fill="#a87fc8"/>
<path d="M791.7 457.0L876.4 454.1" stroke="#8e8acb" stroke-width="2.8" stroke-linecap="round" fill="none"/>
<circle cx="791.7" cy="457.0" r="2.3" fill="#8e8acb"/><circle cx="876.4" cy="454.1" r="2.3" fill="#8e8acb"/>
<path d="M791.7 466.2L876.4 452.4" stroke="#22b07a" stroke-width="2.6" stroke-linecap="round" fill="none"/>
<circle cx="791.7" cy="466.2" r="2.3" fill="#22b07a"/><circle cx="876.4" cy="452.4" r="2.3" fill="#22b07a"/>
<path d="M791.7 462.4L876.4 467.6" stroke="#22ab8c" stroke-width="2.8" stroke-linecap="round" fill="none"/>
<circle cx="791.7" cy="462.4" r="2.3" fill="#22ab8c"/><circle cx="876.4" cy="467.6" r="2.3" fill="#22ab8c"/>
<path d="M791.7 468.2L876.4 476.8" stroke="#ee7a68" stroke-width="2.6" stroke-linecap="round" fill="none"/>
<circle cx="791.7" cy="468.2" r="2.3" fill="#ee7a68"/><circle cx="876.4" cy="476.8" r="2.3" fill="#ee7a68"/>
<path d="M791.7 472.0L876.4 478.2" stroke="#2a9fd8" stroke-width="3" stroke-linecap="round" fill="none"/>
<circle cx="791.7" cy="472.0" r="2.3" fill="#2a9fd8"/><circle cx="876.4" cy="478.2" r="2.3" fill="#2a9fd8"/>
<path d="M791.7 458.9L876.4 489.3" stroke="#22b0d8" stroke-width="3" stroke-linecap="round" fill="none"/>
<circle cx="791.7" cy="458.9" r="2.3" fill="#22b0d8"/><circle cx="876.4" cy="489.3" r="2.3" fill="#22b0d8"/>
<path d="M791.7 475.5L876.4 493.2" stroke="#4a90d9" stroke-width="3" stroke-linecap="round" fill="none"/>
<circle cx="791.7" cy="475.5" r="2.3" fill="#4a90d9"/><circle cx="876.4" cy="493.2" r="2.3" fill="#4a90d9"/>
<path d="M791.7 461.4L876.4 491.3" stroke="#1fb5b8" stroke-width="2.6" stroke-linecap="round" fill="none"/>
<circle cx="791.7" cy="461.4" r="2.3" fill="#1fb5b8"/><circle cx="876.4" cy="491.3" r="2.3" fill="#1fb5b8"/>
<path d="M791.7 481.6L876.4 489.7" stroke="#d98e16" stroke-width="2.6" stroke-linecap="round" fill="none"/>
<circle cx="791.7" cy="481.6" r="2.3" fill="#d98e16"/><circle cx="876.4" cy="489.7" r="2.3" fill="#d98e16"/>
<path d="M791.7 484.5L876.4 499.9" stroke="#a8a61a" stroke-width="3" stroke-linecap="round" fill="none"/>
<circle cx="791.7" cy="484.5" r="2.3" fill="#a8a61a"/><circle cx="876.4" cy="499.9" r="2.3" fill="#a8a61a"/>
<path d="M791.7 490.3L876.4 494.1" stroke="#2db84a" stroke-width="3" stroke-linecap="round" fill="none"/>
<circle cx="791.7" cy="490.3" r="2.3" fill="#2db84a"/><circle cx="876.4" cy="494.1" r="2.3" fill="#2db84a"/>
<path d="M791.7 492.2L876.4 500.9" stroke="#78b02a" stroke-width="3" stroke-linecap="round" fill="none"/>
<circle cx="791.7" cy="492.2" r="2.3" fill="#78b02a"/><circle cx="876.4" cy="500.9" r="2.3" fill="#78b02a"/>
<path d="M791.7 496.1L876.4 489.3" stroke="#e8863a" stroke-width="3" stroke-linecap="round" fill="none"/>
<circle cx="791.7" cy="496.1" r="2.3" fill="#e8863a"/><circle cx="876.4" cy="489.3" r="2.3" fill="#e8863a"/>
<path d="M791.7 449.3L876.4 485.5" stroke="#b872b8" stroke-width="3" stroke-linecap="round" fill="none"/>
<circle cx="791.7" cy="449.3" r="2.3" fill="#b872b8"/><circle cx="876.4" cy="485.5" r="2.3" fill="#b872b8"/>
<path d="M791.7 483.2L876.4 494.1" stroke="#b872b8" stroke-width="3.5" stroke-linecap="round" fill="none"/>
<circle cx="791.7" cy="483.2" r="2.3" fill="#b872b8"/><circle cx="876.4" cy="494.1" r="2.3" fill="#b872b8"/>
<path d="M791.7 466.6L876.4 492.2" stroke="#e8649b" stroke-width="3.5" stroke-linecap="round" fill="none"/>
<circle cx="791.7" cy="466.6" r="2.3" fill="#e8649b"/><circle cx="876.4" cy="492.2" r="2.3" fill="#e8649b"/>
<path d="M791.7 404.7L876.4 485.5" stroke="#e0559f" stroke-width="2.8" stroke-linecap="round" fill="none"/>
<circle cx="791.7" cy="404.7" r="2.3" fill="#e0559f"/><circle cx="876.4" cy="485.5" r="2.3" fill="#e0559f"/>
<circle cx="881.4" cy="479.1" r="2.1" fill="#ee7a68"/>
<circle cx="881.4" cy="500.9" r="2.1" fill="#4a90d9"/>
<path d="M776.5 355.2V507.2H890.4" stroke="#000" stroke-width="2.4" fill="none" stroke-linejoin="miter"/>
<line x1="769.0" y1="388.7" x2="776.5" y2="388.7" stroke="#1a1a1a" stroke-width="2.3" />
<text x="758.6" y="400.4" font-size="23" text-anchor="end" fill="#231815" >0.015</text>
<line x1="769.0" y1="506.6" x2="776.5" y2="506.6" stroke="#1a1a1a" stroke-width="2.3" />
<text x="758.6" y="512.0" font-size="23" text-anchor="end" fill="#231815" >0.000</text>
<text x="840.0" y="341.2" font-size="27.3" text-anchor="middle" fill="#231815" >P15</text>
<text x="793.0" y="529.7" font-size="24" text-anchor="middle" fill="#231815" >pre</text>
<text x="869.2" y="529.7" font-size="24" text-anchor="middle" fill="#231815" >post</text>
<path d="M979.7 362.3L1064.3 438.7" stroke="#8e8acb" stroke-width="2.6" stroke-linecap="round" fill="none"/>
<circle cx="979.7" cy="362.3" r="2.3" fill="#8e8acb"/><circle cx="1064.3" cy="438.7" r="2.3" fill="#8e8acb"/>
<path d="M979.7 445.1L1064.3 411.4" stroke="#e0559f" stroke-width="2.6" stroke-linecap="round" fill="none"/>
<circle cx="979.7" cy="445.1" r="2.3" fill="#e0559f"/><circle cx="1064.3" cy="411.4" r="2.3" fill="#e0559f"/>
<path d="M979.7 491.3L1064.3 469.5" stroke="#22b0d8" stroke-width="3" stroke-linecap="round" fill="none"/>
<circle cx="979.7" cy="491.3" r="2.3" fill="#22b0d8"/><circle cx="1064.3" cy="469.5" r="2.3" fill="#22b0d8"/>
<path d="M979.7 488.9L1064.3 490.3" stroke="#22b14c" stroke-width="3" stroke-linecap="round" fill="none"/>
<circle cx="979.7" cy="488.9" r="2.3" fill="#22b14c"/><circle cx="1064.3" cy="490.3" r="2.3" fill="#22b14c"/>
<path d="M979.7 492.2L1064.3 496.1" stroke="#22b07a" stroke-width="3" stroke-linecap="round" fill="none"/>
<circle cx="979.7" cy="492.2" r="2.3" fill="#22b07a"/><circle cx="1064.3" cy="496.1" r="2.3" fill="#22b07a"/>
<path d="M979.7 486.4L1064.3 492.2" stroke="#a87fc8" stroke-width="3" stroke-linecap="round" fill="none"/>
<circle cx="979.7" cy="486.4" r="2.3" fill="#a87fc8"/><circle cx="1064.3" cy="492.2" r="2.3" fill="#a87fc8"/>
<path d="M979.7 494.1L1064.3 474.5" stroke="#b872b8" stroke-width="3" stroke-linecap="round" fill="none"/>
<circle cx="979.7" cy="494.1" r="2.3" fill="#b872b8"/><circle cx="1064.3" cy="474.5" r="2.3" fill="#b872b8"/>
<path d="M979.7 496.1L1064.3 497.0" stroke="#22ab8c" stroke-width="3.5" stroke-linecap="round" fill="none"/>
<circle cx="979.7" cy="496.1" r="2.3" fill="#22ab8c"/><circle cx="1064.3" cy="497.0" r="2.3" fill="#22ab8c"/>
<path d="M979.7 498.0L1064.3 498.9" stroke="#1fb5b8" stroke-width="3" stroke-linecap="round" fill="none"/>
<circle cx="979.7" cy="498.0" r="2.3" fill="#1fb5b8"/><circle cx="1064.3" cy="498.9" r="2.3" fill="#1fb5b8"/>
<path d="M979.7 498.9L1064.3 493.2" stroke="#8e8acb" stroke-width="3" stroke-linecap="round" fill="none"/>
<circle cx="979.7" cy="498.9" r="2.3" fill="#8e8acb"/><circle cx="1064.3" cy="493.2" r="2.3" fill="#8e8acb"/>
<path d="M979.7 497.0L1064.3 498.0" stroke="#a8a61a" stroke-width="2.6" stroke-linecap="round" fill="none"/>
<circle cx="979.7" cy="497.0" r="2.3" fill="#a8a61a"/><circle cx="1064.3" cy="498.0" r="2.3" fill="#a8a61a"/>
<path d="M979.7 500.9L1064.3 500.9" stroke="#e8649b" stroke-width="4" stroke-linecap="round" fill="none"/>
<circle cx="979.7" cy="500.9" r="2.3" fill="#e8649b"/><circle cx="1064.3" cy="500.9" r="2.3" fill="#e8649b"/>
<path d="M979.7 501.8L1064.3 501.3" stroke="#ee7a68" stroke-width="3.5" stroke-linecap="round" fill="none"/>
<circle cx="979.7" cy="501.8" r="2.3" fill="#ee7a68"/><circle cx="1064.3" cy="501.3" r="2.3" fill="#ee7a68"/>
<path d="M964.7 355.6V508.6H1079.2" stroke="#000" stroke-width="2.4" fill="none" stroke-linejoin="miter"/>
<line x1="957.2" y1="378.3" x2="964.7" y2="378.3" stroke="#1a1a1a" stroke-width="2.3" />
<text x="946.4" y="385.9" font-size="23" text-anchor="end" fill="#231815" >0.20</text>
<line x1="957.2" y1="503.8" x2="964.7" y2="503.8" stroke="#1a1a1a" stroke-width="2.3" />
<text x="946.4" y="510.0" font-size="23" text-anchor="end" fill="#231815" >0.00</text>
<text x="1019.7" y="341.2" font-size="27.3" text-anchor="middle" fill="#231815" >P16</text>
<text x="979.3" y="529.7" font-size="24" text-anchor="middle" fill="#231815" >pre</text>
<text x="1056.1" y="529.7" font-size="24" text-anchor="middle" fill="#231815" >post</text>
<path d="M1199.5 423.5L1284.1 362.7" stroke="#1fb5b8" stroke-width="2.6" stroke-linecap="round" fill="none"/>
<circle cx="1199.5" cy="423.5" r="2.3" fill="#1fb5b8"/><circle cx="1284.1" cy="362.7" r="2.3" fill="#1fb5b8"/>
<path d="M1199.5 465.3L1284.1 445.5" stroke="#a8a61a" stroke-width="3" stroke-linecap="round" fill="none"/>
<circle cx="1199.5" cy="465.3" r="2.3" fill="#a8a61a"/><circle cx="1284.1" cy="445.5" r="2.3" fill="#a8a61a"/>
<path d="M1199.5 474.5L1284.1 472.0" stroke="#22b14c" stroke-width="3" stroke-linecap="round" fill="none"/>
<circle cx="1199.5" cy="474.5" r="2.3" fill="#22b14c"/><circle cx="1284.1" cy="472.0" r="2.3" fill="#22b14c"/>
<path d="M1199.5 492.2L1284.1 482.6" stroke="#d98e16" stroke-width="3" stroke-linecap="round" fill="none"/>
<circle cx="1199.5" cy="492.2" r="2.3" fill="#d98e16"/><circle cx="1284.1" cy="482.6" r="2.3" fill="#d98e16"/>
<path d="M1199.5 494.1L1284.1 494.1" stroke="#22ab8c" stroke-width="3" stroke-linecap="round" fill="none"/>
<circle cx="1199.5" cy="494.1" r="2.3" fill="#22ab8c"/><circle cx="1284.1" cy="494.1" r="2.3" fill="#22ab8c"/>
<path d="M1199.5 485.5L1284.1 489.3" stroke="#22b0d8" stroke-width="3" stroke-linecap="round" fill="none"/>
<circle cx="1199.5" cy="485.5" r="2.3" fill="#22b0d8"/><circle cx="1284.1" cy="489.3" r="2.3" fill="#22b0d8"/>
<path d="M1199.5 494.1L1284.1 500.9" stroke="#78b02a" stroke-width="3" stroke-linecap="round" fill="none"/>
<circle cx="1199.5" cy="494.1" r="2.3" fill="#78b02a"/><circle cx="1284.1" cy="500.9" r="2.3" fill="#78b02a"/>
<path d="M1199.5 496.1L1284.1 498.0" stroke="#22b07a" stroke-width="3" stroke-linecap="round" fill="none"/>
<circle cx="1199.5" cy="496.1" r="2.3" fill="#22b07a"/><circle cx="1284.1" cy="498.0" r="2.3" fill="#22b07a"/>
<path d="M1199.5 497.0L1284.1 471.0" stroke="#2a9fd8" stroke-width="3" stroke-linecap="round" fill="none"/>
<circle cx="1199.5" cy="497.0" r="2.3" fill="#2a9fd8"/><circle cx="1284.1" cy="471.0" r="2.3" fill="#2a9fd8"/>
<path d="M1199.5 498.6L1284.1 472.0" stroke="#4a90d9" stroke-width="3" stroke-linecap="round" fill="none"/>
<circle cx="1199.5" cy="498.6" r="2.3" fill="#4a90d9"/><circle cx="1284.1" cy="472.0" r="2.3" fill="#4a90d9"/>
<path d="M1199.5 496.1L1284.1 463.4" stroke="#8e8acb" stroke-width="3" stroke-linecap="round" fill="none"/>
<circle cx="1199.5" cy="496.1" r="2.3" fill="#8e8acb"/><circle cx="1284.1" cy="463.4" r="2.3" fill="#8e8acb"/>
<path d="M1199.5 489.3L1284.1 457.0" stroke="#a87fc8" stroke-width="3" stroke-linecap="round" fill="none"/>
<circle cx="1199.5" cy="489.3" r="2.3" fill="#a87fc8"/><circle cx="1284.1" cy="457.0" r="2.3" fill="#a87fc8"/>
<path d="M1199.5 483.2L1284.1 432.9" stroke="#b872b8" stroke-width="3" stroke-linecap="round" fill="none"/>
<circle cx="1199.5" cy="483.2" r="2.3" fill="#b872b8"/><circle cx="1284.1" cy="432.9" r="2.3" fill="#b872b8"/>
<path d="M1199.5 499.9L1284.1 487.4" stroke="#e8863a" stroke-width="2.6" stroke-linecap="round" fill="none"/>
<circle cx="1199.5" cy="499.9" r="2.3" fill="#e8863a"/><circle cx="1284.1" cy="487.4" r="2.3" fill="#e8863a"/>
<path d="M1199.5 500.5L1284.1 491.6" stroke="#ee7a68" stroke-width="2.6" stroke-linecap="round" fill="none"/>
<circle cx="1199.5" cy="500.5" r="2.3" fill="#ee7a68"/><circle cx="1284.1" cy="491.6" r="2.3" fill="#ee7a68"/>
<path d="M1199.5 498.9L1284.1 496.1" stroke="#e8649b" stroke-width="3.5" stroke-linecap="round" fill="none"/>
<circle cx="1199.5" cy="498.9" r="2.3" fill="#e8649b"/><circle cx="1284.1" cy="496.1" r="2.3" fill="#e8649b"/>
<path d="M1199.5 480.7L1284.1 499.9" stroke="#e8649b" stroke-width="4" stroke-linecap="round" fill="none"/>
<circle cx="1199.5" cy="480.7" r="2.3" fill="#e8649b"/><circle cx="1284.1" cy="499.9" r="2.3" fill="#e8649b"/>
<path d="M1183.3 355.6V507.2H1298.7" stroke="#000" stroke-width="2.4" fill="none" stroke-linejoin="miter"/>
<line x1="1175.8" y1="356.6" x2="1183.3" y2="356.6" stroke="#1a1a1a" stroke-width="2.3" />
<text x="1162.9" y="369.6" font-size="23" text-anchor="end" fill="#231815" >0.0125</text>
<line x1="1175.8" y1="501.8" x2="1183.3" y2="501.8" stroke="#1a1a1a" stroke-width="2.3" />
<text x="1162.9" y="512.0" font-size="23" text-anchor="end" fill="#231815" >0.0000</text>
<text x="1245.2" y="341.2" font-size="27.3" text-anchor="middle" fill="#231815" >P18</text>
<text x="1198.5" y="529.7" font-size="24" text-anchor="middle" fill="#231815" >pre</text>
<text x="1275.1" y="529.7" font-size="24" text-anchor="middle" fill="#231815" >post</text>
<path d="M1385.3 414.7L1470.0 360.4" stroke="#22b598" stroke-width="2.8" stroke-linecap="round" fill="none"/>
<circle cx="1385.3" cy="414.7" r="2.3" fill="#22b598"/><circle cx="1470.0" cy="360.4" r="2.3" fill="#22b598"/>
<path d="M1385.3 461.8L1470.0 418.7" stroke="#d9900f" stroke-width="3" stroke-linecap="round" fill="none"/>
<circle cx="1385.3" cy="461.8" r="2.3" fill="#d9900f"/><circle cx="1470.0" cy="418.7" r="2.3" fill="#d9900f"/>
<path d="M1385.3 476.2L1470.0 437.4" stroke="#ee7a68" stroke-width="3" stroke-linecap="round" fill="none"/>
<circle cx="1385.3" cy="476.2" r="2.3" fill="#ee7a68"/><circle cx="1470.0" cy="437.4" r="2.3" fill="#ee7a68"/>
<path d="M1385.3 488.4L1470.0 469.1" stroke="#1fb5b8" stroke-width="3" stroke-linecap="round" fill="none"/>
<circle cx="1385.3" cy="488.4" r="2.3" fill="#1fb5b8"/><circle cx="1470.0" cy="469.1" r="2.3" fill="#1fb5b8"/>
<path d="M1385.3 481.6L1470.0 467.8" stroke="#e8649b" stroke-width="3.5" stroke-linecap="round" fill="none"/>
<circle cx="1385.3" cy="481.6" r="2.3" fill="#e8649b"/><circle cx="1470.0" cy="467.8" r="2.3" fill="#e8649b"/>
<path d="M1385.3 494.1L1470.0 480.1" stroke="#4a90d9" stroke-width="3.5" stroke-linecap="round" fill="none"/>
<circle cx="1385.3" cy="494.1" r="2.3" fill="#4a90d9"/><circle cx="1470.0" cy="480.1" r="2.3" fill="#4a90d9"/>
<path d="M1385.3 489.3L1470.0 485.5" stroke="#a8a61a" stroke-width="3" stroke-linecap="round" fill="none"/>
<circle cx="1385.3" cy="489.3" r="2.3" fill="#a8a61a"/><circle cx="1470.0" cy="485.5" r="2.3" fill="#a8a61a"/>
<path d="M1385.3 496.1L1470.0 485.1" stroke="#22b07a" stroke-width="3" stroke-linecap="round" fill="none"/>
<circle cx="1385.3" cy="496.1" r="2.3" fill="#22b07a"/><circle cx="1470.0" cy="485.1" r="2.3" fill="#22b07a"/>
<path d="M1385.3 489.3L1470.0 483.6" stroke="#a87fc8" stroke-width="4.5" stroke-linecap="round" fill="none"/>
<circle cx="1385.3" cy="489.3" r="2.3" fill="#a87fc8"/><circle cx="1470.0" cy="483.6" r="2.3" fill="#a87fc8"/>
<path d="M1385.3 493.2L1470.0 494.7" stroke="#c9a21a" stroke-width="3" stroke-linecap="round" fill="none"/>
<circle cx="1385.3" cy="493.2" r="2.3" fill="#c9a21a"/><circle cx="1470.0" cy="494.7" r="2.3" fill="#c9a21a"/>
<path d="M1385.3 497.0L1470.0 494.7" stroke="#e8863a" stroke-width="3" stroke-linecap="round" fill="none"/>
<circle cx="1385.3" cy="497.0" r="2.3" fill="#e8863a"/><circle cx="1470.0" cy="494.7" r="2.3" fill="#e8863a"/>
<path d="M1385.3 498.0L1470.0 497.0" stroke="#2db84a" stroke-width="3" stroke-linecap="round" fill="none"/>
<circle cx="1385.3" cy="498.0" r="2.3" fill="#2db84a"/><circle cx="1470.0" cy="497.0" r="2.3" fill="#2db84a"/>
<path d="M1385.3 495.5L1470.0 498.0" stroke="#2a9fd8" stroke-width="3" stroke-linecap="round" fill="none"/>
<circle cx="1385.3" cy="495.5" r="2.3" fill="#2a9fd8"/><circle cx="1470.0" cy="498.0" r="2.3" fill="#2a9fd8"/>
<path d="M1385.3 498.6L1470.0 498.6" stroke="#e0559f" stroke-width="3" stroke-linecap="round" fill="none"/>
<circle cx="1385.3" cy="498.6" r="2.3" fill="#e0559f"/><circle cx="1470.0" cy="498.6" r="2.3" fill="#e0559f"/>
<path d="M1385.3 499.7L1470.0 499.7" stroke="#e8649b" stroke-width="4.5" stroke-linecap="round" fill="none"/>
<circle cx="1385.3" cy="499.7" r="2.3" fill="#e8649b"/><circle cx="1470.0" cy="499.7" r="2.3" fill="#e8649b"/>
<path d="M1370.3 354.3V506.6H1485.2" stroke="#000" stroke-width="2.4" fill="none" stroke-linejoin="miter"/>
<line x1="1362.8" y1="388.7" x2="1370.3" y2="388.7" stroke="#1a1a1a" stroke-width="2.3" />
<text x="1353.0" y="401.3" font-size="23" text-anchor="end" fill="#231815" >0.06</text>
<line x1="1362.8" y1="500.9" x2="1370.3" y2="500.9" stroke="#1a1a1a" stroke-width="2.3" />
<text x="1353.0" y="512.0" font-size="23" text-anchor="end" fill="#231815" >0.00</text>
<text x="1427.1" y="341.2" font-size="27.3" text-anchor="middle" fill="#231815" >P19</text>
<text x="1384.2" y="529.7" font-size="24" text-anchor="middle" fill="#231815" >pre</text>
<text x="1460.9" y="529.7" font-size="24" text-anchor="middle" fill="#231815" >post</text>
<rect x="1087.5" y="515.8" width="2.2" height="1.2" fill="#555"/>
<rect x="1458.8" y="511.5" width="1.6" height="1.2" fill="#555"/>
</g>
<g id="panel-c">
<text x="1470.1" y="34.5" font-size="47" text-anchor="start" fill="#231815" >c</text>
<polygon points="1629.2,333.1 1658.3,319.9 1691.3,299.1 1724.4,275.9 1757.4,250.5 1790.5,219.8 1823.5,185.1 1856.6,147.1 1890.6,106.4 1890.6,320.6 1856.6,331.5 1823.5,343.7 1790.5,357.6 1757.4,375.1 1724.4,397.6 1691.3,426.3 1658.3,462.0 1629.2,501.7" fill="#f5afc3"/>
<line x1="1629.2" y1="417.1" x2="1890.6" y2="217.1" stroke="#e6396b" stroke-width="2.2" />
<line x1="1636.1" y1="304.0" x2="1636.1" y2="360.2" stroke="#231815" stroke-width="2.3" />
<line x1="1683.1" y1="340.4" x2="1649.4" y2="382.7" stroke="#231815" stroke-width="2.3" />
<line x1="1702.9" y1="383.3" x2="1659.9" y2="409.8" stroke="#231815" stroke-width="2.3" />
<line x1="1721.1" y1="431.3" x2="1678.1" y2="424.7" stroke="#231815" stroke-width="2.3" />
<line x1="1727.7" y1="467.6" x2="1635.1" y2="426.3" stroke="#231815" stroke-width="2.3" />
<circle cx="1844.3" cy="52.9" r="8.8" fill="#e6396b"/>
<circle cx="1890.6" cy="273.3" r="8.8" fill="#e6396b"/>
<circle cx="1822.9" cy="299.4" r="8.8" fill="#e6396b"/>
<circle cx="1877.1" cy="311.3" r="8.8" fill="#e6396b"/>
<circle cx="1635.1" cy="365.8" r="8.8" fill="#e6396b"/>
<circle cx="1640.4" cy="390.0" r="8.8" fill="#e6396b"/>
<circle cx="1648.4" cy="414.1" r="8.8" fill="#e6396b"/>
<circle cx="1629.2" cy="418.7" r="8.8" fill="#e6396b"/>
<circle cx="1667.2" cy="424.0" r="8.8" fill="#e6396b"/>
<circle cx="1635.1" cy="457.0" r="8.8" fill="#e6396b"/>
<path d="M1616.3 31.4V522.1H1902.8" stroke="#000" stroke-width="2.8" fill="none"/>
<line x1="1608.3" y1="107.7" x2="1616.3" y2="107.7" stroke="#1a1a1a" stroke-width="2.4" />
<text x="1597.1" y="117.9" font-size="23.7" text-anchor="end" fill="#231815" >0.10</text>
<line x1="1608.3" y1="236.0" x2="1616.3" y2="236.0" stroke="#1a1a1a" stroke-width="2.4" />
<text x="1597.1" y="246.2" font-size="23.7" text-anchor="end" fill="#231815" >0.05</text>
<line x1="1608.3" y1="364.5" x2="1616.3" y2="364.5" stroke="#1a1a1a" stroke-width="2.4" />
<text x="1597.1" y="374.7" font-size="23.7" text-anchor="end" fill="#231815" >0.00</text>
<line x1="1608.3" y1="493.1" x2="1616.3" y2="493.1" stroke="#1a1a1a" stroke-width="2.4" />
<text x="1597.1" y="503.3" font-size="23.7" text-anchor="end" fill="#231815" >−0.05</text>
<line x1="1620.9" y1="522.1" x2="1620.9" y2="530.6" stroke="#1a1a1a" stroke-width="2.4" />
<text x="1618.9" y="559.5" font-size="23.5" text-anchor="middle" fill="#231815" >0</text>
<line x1="1688.7" y1="522.1" x2="1688.7" y2="530.6" stroke="#1a1a1a" stroke-width="2.4" />
<text x="1689.7" y="559.5" font-size="23.5" text-anchor="middle" fill="#231815" >25</text>
<line x1="1755.8" y1="522.1" x2="1755.8" y2="530.6" stroke="#1a1a1a" stroke-width="2.4" />
<text x="1756.8" y="559.5" font-size="23.5" text-anchor="middle" fill="#231815" >50</text>
<line x1="1822.9" y1="522.1" x2="1822.9" y2="530.6" stroke="#1a1a1a" stroke-width="2.4" />
<text x="1823.9" y="559.5" font-size="23.5" text-anchor="middle" fill="#231815" >75</text>
<line x1="1890.3" y1="522.1" x2="1890.3" y2="530.6" stroke="#1a1a1a" stroke-width="2.4" />
<text x="1895.3" y="559.5" font-size="23.5" text-anchor="middle" fill="#231815" >100</text>
<text x="1769.0" y="584.8" font-size="28" text-anchor="middle" fill="#231815" >Pathological regression (%)</text>
<text transform="translate(1539.6 230.6) rotate(-90)" font-size="28.5" letter-spacing="-2.35" text-anchor="middle" fill="#231815">CE Score</text>
<text x="1625.2" y="48.9" font-size="23.6" text-anchor="start" fill="#231815" >Rho = 0.72</text>
<text x="1625.2" y="81.0" font-size="23.6" text-anchor="start" fill="#231815" >P = 0.024</text>
<text x="1850.1" y="64.2" font-size="24.5" text-anchor="start" fill="#231815" >P19</text>
<text x="1861.7" y="257.8" font-size="24.5" text-anchor="start" fill="#231815" >P16</text>
<text x="1793.9" y="338.8" font-size="24.5" text-anchor="start" fill="#231815" >P10</text>
<text x="1856.1" y="347.0" font-size="24.5" text-anchor="start" fill="#231815" >P18</text>
<text x="1620.4" y="296.5" font-size="24.5" text-anchor="start" fill="#231815" >P04</text>
<text x="1665.7" y="332.8" font-size="24.5" text-anchor="start" fill="#231815" >P07</text>
<text x="1700.4" y="396.3" font-size="24.5" text-anchor="start" fill="#231815" >P08</text>
<text x="1727.8" y="441.2" font-size="24.5" text-anchor="start" fill="#231815" >P14</text>
<text x="1724.5" y="478.9" font-size="24.5" text-anchor="start" fill="#231815" >P15</text>
<text x="1627.7" y="493.1" font-size="24.5" text-anchor="start" fill="#231815" >P03</text>
<rect x="1949.5" y="245.6" width="3" height="1.2" fill="#555"/>
</g>
<g id="panel-d">
<text x="-0.7" y="655.3" font-size="47" text-anchor="start" fill="#231815" >d</text>
<text x="342.5" y="686.5" font-size="25.6" text-anchor="middle" fill="#231815" >non-PPR+</text>
<text x="815.3" y="687.0" font-size="25.6" text-anchor="middle" fill="#231815" >PPR+</text>
<path d="M73.4 732.8H1020.8V1045.8" stroke="#ececec" stroke-width="1.2" fill="none"/>
<path d="M73.4 1040.4H1020.8" stroke="#cfcfcf" stroke-width="1.4" fill="none"/>
<line x1="120.8" y1="1040.4" x2="120.8" y2="1046.3" stroke="#d4d4d4" stroke-width="1.2" />
<line x1="168.2" y1="1040.4" x2="168.2" y2="1046.3" stroke="#d4d4d4" stroke-width="1.2" />
<line x1="215.6" y1="1040.4" x2="215.6" y2="1046.3" stroke="#d4d4d4" stroke-width="1.2" />
<line x1="263.0" y1="1040.4" x2="263.0" y2="1046.3" stroke="#d4d4d4" stroke-width="1.2" />
<line x1="310.4" y1="1040.4" x2="310.4" y2="1046.3" stroke="#d4d4d4" stroke-width="1.2" />
<line x1="357.8" y1="1040.4" x2="357.8" y2="1046.3" stroke="#d4d4d4" stroke-width="1.2" />
<line x1="405.2" y1="1040.4" x2="405.2" y2="1046.3" stroke="#d4d4d4" stroke-width="1.2" />
<line x1="452.6" y1="1040.4" x2="452.6" y2="1046.3" stroke="#d4d4d4" stroke-width="1.2" />
<line x1="500.0" y1="1040.4" x2="500.0" y2="1046.3" stroke="#d4d4d4" stroke-width="1.2" />
<line x1="547.4" y1="1040.4" x2="547.4" y2="1046.3" stroke="#d4d4d4" stroke-width="1.2" />
<line x1="594.8" y1="1040.4" x2="594.8" y2="1046.3" stroke="#d4d4d4" stroke-width="1.2" />
<line x1="642.2" y1="1040.4" x2="642.2" y2="1046.3" stroke="#d4d4d4" stroke-width="1.2" />
<line x1="689.6" y1="1040.4" x2="689.6" y2="1046.3" stroke="#d4d4d4" stroke-width="1.2" />
<line x1="737.0" y1="1040.4" x2="737.0" y2="1046.3" stroke="#d4d4d4" stroke-width="1.2" />
<line x1="784.4" y1="1040.4" x2="784.4" y2="1046.3" stroke="#d4d4d4" stroke-width="1.2" />
<line x1="831.8" y1="1040.4" x2="831.8" y2="1046.3" stroke="#d4d4d4" stroke-width="1.2" />
<line x1="879.2" y1="1040.4" x2="879.2" y2="1046.3" stroke="#d4d4d4" stroke-width="1.2" />
<line x1="926.6" y1="1040.4" x2="926.6" y2="1046.3" stroke="#d4d4d4" stroke-width="1.2" />
<line x1="974.0" y1="1040.4" x2="974.0" y2="1046.3" stroke="#d4d4d4" stroke-width="1.2" />
<line x1="1021.4" y1="1040.4" x2="1021.4" y2="1046.3" stroke="#d4d4d4" stroke-width="1.2" />
<rect x="87.2" y="732.8" width="18.9" height="17.9" fill="#cb3130"/>
<rect x="87.2" y="750.4" width="18.9" height="9.6" fill="#e88524"/>
<rect x="87.2" y="759.7" width="18.9" height="111.0" fill="#3f8c69"/>
<rect x="87.2" y="870.4" width="18.9" height="169.7" fill="#3e627d"/>
<rect x="134.6" y="732.8" width="18.9" height="181.1" fill="#e88524"/>
<rect x="134.6" y="913.7" width="18.9" height="118.4" fill="#3f8c69"/>
<rect x="134.6" y="1031.7" width="18.9" height="8.3" fill="#3e627d"/>
<rect x="182.0" y="732.8" width="18.9" height="6.5" fill="#cb3130"/>
<rect x="182.0" y="739.0" width="18.9" height="10.2" fill="#e88524"/>
<rect x="182.0" y="748.9" width="18.9" height="194.4" fill="#3f8c69"/>
<rect x="182.0" y="943.0" width="18.9" height="97.1" fill="#3e627d"/>
<rect x="229.4" y="732.8" width="18.9" height="7.4" fill="#cb3130"/>
<rect x="229.4" y="739.9" width="18.9" height="9.3" fill="#e88524"/>
<rect x="229.4" y="748.9" width="18.9" height="144.3" fill="#3f8c69"/>
<rect x="229.4" y="893.0" width="18.9" height="147.1" fill="#3e627d"/>
<rect x="276.8" y="732.8" width="18.9" height="25.0" fill="#cb3130"/>
<rect x="276.8" y="757.6" width="18.9" height="27.5" fill="#e88524"/>
<rect x="276.8" y="784.8" width="18.9" height="71.4" fill="#3f8c69"/>
<rect x="276.8" y="855.9" width="18.9" height="184.2" fill="#3e627d"/>
<rect x="324.2" y="732.8" width="18.9" height="25.0" fill="#cb3130"/>
<rect x="324.2" y="757.6" width="18.9" height="23.8" fill="#e88524"/>
<rect x="324.2" y="781.1" width="18.9" height="187.6" fill="#3f8c69"/>
<rect x="324.2" y="968.4" width="18.9" height="71.7" fill="#3e627d"/>
<rect x="371.6" y="732.8" width="18.9" height="243.6" fill="#cb3130"/>
<rect x="371.6" y="976.1" width="18.9" height="14.2" fill="#e88524"/>
<rect x="371.6" y="990.0" width="18.9" height="32.1" fill="#3f8c69"/>
<rect x="371.6" y="1021.9" width="18.9" height="18.2" fill="#3e627d"/>
<rect x="419.0" y="732.8" width="18.9" height="236.8" fill="#cb3130"/>
<rect x="419.0" y="969.3" width="18.9" height="17.3" fill="#e88524"/>
<rect x="419.0" y="986.3" width="18.9" height="12.0" fill="#3f8c69"/>
<rect x="419.0" y="998.1" width="18.9" height="42.0" fill="#3e627d"/>
<rect x="466.4" y="732.8" width="18.9" height="73.9" fill="#cb3130"/>
<rect x="466.4" y="806.4" width="18.9" height="98.9" fill="#e88524"/>
<rect x="466.4" y="905.0" width="18.9" height="121.8" fill="#3f8c69"/>
<rect x="466.4" y="1026.5" width="18.9" height="13.6" fill="#3e627d"/>
<rect x="513.8" y="732.8" width="18.9" height="69.2" fill="#cb3130"/>
<rect x="513.8" y="801.8" width="18.9" height="40.5" fill="#e88524"/>
<rect x="513.8" y="841.9" width="18.9" height="163.8" fill="#3f8c69"/>
<rect x="513.8" y="1005.5" width="18.9" height="34.6" fill="#3e627d"/>
<rect x="561.2" y="732.8" width="18.9" height="12.4" fill="#cb3130"/>
<rect x="561.2" y="744.9" width="18.9" height="34.3" fill="#e88524"/>
<rect x="561.2" y="778.9" width="18.9" height="174.6" fill="#3f8c69"/>
<rect x="561.2" y="953.2" width="18.9" height="86.9" fill="#3e627d"/>
<rect x="608.6" y="732.8" width="18.9" height="17.9" fill="#cb3130"/>
<rect x="608.6" y="750.4" width="18.9" height="43.6" fill="#e88524"/>
<rect x="608.6" y="793.7" width="18.9" height="218.2" fill="#3f8c69"/>
<rect x="608.6" y="1011.7" width="18.9" height="28.4" fill="#3e627d"/>
<rect x="656.0" y="732.8" width="18.9" height="23.5" fill="#cb3130"/>
<rect x="656.0" y="756.0" width="18.9" height="34.9" fill="#e88524"/>
<rect x="656.0" y="790.6" width="18.9" height="182.4" fill="#3f8c69"/>
<rect x="656.0" y="972.7" width="18.9" height="67.4" fill="#3e627d"/>
<rect x="703.4" y="732.8" width="18.9" height="42.0" fill="#cb3130"/>
<rect x="703.4" y="774.6" width="18.9" height="48.2" fill="#e88524"/>
<rect x="703.4" y="822.5" width="18.9" height="184.2" fill="#3f8c69"/>
<rect x="703.4" y="1006.4" width="18.9" height="33.7" fill="#3e627d"/>
<rect x="750.8" y="732.8" width="18.9" height="125.5" fill="#cb3130"/>
<rect x="750.8" y="858.0" width="18.9" height="51.3" fill="#e88524"/>
<rect x="750.8" y="909.0" width="18.9" height="109.4" fill="#3f8c69"/>
<rect x="750.8" y="1018.1" width="18.9" height="21.9" fill="#3e627d"/>
<rect x="798.2" y="732.8" width="18.9" height="213.9" fill="#cb3130"/>
<rect x="798.2" y="946.4" width="18.9" height="87.5" fill="#e88524"/>
<rect x="798.2" y="1033.6" width="18.9" height="6.5" fill="#3f8c69"/>
<rect x="845.6" y="732.8" width="18.9" height="15.4" fill="#e88524"/>
<rect x="845.6" y="748.0" width="18.9" height="232.8" fill="#3f8c69"/>
<rect x="845.6" y="980.4" width="18.9" height="59.7" fill="#3e627d"/>
<rect x="893.0" y="732.8" width="18.9" height="6.5" fill="#cb3130"/>
<rect x="893.0" y="739.0" width="18.9" height="207.7" fill="#e88524"/>
<rect x="893.0" y="946.4" width="18.9" height="87.5" fill="#3f8c69"/>
<rect x="893.0" y="1033.6" width="18.9" height="6.5" fill="#3e627d"/>
<rect x="940.4" y="732.8" width="18.9" height="28.1" fill="#cb3130"/>
<rect x="940.4" y="760.6" width="18.9" height="14.5" fill="#e88524"/>
<rect x="940.4" y="774.9" width="18.9" height="173.1" fill="#3f8c69"/>
<rect x="940.4" y="947.7" width="18.9" height="92.4" fill="#3e627d"/>
<rect x="987.8" y="732.8" width="18.9" height="61.5" fill="#cb3130"/>
<rect x="987.8" y="794.0" width="18.9" height="41.4" fill="#e88524"/>
<rect x="987.8" y="835.1" width="18.9" height="179.0" fill="#3f8c69"/>
<rect x="987.8" y="1013.8" width="18.9" height="26.3" fill="#3e627d"/>
<line x1="106.1" y1="734.3" x2="134.6" y2="734.3" stroke="#6e6866" stroke-width="1.7" />
<line x1="106.1" y1="751.2" x2="134.6" y2="733.6" stroke="#1a1a1a" stroke-width="1.2" />
<line x1="200.9" y1="734.3" x2="229.4" y2="734.3" stroke="#6e6866" stroke-width="1.7" />
<line x1="200.9" y1="739.8" x2="229.4" y2="740.7" stroke="#1a1a1a" stroke-width="1.2" />
<line x1="295.7" y1="734.3" x2="324.2" y2="734.3" stroke="#6e6866" stroke-width="1.7" />
<line x1="295.7" y1="758.4" x2="324.2" y2="758.4" stroke="#1a1a1a" stroke-width="1.2" />
<line x1="390.5" y1="734.3" x2="419.0" y2="734.3" stroke="#6e6866" stroke-width="1.7" />
<line x1="390.5" y1="976.9" x2="419.0" y2="970.1" stroke="#1a1a1a" stroke-width="1.2" />
<line x1="485.3" y1="734.3" x2="513.8" y2="734.3" stroke="#6e6866" stroke-width="1.7" />
<line x1="485.3" y1="807.2" x2="513.8" y2="802.6" stroke="#1a1a1a" stroke-width="1.2" />
<line x1="580.1" y1="734.3" x2="608.6" y2="734.3" stroke="#6e6866" stroke-width="1.7" />
<line x1="580.1" y1="745.7" x2="608.6" y2="751.2" stroke="#1a1a1a" stroke-width="1.2" />
<line x1="674.9" y1="734.3" x2="703.4" y2="734.3" stroke="#6e6866" stroke-width="1.7" />
<line x1="674.9" y1="756.8" x2="703.4" y2="775.4" stroke="#1a1a1a" stroke-width="1.2" />
<line x1="769.7" y1="734.3" x2="798.2" y2="734.3" stroke="#6e6866" stroke-width="1.7" />
<line x1="769.7" y1="858.8" x2="798.2" y2="947.2" stroke="#1a1a1a" stroke-width="1.2" />
<line x1="864.5" y1="734.3" x2="893.0" y2="734.3" stroke="#6e6866" stroke-width="1.7" />
<line x1="864.5" y1="733.6" x2="893.0" y2="739.8" stroke="#1a1a1a" stroke-width="1.2" />
<line x1="959.3" y1="734.3" x2="987.8" y2="734.3" stroke="#6e6866" stroke-width="1.7" />
<line x1="959.3" y1="761.4" x2="987.8" y2="794.8" stroke="#1a1a1a" stroke-width="1.2" />
<text x="72.7" y="740.3" font-size="23.5" text-anchor="end" fill="#231815" >100%</text>
<text x="70.8" y="801.8" font-size="23.5" text-anchor="end" fill="#231815" >80%</text>
<text x="74.0" y="860.3" font-size="23.5" text-anchor="end" fill="#231815" >60%</text>
<text x="75.2" y="925.0" font-size="23.5" text-anchor="end" fill="#231815" >40%</text>
<text x="74.0" y="987.0" font-size="23.5" text-anchor="end" fill="#231815" >20%</text>
<text x="77.5" y="1042.7" font-size="23.5" text-anchor="end" fill="#231815" >0%</text>
<text transform="translate(100.2 1063.0) rotate(-56)" font-size="23.5" text-anchor="end" fill="#231815">P03_pre</text>
<text transform="translate(147.5 1063.0) rotate(-56)" font-size="23.5" text-anchor="end" fill="#231815">P03_post</text>
<text transform="translate(194.9 1063.0) rotate(-56)" font-size="23.5" text-anchor="end" fill="#231815">P04_pre</text>
<text transform="translate(242.3 1063.0) rotate(-56)" font-size="23.5" text-anchor="end" fill="#231815">P04_post</text>
<text transform="translate(289.8 1063.0) rotate(-56)" font-size="23.5" text-anchor="end" fill="#231815">P07_pre</text>
<text transform="translate(337.1 1063.0) rotate(-56)" font-size="23.5" text-anchor="end" fill="#231815">P07_post</text>
<text transform="translate(384.5 1063.0) rotate(-56)" font-size="23.5" text-anchor="end" fill="#231815">P08_pre</text>
<text transform="translate(431.9 1063.0) rotate(-56)" font-size="23.5" text-anchor="end" fill="#231815">P08_post</text>
<text transform="translate(479.3 1063.0) rotate(-56)" font-size="23.5" text-anchor="end" fill="#231815">P14_pre</text>
<text transform="translate(526.8 1063.0) rotate(-56)" font-size="23.5" text-anchor="end" fill="#231815">P14_post</text>
<text transform="translate(574.2 1063.0) rotate(-56)" font-size="23.5" text-anchor="end" fill="#231815">P15_pre</text>
<text transform="translate(621.6 1063.0) rotate(-56)" font-size="23.5" text-anchor="end" fill="#231815">P15_post</text>
<text transform="translate(669.0 1063.0) rotate(-56)" font-size="23.5" text-anchor="end" fill="#231815">P10_pre</text>
<text transform="translate(716.4 1063.0) rotate(-56)" font-size="23.5" text-anchor="end" fill="#231815">P10_post</text>
<text transform="translate(763.8 1063.0) rotate(-56)" font-size="23.5" text-anchor="end" fill="#231815">P16_pre</text>
<text transform="translate(811.2 1063.0) rotate(-56)" font-size="23.5" text-anchor="end" fill="#231815">P16_post</text>
<text transform="translate(858.6 1063.0) rotate(-56)" font-size="23.5" text-anchor="end" fill="#231815">P18_pre</text>
<text transform="translate(906.0 1063.0) rotate(-56)" font-size="23.5" text-anchor="end" fill="#231815">P18_post</text>
<text transform="translate(953.4 1063.0) rotate(-56)" font-size="23.5" text-anchor="end" fill="#231815">P19_pre</text>
<text transform="translate(1000.8 1063.0) rotate(-56)" font-size="23.5" text-anchor="end" fill="#231815">P19_post</text>
<line x1="76.0" y1="708.4" x2="101.2" y2="708.4" stroke="#e60012" stroke-width="3" />
<line x1="148.2" y1="708.4" x2="194.6" y2="708.4" stroke="#e60012" stroke-width="3" />
<line x1="241.1" y1="708.4" x2="287.8" y2="708.4" stroke="#e60012" stroke-width="3" />
<line x1="334.3" y1="708.4" x2="381.0" y2="708.4" stroke="#e60012" stroke-width="3" />
<line x1="427.6" y1="708.4" x2="474.0" y2="708.4" stroke="#e60012" stroke-width="3" />
<line x1="521.0" y1="708.4" x2="567.0" y2="708.4" stroke="#e60012" stroke-width="3" />
<line x1="614.4" y1="708.4" x2="639.7" y2="708.4" stroke="#e60012" stroke-width="3" />
<line x1="76.0" y1="1047.5" x2="101.2" y2="1047.5" stroke="#e60012" stroke-width="3" />
<line x1="148.2" y1="1047.5" x2="194.6" y2="1047.5" stroke="#e60012" stroke-width="3" />
<line x1="241.1" y1="1047.5" x2="287.8" y2="1047.5" stroke="#e60012" stroke-width="3" />
<line x1="334.3" y1="1047.5" x2="381.0" y2="1047.5" stroke="#e60012" stroke-width="3" />
<line x1="427.6" y1="1047.5" x2="474.0" y2="1047.5" stroke="#e60012" stroke-width="3" />
<line x1="521.0" y1="1047.5" x2="567.0" y2="1047.5" stroke="#e60012" stroke-width="3" />
<line x1="614.4" y1="1047.5" x2="639.7" y2="1047.5" stroke="#e60012" stroke-width="3" />
<line x1="77.5" y1="706.9" x2="77.5" y2="731.5" stroke="#e60012" stroke-width="3" />
<line x1="77.5" y1="773.6" x2="77.5" y2="814.8" stroke="#e60012" stroke-width="3" />
<line x1="77.5" y1="856.5" x2="77.5" y2="897.3" stroke="#e60012" stroke-width="3" />
<line x1="77.5" y1="940.0" x2="77.5" y2="981.0" stroke="#e60012" stroke-width="3" />
<line x1="77.5" y1="1022.8" x2="77.5" y2="1049.0" stroke="#e60012" stroke-width="3" />
<line x1="638.2" y1="706.9" x2="638.2" y2="731.5" stroke="#e60012" stroke-width="3" />
<line x1="638.2" y1="773.6" x2="638.2" y2="814.8" stroke="#e60012" stroke-width="3" />
<line x1="638.2" y1="856.5" x2="638.2" y2="897.3" stroke="#e60012" stroke-width="3" />
<line x1="638.2" y1="940.0" x2="638.2" y2="981.0" stroke="#e60012" stroke-width="3" />
<line x1="638.2" y1="1022.8" x2="638.2" y2="1049.0" stroke="#e60012" stroke-width="3" />
<line x1="641.6" y1="706.5" x2="666.9" y2="706.5" stroke="#e60012" stroke-width="3" />
<line x1="713.3" y1="706.5" x2="759.0" y2="706.5" stroke="#e60012" stroke-width="3" />
<line x1="805.4" y1="706.5" x2="851.1" y2="706.5" stroke="#e60012" stroke-width="3" />
<line x1="897.8" y1="706.5" x2="943.6" y2="706.5" stroke="#e60012" stroke-width="3" />
<line x1="989.9" y1="706.5" x2="1015.2" y2="706.5" stroke="#e60012" stroke-width="3" />
<line x1="641.6" y1="1046.0" x2="666.9" y2="1046.0" stroke="#e60012" stroke-width="3" />
<line x1="713.3" y1="1046.0" x2="759.0" y2="1046.0" stroke="#e60012" stroke-width="3" />
<line x1="805.4" y1="1046.0" x2="851.1" y2="1046.0" stroke="#e60012" stroke-width="3" />
<line x1="897.8" y1="1046.0" x2="943.6" y2="1046.0" stroke="#e60012" stroke-width="3" />
<line x1="989.9" y1="1046.0" x2="1015.2" y2="1046.0" stroke="#e60012" stroke-width="3" />
<line x1="643.1" y1="705.0" x2="643.1" y2="730.0" stroke="#e60012" stroke-width="3" />
<line x1="643.1" y1="772.0" x2="643.1" y2="813.4" stroke="#e60012" stroke-width="3" />
<line x1="643.1" y1="854.9" x2="643.1" y2="895.9" stroke="#e60012" stroke-width="3" />
<line x1="643.1" y1="938.4" x2="643.1" y2="979.6" stroke="#e60012" stroke-width="3" />
<line x1="643.1" y1="1021.5" x2="643.1" y2="1047.5" stroke="#e60012" stroke-width="3" />
<line x1="1013.7" y1="705.0" x2="1013.7" y2="729.7" stroke="#e60012" stroke-width="3" />
<line x1="1013.7" y1="771.5" x2="1013.7" y2="813.2" stroke="#e60012" stroke-width="3" />
<line x1="1013.7" y1="854.9" x2="1013.7" y2="896.7" stroke="#e60012" stroke-width="3" />
<line x1="1013.7" y1="938.4" x2="1013.7" y2="980.1" stroke="#e60012" stroke-width="3" />
<line x1="1013.7" y1="1021.8" x2="1013.7" y2="1047.5" stroke="#e60012" stroke-width="3" />
<rect x="248.8" y="1161.0" width="14.8" height="14.8" fill="#417e9b"/>
<text x="267.6" y="1176.8" font-size="27.6" text-anchor="start" fill="#231815" >Small</text>
<rect x="357.0" y="1161.0" width="14.8" height="14.8" fill="#2a9d7f"/>
<text x="375.8" y="1176.8" font-size="27.6" text-anchor="start" fill="#231815" >Medium</text>
<rect x="497.0" y="1161.0" width="14.8" height="14.8" fill="#e89c3c"/>
<text x="515.8" y="1176.8" font-size="27.6" text-anchor="start" fill="#231815" >Large</text>
<rect x="602.0" y="1161.0" width="14.8" height="14.8" fill="#cc5a46"/>
<text x="620.8" y="1176.8" font-size="27.6" text-anchor="start" fill="#231815" >Hyperexpanded</text>
</g>
<g id="panel-e">
<text x="1019.5" y="655.3" font-size="47" text-anchor="start" fill="#231815" >e</text>
<line x1="1131.5" y1="714.9" x2="1216.3" y2="830.9" stroke="#bdbdbd" stroke-width="2.8" />
<line x1="1131.5" y1="758.2" x2="1216.3" y2="818.2" stroke="#bdbdbd" stroke-width="2.8" />
<line x1="1131.5" y1="773.4" x2="1216.3" y2="867.1" stroke="#bdbdbd" stroke-width="2.8" />
<line x1="1131.5" y1="838.5" x2="1216.3" y2="878.2" stroke="#bdbdbd" stroke-width="2.8" />
<circle cx="1131.5" cy="714.9" r="4.5" fill="#1d71b8"/>
<circle cx="1216.3" cy="830.9" r="4.5" fill="#e6b91e"/>
<circle cx="1131.5" cy="758.2" r="4.5" fill="#1d71b8"/>
<circle cx="1216.3" cy="818.2" r="4.5" fill="#e6b91e"/>
<circle cx="1131.5" cy="773.4" r="4.5" fill="#1d71b8"/>
<circle cx="1216.3" cy="867.1" r="4.5" fill="#e6b91e"/>
<circle cx="1131.5" cy="838.5" r="4.5" fill="#1d71b8"/>
<circle cx="1216.3" cy="878.2" r="4.5" fill="#e6b91e"/>
<path d="M1080.9 706.6V886.3H1267.0" stroke="#000" stroke-width="2.6" fill="none"/>
<line x1="1073.3" y1="711.1" x2="1080.9" y2="711.1" stroke="#1a1a1a" stroke-width="2.3" />
<text x="1064.4" y="719.2" font-size="22.7" text-anchor="end" fill="#231815" >0.3</text>
<line x1="1073.3" y1="766.8" x2="1080.9" y2="766.8" stroke="#1a1a1a" stroke-width="2.3" />
<text x="1064.4" y="774.9" font-size="22.7" text-anchor="end" fill="#231815" >0.2</text>
<line x1="1073.3" y1="822.5" x2="1080.9" y2="822.5" stroke="#1a1a1a" stroke-width="2.3" />
<text x="1064.4" y="830.6" font-size="22.7" text-anchor="end" fill="#231815" >0.1</text>
<line x1="1073.3" y1="878.2" x2="1080.9" y2="878.2" stroke="#1a1a1a" stroke-width="2.3" />
<text x="1064.4" y="886.3" font-size="22.7" text-anchor="end" fill="#231815" >0.0</text>
<line x1="1131.5" y1="886.3" x2="1131.5" y2="893.3" stroke="#1a1a1a" stroke-width="2.3" />
<line x1="1216.3" y1="886.3" x2="1216.3" y2="893.3" stroke="#1a1a1a" stroke-width="2.3" />
<text x="1131.5" y="909.4" font-size="23.5" text-anchor="middle" fill="#231815" >pre</text>
<text x="1218.9" y="909.4" font-size="23.5" text-anchor="middle" fill="#231815" >post</text>
<text x="1149.2" y="725.1" font-size="23.5" fill="#231815"><tspan font-style="italic">p</tspan>=0.010</text>
<text x="1179.1" y="686.3" font-size="27" text-anchor="middle" fill="#231815" >Small</text>
<line x1="1367.5" y1="716.2" x2="1452.3" y2="821.3" stroke="#bdbdbd" stroke-width="2.8" />
<line x1="1367.5" y1="752.2" x2="1452.3" y2="750.9" stroke="#bdbdbd" stroke-width="2.8" />
<line x1="1367.5" y1="758.7" x2="1452.3" y2="755.4" stroke="#bdbdbd" stroke-width="2.8" />
<line x1="1367.5" y1="805.3" x2="1452.3" y2="879.7" stroke="#bdbdbd" stroke-width="2.8" />
<circle cx="1367.5" cy="716.2" r="4.5" fill="#1d71b8"/>
<circle cx="1452.3" cy="821.3" r="4.5" fill="#e6b91e"/>
<circle cx="1367.5" cy="752.2" r="4.5" fill="#1d71b8"/>
<circle cx="1452.3" cy="750.9" r="4.5" fill="#e6b91e"/>
<circle cx="1367.5" cy="758.7" r="4.5" fill="#1d71b8"/>
<circle cx="1452.3" cy="755.4" r="4.5" fill="#e6b91e"/>
<circle cx="1367.5" cy="805.3" r="4.5" fill="#1d71b8"/>
<circle cx="1452.3" cy="879.7" r="4.5" fill="#e6b91e"/>
<path d="M1317.1 708.6V887.1H1502.4" stroke="#000" stroke-width="2.6" fill="none"/>
<line x1="1309.5" y1="748.6" x2="1317.1" y2="748.6" stroke="#1a1a1a" stroke-width="2.3" />
<text x="1304.9" y="756.7" font-size="22.7" text-anchor="end" fill="#231815" >0.6</text>
<line x1="1309.5" y1="793.7" x2="1317.1" y2="793.7" stroke="#1a1a1a" stroke-width="2.3" />
<text x="1304.9" y="801.8" font-size="22.7" text-anchor="end" fill="#231815" >0.4</text>
<line x1="1309.5" y1="838.7" x2="1317.1" y2="838.7" stroke="#1a1a1a" stroke-width="2.3" />
<text x="1304.9" y="846.8" font-size="22.7" text-anchor="end" fill="#231815" >0.2</text>
<line x1="1309.5" y1="884.1" x2="1317.1" y2="884.1" stroke="#1a1a1a" stroke-width="2.3" />
<text x="1304.9" y="892.2" font-size="22.7" text-anchor="end" fill="#231815" >0.0</text>
<line x1="1367.5" y1="887.1" x2="1367.5" y2="894.1" stroke="#1a1a1a" stroke-width="2.3" />
<line x1="1452.3" y1="887.1" x2="1452.3" y2="894.1" stroke="#1a1a1a" stroke-width="2.3" />
<text x="1370.8" y="909.4" font-size="23.5" text-anchor="middle" fill="#231815" >pre</text>
<text x="1458.6" y="909.4" font-size="23.5" text-anchor="middle" fill="#231815" >post</text>
<text x="1389.0" y="725.1" font-size="23.5" fill="#231815"><tspan font-style="italic">p</tspan>=0.11</text>
<text x="1429.5" y="686.3" font-size="27" text-anchor="middle" fill="#231815" >Medium</text>
<line x1="1610.4" y1="878.2" x2="1695.5" y2="725.6" stroke="#bdbdbd" stroke-width="2.8" />
<line x1="1610.4" y1="850.4" x2="1695.5" y2="824.6" stroke="#bdbdbd" stroke-width="2.8" />
<line x1="1610.4" y1="862.5" x2="1695.5" y2="852.4" stroke="#bdbdbd" stroke-width="2.8" />
<line x1="1610.4" y1="879.0" x2="1695.5" y2="857.5" stroke="#bdbdbd" stroke-width="2.8" />
<circle cx="1610.4" cy="878.2" r="4.5" fill="#1d71b8"/>
<circle cx="1695.5" cy="725.6" r="4.5" fill="#e6b91e"/>
<circle cx="1610.4" cy="850.4" r="4.5" fill="#1d71b8"/>
<circle cx="1695.5" cy="824.6" r="4.5" fill="#e6b91e"/>
<circle cx="1610.4" cy="862.5" r="4.5" fill="#1d71b8"/>
<circle cx="1695.5" cy="852.4" r="4.5" fill="#e6b91e"/>
<circle cx="1610.4" cy="879.0" r="4.5" fill="#1d71b8"/>
<circle cx="1695.5" cy="857.5" r="4.5" fill="#e6b91e"/>
<path d="M1559.8 707.3V886.3H1746.6" stroke="#000" stroke-width="2.6" fill="none"/>
<line x1="1552.2" y1="740.3" x2="1559.8" y2="740.3" stroke="#1a1a1a" stroke-width="2.3" />
<text x="1547.9" y="748.4" font-size="22.7" text-anchor="end" fill="#231815" >0.6</text>
<line x1="1552.2" y1="790.4" x2="1559.8" y2="790.4" stroke="#1a1a1a" stroke-width="2.3" />
<text x="1547.9" y="798.5" font-size="22.7" text-anchor="end" fill="#231815" >0.4</text>
<line x1="1552.2" y1="840.3" x2="1559.8" y2="840.3" stroke="#1a1a1a" stroke-width="2.3" />
<text x="1547.9" y="848.4" font-size="22.7" text-anchor="end" fill="#231815" >0.2</text>
<line x1="1552.2" y1="884.6" x2="1559.8" y2="884.6" stroke="#1a1a1a" stroke-width="2.3" />
<text x="1547.9" y="892.7" font-size="22.7" text-anchor="end" fill="#231815" >0.0</text>
<line x1="1610.4" y1="886.3" x2="1610.4" y2="893.3" stroke="#1a1a1a" stroke-width="2.3" />
<line x1="1695.5" y1="886.3" x2="1695.5" y2="893.3" stroke="#1a1a1a" stroke-width="2.3" />
<text x="1610.4" y="909.4" font-size="23.5" text-anchor="middle" fill="#231815" >pre</text>
<text x="1698.0" y="909.4" font-size="23.5" text-anchor="middle" fill="#231815" >post</text>
<text x="1615.0" y="721.3" font-size="23.5" fill="#231815"><tspan font-style="italic">p</tspan>=0.093</text>
<text x="1666.1" y="686.3" font-size="27" text-anchor="middle" fill="#231815" >Large</text>
<line x1="1854.2" y1="784.1" x2="1939.0" y2="727.6" stroke="#bdbdbd" stroke-width="2.8" />
<line x1="1854.2" y1="857.5" x2="1939.0" y2="832.2" stroke="#bdbdbd" stroke-width="2.8" />
<line x1="1854.2" y1="861.0" x2="1939.0" y2="846.1" stroke="#bdbdbd" stroke-width="2.8" />
<line x1="1854.2" y1="878.5" x2="1939.0" y2="873.2" stroke="#bdbdbd" stroke-width="2.8" />
<circle cx="1854.2" cy="784.1" r="4.5" fill="#1d71b8"/>
<circle cx="1939.0" cy="727.6" r="4.5" fill="#e6b91e"/>
<circle cx="1854.2" cy="857.5" r="4.5" fill="#1d71b8"/>
<circle cx="1939.0" cy="832.2" r="4.5" fill="#e6b91e"/>
<circle cx="1854.2" cy="861.0" r="4.5" fill="#1d71b8"/>
<circle cx="1939.0" cy="846.1" r="4.5" fill="#e6b91e"/>
<circle cx="1854.2" cy="878.5" r="4.5" fill="#1d71b8"/>
<circle cx="1939.0" cy="873.2" r="4.5" fill="#e6b91e"/>
<path d="M1803.6 707.3V886.3H1989.7" stroke="#000" stroke-width="2.6" fill="none"/>
<line x1="1796.0" y1="738.0" x2="1803.6" y2="738.0" stroke="#1a1a1a" stroke-width="2.3" />
<text x="1790.9" y="746.1" font-size="22.7" text-anchor="end" fill="#231815" >0.6</text>
<line x1="1796.0" y1="784.8" x2="1803.6" y2="784.8" stroke="#1a1a1a" stroke-width="2.3" />
<text x="1790.9" y="792.9" font-size="22.7" text-anchor="end" fill="#231815" >0.4</text>
<line x1="1796.0" y1="831.6" x2="1803.6" y2="831.6" stroke="#1a1a1a" stroke-width="2.3" />
<text x="1790.9" y="839.7" font-size="22.7" text-anchor="end" fill="#231815" >0.2</text>
<line x1="1796.0" y1="878.5" x2="1803.6" y2="878.5" stroke="#1a1a1a" stroke-width="2.3" />
<text x="1790.9" y="886.6" font-size="22.7" text-anchor="end" fill="#231815" >0.0</text>
<line x1="1854.2" y1="886.3" x2="1854.2" y2="893.3" stroke="#1a1a1a" stroke-width="2.3" />
<line x1="1939.0" y1="886.3" x2="1939.0" y2="893.3" stroke="#1a1a1a" stroke-width="2.3" />
<text x="1857.5" y="913.2" font-size="23.5" text-anchor="middle" fill="#231815" >pre</text>
<text x="1945.4" y="913.2" font-size="23.5" text-anchor="middle" fill="#231815" >post</text>
<text x="1855.0" y="721.3" font-size="23.5" fill="#231815"><tspan font-style="italic">p</tspan>=0.053</text>
<text x="1894.7" y="686.3" font-size="27" text-anchor="middle" fill="#231815" >Hyperexpanded</text>
<path d="M1034.0 926.2L1989.7 929.0" stroke="#231815" stroke-width="2.5" fill="none"/>
<text x="1522.5" y="951.3" font-size="24" text-anchor="middle" fill="#231815" >PPR+</text>
<line x1="1132.0" y1="1027.1" x2="1216.8" y2="1113.4" stroke="#bdbdbd" stroke-width="2.8" />
<line x1="1132.0" y1="1036.7" x2="1216.8" y2="1162.3" stroke="#bdbdbd" stroke-width="2.8" />
<line x1="1132.0" y1="1093.4" x2="1216.8" y2="1055.2" stroke="#bdbdbd" stroke-width="2.8" />
<line x1="1132.0" y1="1101.5" x2="1216.8" y2="1147.1" stroke="#bdbdbd" stroke-width="2.8" />
<line x1="1132.0" y1="1154.7" x2="1216.8" y2="1136.2" stroke="#bdbdbd" stroke-width="2.8" />
<line x1="1132.0" y1="1157.7" x2="1216.8" y2="1141.8" stroke="#bdbdbd" stroke-width="2.8" />
<circle cx="1132.0" cy="1027.1" r="4.5" fill="#1d71b8"/>
<circle cx="1216.8" cy="1113.4" r="4.5" fill="#e6b91e"/>
<circle cx="1132.0" cy="1036.7" r="4.5" fill="#1d71b8"/>
<circle cx="1216.8" cy="1162.3" r="4.5" fill="#e6b91e"/>
<circle cx="1132.0" cy="1093.4" r="4.5" fill="#1d71b8"/>
<circle cx="1216.8" cy="1055.2" r="4.5" fill="#e6b91e"/>
<circle cx="1132.0" cy="1101.5" r="4.5" fill="#1d71b8"/>
<circle cx="1216.8" cy="1147.1" r="4.5" fill="#e6b91e"/>
<circle cx="1132.0" cy="1154.7" r="4.5" fill="#1d71b8"/>
<circle cx="1216.8" cy="1136.2" r="4.5" fill="#e6b91e"/>
<circle cx="1132.0" cy="1157.7" r="4.5" fill="#1d71b8"/>
<circle cx="1216.8" cy="1141.8" r="4.5" fill="#e6b91e"/>
<path d="M1081.6 991.4V1170.4H1267.5" stroke="#000" stroke-width="2.6" fill="none"/>
<line x1="1074.0" y1="1022.5" x2="1081.6" y2="1022.5" stroke="#1a1a1a" stroke-width="2.3" />
<text x="1069.5" y="1030.6" font-size="22.7" text-anchor="end" fill="#231815" >0.6</text>
<line x1="1074.0" y1="1071.6" x2="1081.6" y2="1071.6" stroke="#1a1a1a" stroke-width="2.3" />
<text x="1069.5" y="1079.7" font-size="22.7" text-anchor="end" fill="#231815" >0.4</text>
<line x1="1074.0" y1="1120.5" x2="1081.6" y2="1120.5" stroke="#1a1a1a" stroke-width="2.3" />
<text x="1069.5" y="1128.6" font-size="22.7" text-anchor="end" fill="#231815" >0.2</text>
<line x1="1074.0" y1="1169.1" x2="1081.6" y2="1169.1" stroke="#1a1a1a" stroke-width="2.3" />
<text x="1069.5" y="1177.2" font-size="22.7" text-anchor="end" fill="#231815" >0.0</text>
<line x1="1132.0" y1="1170.4" x2="1132.0" y2="1177.4" stroke="#1a1a1a" stroke-width="2.3" />
<line x1="1216.8" y1="1170.4" x2="1216.8" y2="1177.4" stroke="#1a1a1a" stroke-width="2.3" />
<text x="1132.0" y="1191.4" font-size="23.5" text-anchor="middle" fill="#231815" >pre</text>
<text x="1220.1" y="1191.4" font-size="23.5" text-anchor="middle" fill="#231815" >post</text>
<text x="1144.9" y="1005.8" font-size="23.5" fill="#231815"><tspan font-style="italic">p</tspan>=0.15</text>
<line x1="1370.8" y1="1017.2" x2="1455.6" y2="1056.2" stroke="#bdbdbd" stroke-width="2.8" />
<line x1="1370.8" y1="1033.2" x2="1455.6" y2="1001.3" stroke="#bdbdbd" stroke-width="2.8" />
<line x1="1370.8" y1="1073.4" x2="1455.6" y2="1041.3" stroke="#bdbdbd" stroke-width="2.8" />
<line x1="1370.8" y1="1081.3" x2="1455.6" y2="1077.7" stroke="#bdbdbd" stroke-width="2.8" />
<line x1="1370.8" y1="1113.7" x2="1455.6" y2="1022.5" stroke="#bdbdbd" stroke-width="2.8" />
<line x1="1370.8" y1="1144.6" x2="1455.6" y2="1160.3" stroke="#bdbdbd" stroke-width="2.8" />
<circle cx="1370.8" cy="1017.2" r="4.5" fill="#1d71b8"/>
<circle cx="1455.6" cy="1056.2" r="4.5" fill="#e6b91e"/>
<circle cx="1370.8" cy="1033.2" r="4.5" fill="#1d71b8"/>
<circle cx="1455.6" cy="1001.3" r="4.5" fill="#e6b91e"/>
<circle cx="1370.8" cy="1073.4" r="4.5" fill="#1d71b8"/>
<circle cx="1455.6" cy="1041.3" r="4.5" fill="#e6b91e"/>
<circle cx="1370.8" cy="1081.3" r="4.5" fill="#1d71b8"/>
<circle cx="1455.6" cy="1077.7" r="4.5" fill="#e6b91e"/>
<circle cx="1370.8" cy="1113.7" r="4.5" fill="#1d71b8"/>
<circle cx="1455.6" cy="1022.5" r="4.5" fill="#e6b91e"/>
<circle cx="1370.8" cy="1144.6" r="4.5" fill="#1d71b8"/>
<circle cx="1455.6" cy="1160.3" r="4.5" fill="#e6b91e"/>
<path d="M1320.1 989.4V1168.6H1505.4" stroke="#000" stroke-width="2.6" fill="none"/>
<line x1="1312.5" y1="1024.8" x2="1320.1" y2="1024.8" stroke="#1a1a1a" stroke-width="2.3" />
<text x="1307.5" y="1032.9" font-size="22.7" text-anchor="end" fill="#231815" >0.6</text>
<line x1="1312.5" y1="1074.2" x2="1320.1" y2="1074.2" stroke="#1a1a1a" stroke-width="2.3" />
<text x="1307.5" y="1082.3" font-size="22.7" text-anchor="end" fill="#231815" >0.4</text>
<line x1="1312.5" y1="1123.3" x2="1320.1" y2="1123.3" stroke="#1a1a1a" stroke-width="2.3" />
<text x="1307.5" y="1131.4" font-size="22.7" text-anchor="end" fill="#231815" >0.2</text>
<line x1="1312.5" y1="1162.8" x2="1320.1" y2="1162.8" stroke="#1a1a1a" stroke-width="2.3" />
<text x="1307.5" y="1175.2" font-size="22.7" text-anchor="end" fill="#231815" >0.0</text>
<line x1="1370.8" y1="1168.6" x2="1370.8" y2="1175.6" stroke="#1a1a1a" stroke-width="2.3" />
<line x1="1455.6" y1="1168.6" x2="1455.6" y2="1175.6" stroke="#1a1a1a" stroke-width="2.3" />
<text x="1373.8" y="1191.4" font-size="23.5" text-anchor="middle" fill="#231815" >pre</text>
<text x="1461.9" y="1191.4" font-size="23.5" text-anchor="middle" fill="#231815" >post</text>
<text x="1383.4" y="1000.0" font-size="23.5" fill="#231815"><tspan font-style="italic">p</tspan>=0.20</text>
<line x1="1611.7" y1="1153.9" x2="1696.8" y2="1003.0" stroke="#bdbdbd" stroke-width="2.8" />
<line x1="1611.7" y1="1076.2" x2="1696.8" y2="1128.1" stroke="#bdbdbd" stroke-width="2.8" />
<line x1="1611.7" y1="1135.7" x2="1696.8" y2="1129.4" stroke="#bdbdbd" stroke-width="2.8" />
<line x1="1611.7" y1="1141.8" x2="1696.8" y2="1144.6" stroke="#bdbdbd" stroke-width="2.8" />
<line x1="1611.7" y1="1154.7" x2="1696.8" y2="1150.6" stroke="#bdbdbd" stroke-width="2.8" />
<line x1="1611.7" y1="1158.2" x2="1696.8" y2="1158.5" stroke="#bdbdbd" stroke-width="2.8" />
<circle cx="1611.7" cy="1153.9" r="4.5" fill="#1d71b8"/>
<circle cx="1696.8" cy="1003.0" r="4.5" fill="#e6b91e"/>
<circle cx="1611.7" cy="1076.2" r="4.5" fill="#1d71b8"/>
<circle cx="1696.8" cy="1128.1" r="4.5" fill="#e6b91e"/>
<circle cx="1611.7" cy="1135.7" r="4.5" fill="#1d71b8"/>
<circle cx="1696.8" cy="1129.4" r="4.5" fill="#e6b91e"/>
<circle cx="1611.7" cy="1141.8" r="4.5" fill="#1d71b8"/>
<circle cx="1696.8" cy="1144.6" r="4.5" fill="#e6b91e"/>
<circle cx="1611.7" cy="1154.7" r="4.5" fill="#1d71b8"/>
<circle cx="1696.8" cy="1150.6" r="4.5" fill="#e6b91e"/>
<circle cx="1611.7" cy="1158.2" r="4.5" fill="#1d71b8"/>
<circle cx="1696.8" cy="1158.5" r="4.5" fill="#e6b91e"/>
<path d="M1561.1 987.3V1167.1H1747.1" stroke="#000" stroke-width="2.6" fill="none"/>
<line x1="1553.5" y1="994.4" x2="1561.1" y2="994.4" stroke="#1a1a1a" stroke-width="2.3" />
<text x="1547.9" y="1002.5" font-size="22.7" text-anchor="end" fill="#231815" >0.6</text>
<line x1="1553.5" y1="1051.9" x2="1561.1" y2="1051.9" stroke="#1a1a1a" stroke-width="2.3" />
<text x="1547.9" y="1060.0" font-size="22.7" text-anchor="end" fill="#231815" >0.4</text>
<line x1="1553.5" y1="1109.1" x2="1561.1" y2="1109.1" stroke="#1a1a1a" stroke-width="2.3" />
<text x="1547.9" y="1117.2" font-size="22.7" text-anchor="end" fill="#231815" >0.2</text>
<line x1="1553.5" y1="1166.1" x2="1561.1" y2="1166.1" stroke="#1a1a1a" stroke-width="2.3" />
<text x="1547.9" y="1174.2" font-size="22.7" text-anchor="end" fill="#231815" >0.0</text>
<line x1="1611.7" y1="1167.1" x2="1611.7" y2="1174.1" stroke="#1a1a1a" stroke-width="2.3" />
<line x1="1696.8" y1="1167.1" x2="1696.8" y2="1174.1" stroke="#1a1a1a" stroke-width="2.3" />
<text x="1611.7" y="1191.4" font-size="23.5" text-anchor="middle" fill="#231815" >pre</text>
<text x="1699.8" y="1191.4" font-size="23.5" text-anchor="middle" fill="#231815" >post</text>
<text x="1617.5" y="1002.0" font-size="23.5" fill="#231815"><tspan font-style="italic">p</tspan>=0.28</text>
<line x1="1860.1" y1="994.9" x2="1945.1" y2="999.7" stroke="#bdbdbd" stroke-width="2.8" />
<line x1="1860.1" y1="1107.3" x2="1945.1" y2="1111.1" stroke="#bdbdbd" stroke-width="2.8" />
<line x1="1860.1" y1="1141.3" x2="1945.1" y2="1141.8" stroke="#bdbdbd" stroke-width="2.8" />
<line x1="1860.1" y1="1147.6" x2="1945.1" y2="1158.7" stroke="#bdbdbd" stroke-width="2.8" />
<line x1="1860.1" y1="1150.9" x2="1945.1" y2="1147.1" stroke="#bdbdbd" stroke-width="2.8" />
<line x1="1860.1" y1="1154.7" x2="1945.1" y2="1153.4" stroke="#bdbdbd" stroke-width="2.8" />
<circle cx="1860.1" cy="994.9" r="4.5" fill="#1d71b8"/>
<circle cx="1945.1" cy="999.7" r="4.5" fill="#e6b91e"/>
<circle cx="1860.1" cy="1107.3" r="4.5" fill="#1d71b8"/>
<circle cx="1945.1" cy="1111.1" r="4.5" fill="#e6b91e"/>
<circle cx="1860.1" cy="1141.3" r="4.5" fill="#1d71b8"/>
<circle cx="1945.1" cy="1141.8" r="4.5" fill="#e6b91e"/>
<circle cx="1860.1" cy="1147.6" r="4.5" fill="#1d71b8"/>
<circle cx="1945.1" cy="1158.7" r="4.5" fill="#e6b91e"/>
<circle cx="1860.1" cy="1150.9" r="4.5" fill="#1d71b8"/>
<circle cx="1945.1" cy="1147.1" r="4.5" fill="#e6b91e"/>
<circle cx="1860.1" cy="1154.7" r="4.5" fill="#1d71b8"/>
<circle cx="1945.1" cy="1153.4" r="4.5" fill="#e6b91e"/>
<path d="M1809.9 987.3V1167.1H1996.0" stroke="#000" stroke-width="2.6" fill="none"/>
<line x1="1802.3" y1="1030.1" x2="1809.9" y2="1030.1" stroke="#1a1a1a" stroke-width="2.3" />
<text x="1797.3" y="1038.2" font-size="22.7" text-anchor="end" fill="#231815" >0.6</text>
<line x1="1802.3" y1="1073.2" x2="1809.9" y2="1073.2" stroke="#1a1a1a" stroke-width="2.3" />
<text x="1797.3" y="1081.3" font-size="22.7" text-anchor="end" fill="#231815" >0.4</text>
<line x1="1802.3" y1="1115.9" x2="1809.9" y2="1115.9" stroke="#1a1a1a" stroke-width="2.3" />
<text x="1797.3" y="1124.0" font-size="22.7" text-anchor="end" fill="#231815" >0.2</text>
<line x1="1802.3" y1="1158.7" x2="1809.9" y2="1158.7" stroke="#1a1a1a" stroke-width="2.3" />
<text x="1797.3" y="1166.8" font-size="22.7" text-anchor="end" fill="#231815" >0.0</text>
<line x1="1860.1" y1="1167.1" x2="1860.1" y2="1174.1" stroke="#1a1a1a" stroke-width="2.3" />
<line x1="1945.1" y1="1167.1" x2="1945.1" y2="1174.1" stroke="#1a1a1a" stroke-width="2.3" />
<text x="1863.6" y="1191.4" font-size="23.5" text-anchor="middle" fill="#231815" >pre</text>
<text x="1951.7" y="1191.4" font-size="23.5" text-anchor="middle" fill="#231815" >post</text>
<text x="1863.1" y="980.5" font-size="23.5" fill="#231815"><tspan font-style="italic">p</tspan>=0.15</text>
<path d="M1025.2 1212.0L1996 1213.4" stroke="#231815" stroke-width="2.5" fill="none"/>
<text x="1524.5" y="1236.2" font-size="27" text-anchor="middle" fill="#231815" >non-PPR+</text>
</g>
<g id="panel-f">
<text x="1.0" y="1299.6" font-size="47" text-anchor="start" fill="#231815" >f</text>
<path d="M99.6 1300.0V1831.3" stroke="#aaa5a1" stroke-width="2.3" fill="none"/>
<path d="M99.6 1618.0H650.4" stroke="#aaa5a1" stroke-width="2.1" fill="none"/>
<text x="44.0" y="1304.0" font-size="24" text-anchor="start" fill="#231815" >0.15</text>
<text x="44.0" y="1410.3" font-size="24" text-anchor="start" fill="#231815" >0.1</text>
<text x="44.0" y="1514.5" font-size="24" text-anchor="start" fill="#231815" >0.05</text>
<text x="44.0" y="1618.3" font-size="24" text-anchor="start" fill="#231815" >0</text>
<text x="44.0" y="1726.5" font-size="24" text-anchor="start" fill="#231815" >-0.05</text>
<text x="44.0" y="1834.6" font-size="24" text-anchor="start" fill="#231815" >-0.1</text>
<circle cx="144.9" cy="1582.3" r="6.0" fill="#a06c10"/>
<circle cx="144.9" cy="1591.9" r="6.0" fill="#a5300f"/>
<circle cx="144.9" cy="1563.8" r="6.0" fill="#7ab857"/>
<circle cx="144.9" cy="1584.3" r="6.0" fill="#93c977"/>
<circle cx="144.9" cy="1595.9" r="6.0" fill="#f5c93a"/>
<circle cx="144.9" cy="1609.5" r="6.0" fill="#f0956d"/>
<circle cx="144.9" cy="1612.7" r="6.0" fill="#456b1a"/>
<circle cx="144.9" cy="1603.9" r="6.0" fill="#a3d28a"/>
<circle cx="144.9" cy="1623.1" r="6.0" fill="#456b1a"/>
<circle cx="144.9" cy="1616.7" r="6.0" fill="#ee5f22"/>
<circle cx="144.9" cy="1631.1" r="6.0" fill="#f5a585"/>
<circle cx="144.9" cy="1637.5" r="6.0" fill="#f0956d"/>
<circle cx="144.9" cy="1644.4" r="6.0" fill="#f5b324"/>
<circle cx="144.9" cy="1660.4" r="6.0" fill="#bd830f"/>
<circle cx="144.9" cy="1670.3" r="6.0" fill="#25380f"/>
<circle cx="144.9" cy="1740.7" r="6.0" fill="#4a7523"/>
<circle cx="190.8" cy="1574.7" r="6.0" fill="#bd830f"/>
<circle cx="190.8" cy="1591.9" r="6.0" fill="#a5300f"/>
<circle cx="190.8" cy="1607.1" r="6.0" fill="#456b1a"/>
<circle cx="190.8" cy="1609.2" r="6.0" fill="#93c977"/>
<circle cx="190.8" cy="1614.3" r="6.0" fill="#f5d565"/>
<circle cx="190.8" cy="1644.7" r="6.0" fill="#25380f"/>
<circle cx="190.8" cy="1618.3" r="6.0" fill="#a3d28a"/>
<circle cx="190.8" cy="1626.3" r="6.0" fill="#ee5f22"/>
<circle cx="190.8" cy="1639.9" r="6.0" fill="#a06c10"/>
<circle cx="236.7" cy="1577.5" r="6.0" fill="#f0956d"/>
<circle cx="236.7" cy="1635.9" r="6.0" fill="#f0956d"/>
<circle cx="236.7" cy="1605.1" r="6.0" fill="#a5300f"/>
<circle cx="236.7" cy="1611.9" r="6.0" fill="#93c977"/>
<circle cx="236.7" cy="1623.9" r="6.0" fill="#f5d565"/>
<circle cx="236.7" cy="1614.3" r="6.0" fill="#f5d565"/>
<circle cx="236.7" cy="1630.3" r="6.0" fill="#25380f"/>
<circle cx="236.7" cy="1617.8" r="6.0" fill="#ee5f22"/>
<circle cx="282.6" cy="1549.1" r="6.0" fill="#bd830f"/>
<circle cx="282.6" cy="1607.1" r="6.0" fill="#a06c10"/>
<circle cx="282.6" cy="1622.3" r="6.0" fill="#f0956d"/>
<circle cx="282.6" cy="1613.5" r="6.0" fill="#7ab857"/>
<circle cx="282.6" cy="1602.3" r="6.0" fill="#f5d565"/>
<circle cx="282.6" cy="1594.2" r="6.0" fill="#93c977"/>
<circle cx="282.6" cy="1617.5" r="6.0" fill="#ee5f22"/>
<circle cx="282.6" cy="1665.8" r="6.0" fill="#a5300f"/>
<circle cx="282.6" cy="1701.0" r="6.0" fill="#f0956d"/>
<circle cx="328.7" cy="1521.6" r="6.0" fill="#93c977"/>
<circle cx="328.7" cy="1583.1" r="6.0" fill="#7ab857"/>
<circle cx="328.7" cy="1574.0" r="6.0" fill="#a3d28a"/>
<circle cx="328.7" cy="1599.1" r="6.0" fill="#f5d565"/>
<circle cx="328.7" cy="1637.5" r="6.0" fill="#93c977"/>
<circle cx="328.7" cy="1642.3" r="6.0" fill="#f5a585"/>
<circle cx="328.7" cy="1647.9" r="6.0" fill="#f0956d"/>
<circle cx="328.7" cy="1623.1" r="6.0" fill="#93c977"/>
<circle cx="328.7" cy="1607.9" r="6.0" fill="#f5c93a"/>
<circle cx="328.7" cy="1603.1" r="6.0" fill="#456b1a"/>
<circle cx="328.7" cy="1630.3" r="6.0" fill="#6b1a05"/>
<circle cx="328.7" cy="1618.3" r="6.0" fill="#f0956d"/>
<circle cx="328.7" cy="1612.7" r="6.0" fill="#ee5f22"/>
<circle cx="328.7" cy="1675.4" r="6.0" fill="#a06c10"/>
<circle cx="328.7" cy="1701.0" r="6.0" fill="#ee5f22"/>
<circle cx="374.4" cy="1565.6" r="6.0" fill="#a06c10"/>
<circle cx="374.4" cy="1582.3" r="6.0" fill="#7ab857"/>
<circle cx="374.4" cy="1588.7" r="6.0" fill="#ee5f22"/>
<circle cx="374.4" cy="1603.1" r="6.0" fill="#a06c10"/>
<circle cx="374.4" cy="1606.3" r="6.0" fill="#f0956d"/>
<circle cx="374.4" cy="1641.5" r="6.0" fill="#bd830f"/>
<circle cx="374.4" cy="1635.9" r="6.0" fill="#f5d565"/>
<circle cx="374.4" cy="1619.1" r="6.0" fill="#f0956d"/>
<circle cx="374.4" cy="1610.3" r="6.0" fill="#a3d28a"/>
<circle cx="374.4" cy="1625.8" r="6.0" fill="#ee5f22"/>
<circle cx="374.4" cy="1651.9" r="6.0" fill="#456b1a"/>
<circle cx="374.4" cy="1699.1" r="6.0" fill="#7ab857"/>
<circle cx="420.5" cy="1596.4" r="6.0" fill="#bd830f"/>
<circle cx="420.5" cy="1589.8" r="6.0" fill="#f5c93a"/>
<circle cx="420.5" cy="1604.4" r="6.0" fill="#7ab857"/>
<circle cx="420.5" cy="1609.8" r="6.0" fill="#456b1a"/>
<circle cx="420.5" cy="1637.7" r="6.0" fill="#25380f"/>
<circle cx="420.5" cy="1625.7" r="6.0" fill="#f5d565"/>
<circle cx="420.5" cy="1632.4" r="6.0" fill="#93c977"/>
<circle cx="420.5" cy="1619.1" r="6.0" fill="#ee5f22"/>
<circle cx="420.5" cy="1647.1" r="6.0" fill="#7ab857"/>
<circle cx="466.1" cy="1575.1" r="6.0" fill="#7ab857"/>
<circle cx="466.1" cy="1569.0" r="6.0" fill="#f5b324"/>
<circle cx="466.1" cy="1585.8" r="6.0" fill="#f5d565"/>
<circle cx="466.1" cy="1599.1" r="6.0" fill="#a5300f"/>
<circle cx="466.1" cy="1624.4" r="6.0" fill="#f5c93a"/>
<circle cx="466.1" cy="1617.2" r="6.0" fill="#a3d28a"/>
<circle cx="466.1" cy="1607.6" r="6.0" fill="#ee5f22"/>
<circle cx="466.1" cy="1643.9" r="6.0" fill="#f5c93a"/>
<circle cx="466.1" cy="1632.4" r="6.0" fill="#8a2a0a"/>
<circle cx="466.1" cy="1637.7" r="6.0" fill="#ee5f22"/>
<circle cx="466.1" cy="1677.2" r="6.0" fill="#25380f"/>
<circle cx="466.1" cy="1695.5" r="6.0" fill="#bd830f"/>
<circle cx="512.2" cy="1362.0" r="6.0" fill="#25380f"/>
<circle cx="512.2" cy="1544.7" r="6.0" fill="#6b1a05"/>
<circle cx="512.2" cy="1573.0" r="6.0" fill="#7ab857"/>
<circle cx="512.2" cy="1592.4" r="6.0" fill="#f5c93a"/>
<circle cx="512.2" cy="1583.1" r="6.0" fill="#8a2a0a"/>
<circle cx="512.2" cy="1609.8" r="6.0" fill="#456b1a"/>
<circle cx="512.2" cy="1600.4" r="6.0" fill="#a3d28a"/>
<circle cx="512.2" cy="1648.4" r="6.0" fill="#bd830f"/>
<circle cx="512.2" cy="1629.7" r="6.0" fill="#f5d565"/>
<circle cx="512.2" cy="1641.7" r="6.0" fill="#f5c93a"/>
<circle cx="512.2" cy="1620.4" r="6.0" fill="#ee5f22"/>
<circle cx="512.2" cy="1657.7" r="6.0" fill="#4a7523"/>
<circle cx="512.2" cy="1665.7" r="6.0" fill="#6b4a0f"/>
<circle cx="512.2" cy="1722.2" r="6.0" fill="#f0956d"/>
<circle cx="512.2" cy="1797.6" r="6.0" fill="#93c977"/>
<circle cx="558.0" cy="1528.0" r="6.0" fill="#25380f"/>
<circle cx="558.0" cy="1555.7" r="6.0" fill="#bd830f"/>
<circle cx="558.0" cy="1585.8" r="6.0" fill="#f0956d"/>
<circle cx="558.0" cy="1593.8" r="6.0" fill="#6b1a05"/>
<circle cx="558.0" cy="1602.3" r="6.0" fill="#7ab857"/>
<circle cx="558.0" cy="1639.1" r="6.0" fill="#a3d28a"/>
<circle cx="558.0" cy="1623.1" r="6.0" fill="#f5a585"/>
<circle cx="558.0" cy="1615.1" r="6.0" fill="#f5d565"/>
<circle cx="558.0" cy="1629.7" r="6.0" fill="#ee5f22"/>
<circle cx="558.0" cy="1743.0" r="6.0" fill="#a5300f"/>
<text transform="translate(148.7 1897.2) rotate(-90)" font-size="24.5" fill="#231815">P03</text>
<text transform="translate(194.7 1897.2) rotate(-90)" font-size="24.5" fill="#231815">P04</text>
<text transform="translate(241.9 1897.2) rotate(-90)" font-size="24.5" fill="#231815">P07</text>
<text transform="translate(288.1 1897.2) rotate(-90)" font-size="24.5" fill="#231815">P08</text>
<text transform="translate(337.1 1897.2) rotate(-90)" font-size="24.5" fill="#231815">P14</text>
<text transform="translate(382.6 1897.2) rotate(-90)" font-size="24.5" fill="#231815">P15</text>
<text transform="translate(426.5 1897.2) rotate(-90)" font-size="24.5" fill="#231815">P10</text>
<text transform="translate(469.1 1897.2) rotate(-90)" font-size="24.5" fill="#231815">P19</text>
<text transform="translate(518.1 1897.2) rotate(-90)" font-size="24.5" fill="#231815">P16</text>
<text transform="translate(561.3 1897.2) rotate(-90)" font-size="24.5" fill="#231815">P18</text>
<text x="494.0" y="1449.6" font-size="27" text-anchor="start" fill="#231815" >TRBV 20-1</text>
<path d="M554.6 1420.2L536.5 1393.0" stroke="#e60012" stroke-width="2.4" fill="none"/>
<polygon points="526.0,1378.8 552.6,1392.6 538.8,1395.2 528.7,1407.2" fill="#e60012"/>
<path d="M559.8 1465.1L560.3 1492.0" stroke="#e60012" stroke-width="2.4" fill="none"/>
<polygon points="560.6,1512.5 546.5,1487.2 560.3,1492.6 574.0,1487.2" fill="#e60012"/>
</g>
<g id="panel-g">
<text x="701.0" y="1302.5" font-size="47" text-anchor="start" fill="#231815" >g</text>
<path d="M807.4 1302.5V1833.0" stroke="#aaa5a1" stroke-width="2.2" fill="none"/>
<path d="M807.4 1515.0H1280.8" stroke="#aaa5a1" stroke-width="2.1" fill="none"/>
<text x="750.6" y="1308.2" font-size="24" text-anchor="start" fill="#231815" >0.1</text>
<text x="750.6" y="1412.1" font-size="24" text-anchor="start" fill="#231815" >0.05</text>
<text x="750.6" y="1517.3" font-size="24" text-anchor="start" fill="#231815" >0</text>
<text x="750.6" y="1622.6" font-size="24" text-anchor="start" fill="#231815" >-0.05</text>
<text x="750.6" y="1731.1" font-size="24" text-anchor="start" fill="#231815" >-0.1</text>
<text x="750.6" y="1832.8" font-size="24" text-anchor="start" fill="#231815" >-0.15</text>
<circle cx="846.6" cy="1434.5" r="5.8" fill="#7ab857"/>
<circle cx="846.6" cy="1463.3" r="5.8" fill="#80550f"/>
<circle cx="846.6" cy="1486.4" r="5.8" fill="#f5b324"/>
<circle cx="846.6" cy="1496.8" r="5.8" fill="#ee5f22"/>
<circle cx="846.6" cy="1491.2" r="5.8" fill="#4a7523"/>
<circle cx="846.6" cy="1509.2" r="5.8" fill="#8a2a0a"/>
<circle cx="846.6" cy="1520.0" r="5.8" fill="#cf3f0a"/>
<circle cx="846.6" cy="1532.0" r="5.8" fill="#f5b324"/>
<circle cx="846.6" cy="1537.5" r="5.8" fill="#5f9f35"/>
<circle cx="846.6" cy="1552.4" r="5.8" fill="#456b1a"/>
<circle cx="846.6" cy="1542.3" r="5.8" fill="#bd830f"/>
<circle cx="846.6" cy="1548.7" r="5.8" fill="#f0956d"/>
<circle cx="846.6" cy="1574.3" r="5.8" fill="#ee7a4a"/>
<circle cx="886.1" cy="1448.5" r="5.8" fill="#7ab857"/>
<circle cx="886.1" cy="1484.8" r="5.8" fill="#f0956d"/>
<circle cx="886.1" cy="1503.2" r="5.8" fill="#25380f"/>
<circle cx="886.1" cy="1512.8" r="5.8" fill="#f5b324"/>
<circle cx="886.1" cy="1525.6" r="5.8" fill="#5f9f35"/>
<circle cx="886.1" cy="1521.6" r="5.8" fill="#bd830f"/>
<circle cx="886.1" cy="1517.2" r="5.8" fill="#4a7523"/>
<circle cx="886.1" cy="1533.6" r="5.8" fill="#80550f"/>
<circle cx="886.1" cy="1577.5" r="5.8" fill="#ee7a4a"/>
<circle cx="925.6" cy="1461.6" r="5.8" fill="#ee5f22"/>
<circle cx="925.6" cy="1492.0" r="5.8" fill="#80550f"/>
<circle cx="925.6" cy="1501.6" r="5.8" fill="#8a2a0a"/>
<circle cx="925.6" cy="1496.4" r="5.8" fill="#25380f"/>
<circle cx="925.6" cy="1509.6" r="5.8" fill="#f5b324"/>
<circle cx="925.6" cy="1512.8" r="5.8" fill="#cf3f0a"/>
<circle cx="925.6" cy="1520.8" r="5.8" fill="#bd830f"/>
<circle cx="925.6" cy="1524.0" r="5.8" fill="#4a7523"/>
<circle cx="925.6" cy="1533.2" r="5.8" fill="#f0956d"/>
<circle cx="925.6" cy="1551.6" r="5.8" fill="#7ab857"/>
<circle cx="925.6" cy="1570.0" r="5.8" fill="#ee7a4a"/>
<circle cx="965.2" cy="1476.0" r="5.8" fill="#f0956d"/>
<circle cx="965.2" cy="1495.5" r="5.8" fill="#25380f"/>
<circle cx="965.2" cy="1490.7" r="5.8" fill="#7ab857"/>
<circle cx="965.2" cy="1508.0" r="5.8" fill="#bd830f"/>
<circle cx="965.2" cy="1518.4" r="5.8" fill="#5f9f35"/>
<circle cx="965.2" cy="1513.6" r="5.8" fill="#4a7523"/>
<circle cx="965.2" cy="1566.3" r="5.8" fill="#ee7a4a"/>
<circle cx="965.2" cy="1589.9" r="5.8" fill="#ee5f22"/>
<circle cx="1004.7" cy="1460.0" r="5.8" fill="#f5b324"/>
<circle cx="1004.7" cy="1476.3" r="5.8" fill="#8a2a0a"/>
<circle cx="1004.7" cy="1469.6" r="5.8" fill="#25380f"/>
<circle cx="1004.7" cy="1490.8" r="5.8" fill="#5f9f35"/>
<circle cx="1004.7" cy="1520.8" r="5.8" fill="#f5c93a"/>
<circle cx="1004.7" cy="1517.6" r="5.8" fill="#4a7523"/>
<circle cx="1004.7" cy="1530.0" r="5.8" fill="#bd830f"/>
<circle cx="1004.7" cy="1583.9" r="5.8" fill="#ee7a4a"/>
<circle cx="1004.7" cy="1625.5" r="5.8" fill="#f0956d"/>
<circle cx="1004.7" cy="1656.4" r="5.8" fill="#7ab857"/>
<circle cx="1044.3" cy="1429.3" r="5.8" fill="#ee7a4a"/>
<circle cx="1044.3" cy="1484.8" r="5.8" fill="#f5b324"/>
<circle cx="1044.3" cy="1490.7" r="5.8" fill="#f0956d"/>
<circle cx="1044.3" cy="1503.2" r="5.8" fill="#25380f"/>
<circle cx="1044.3" cy="1518.8" r="5.8" fill="#bd830f"/>
<circle cx="1044.3" cy="1512.8" r="5.8" fill="#4a7523"/>
<circle cx="1044.3" cy="1536.0" r="5.8" fill="#8a2a0a"/>
<circle cx="1044.3" cy="1531.2" r="5.8" fill="#f5c93a"/>
<circle cx="1044.3" cy="1557.2" r="5.8" fill="#ee5f22"/>
<circle cx="1044.3" cy="1554.3" r="5.8" fill="#4a7523"/>
<circle cx="1044.3" cy="1551.1" r="5.8" fill="#7ab857"/>
<circle cx="1084.1" cy="1403.1" r="5.8" fill="#ee7a4a"/>
<circle cx="1084.1" cy="1471.5" r="5.8" fill="#f0956d"/>
<circle cx="1084.1" cy="1487.5" r="5.8" fill="#80550f"/>
<circle cx="1084.1" cy="1494.8" r="5.8" fill="#f5c93a"/>
<circle cx="1084.1" cy="1507.8" r="5.8" fill="#cf3f0a"/>
<circle cx="1084.1" cy="1524.3" r="5.8" fill="#4a7523"/>
<circle cx="1084.1" cy="1541.4" r="5.8" fill="#bd830f"/>
<circle cx="1084.1" cy="1550.5" r="5.8" fill="#7ab857"/>
<circle cx="1084.1" cy="1609.6" r="5.8" fill="#ee5f22"/>
<circle cx="1123.6" cy="1399.2" r="5.8" fill="#ee5f22"/>
<circle cx="1123.6" cy="1473.0" r="5.8" fill="#5f9f35"/>
<circle cx="1123.6" cy="1505.9" r="5.8" fill="#8a2a0a"/>
<circle cx="1123.6" cy="1509.5" r="5.8" fill="#25380f"/>
<circle cx="1123.6" cy="1525.5" r="5.8" fill="#f5c93a"/>
<circle cx="1123.6" cy="1517.6" r="5.8" fill="#4a7523"/>
<circle cx="1123.6" cy="1532.1" r="5.8" fill="#ee7a4a"/>
<circle cx="1123.6" cy="1540.7" r="5.8" fill="#7ab857"/>
<circle cx="1123.6" cy="1547.6" r="5.8" fill="#bd830f"/>
<circle cx="1123.6" cy="1556.9" r="5.8" fill="#f0956d"/>
<circle cx="1163.1" cy="1323.6" r="5.8" fill="#80550f"/>
<circle cx="1163.1" cy="1366.8" r="5.8" fill="#bd830f"/>
<circle cx="1163.1" cy="1459.3" r="5.8" fill="#f5b324"/>
<circle cx="1163.1" cy="1491.6" r="5.8" fill="#5f9f35"/>
<circle cx="1163.1" cy="1487.5" r="5.8" fill="#f0956d"/>
<circle cx="1163.1" cy="1498.5" r="5.8" fill="#cf3f0a"/>
<circle cx="1163.1" cy="1521.8" r="5.8" fill="#25380f"/>
<circle cx="1163.1" cy="1518.1" r="5.8" fill="#4a7523"/>
<circle cx="1163.1" cy="1554.4" r="5.8" fill="#5f9f35"/>
<circle cx="1163.1" cy="1561.1" r="5.8" fill="#f5c93a"/>
<circle cx="1163.1" cy="1706.5" r="5.8" fill="#ee7a4a"/>
<circle cx="1163.1" cy="1716.3" r="5.8" fill="#ee5f22"/>
<circle cx="1202.6" cy="1455.6" r="5.8" fill="#bd830f"/>
<circle cx="1202.6" cy="1479.6" r="5.8" fill="#7ab857"/>
<circle cx="1202.6" cy="1498.5" r="5.8" fill="#80550f"/>
<circle cx="1202.6" cy="1502.2" r="5.8" fill="#cf3f0a"/>
<circle cx="1202.6" cy="1513.2" r="5.8" fill="#4a7523"/>
<circle cx="1202.6" cy="1531.6" r="5.8" fill="#f5c93a"/>
<circle cx="1202.6" cy="1523.0" r="5.8" fill="#ee7a4a"/>
<circle cx="1202.6" cy="1527.9" r="5.8" fill="#f0956d"/>
<circle cx="1202.6" cy="1626.8" r="5.8" fill="#80550f"/>
<text transform="translate(853.3 1897.2) rotate(-90)" font-size="24.5" fill="#231815">P03</text>
<text transform="translate(893.7 1897.2) rotate(-90)" font-size="24.5" fill="#231815">P04</text>
<text transform="translate(938.7 1897.2) rotate(-90)" font-size="24.5" fill="#231815">P07</text>
<text transform="translate(973.4 1897.2) rotate(-90)" font-size="24.5" fill="#231815">P08</text>
<text transform="translate(1010.6 1897.2) rotate(-90)" font-size="24.5" fill="#231815">P14</text>
<text transform="translate(1048.9 1897.2) rotate(-90)" font-size="24.5" fill="#231815">P15</text>
<text transform="translate(1089.7 1897.2) rotate(-90)" font-size="24.5" fill="#231815">P10</text>
<text transform="translate(1128.7 1897.2) rotate(-90)" font-size="24.5" fill="#231815">P19</text>
<text transform="translate(1177.2 1897.2) rotate(-90)" font-size="24.5" fill="#231815">P16</text>
<text transform="translate(1220.8 1897.2) rotate(-90)" font-size="24.5" fill="#231815">P18</text>
<text x="1195.8" y="1419.6" font-size="27" text-anchor="start" fill="#231815" >TRBJ 2-5</text>
<path d="M1205.0 1390.6L1184.0 1379.4" stroke="#e60012" stroke-width="2.4" fill="none"/>
<polygon points="1168.5,1371.0 1196.4,1370.5 1187.4,1381.3 1183.2,1394.2" fill="#e60012"/>
<path d="M1200.4 1421.2L1200.4 1430.0" stroke="#e60012" stroke-width="2.4" fill="none"/>
<polygon points="1200.4,1449.0 1186.6,1424.4 1200.4,1431.0 1213.9,1424.4" fill="#e60012"/>
</g>
</svg>
</body></html>
